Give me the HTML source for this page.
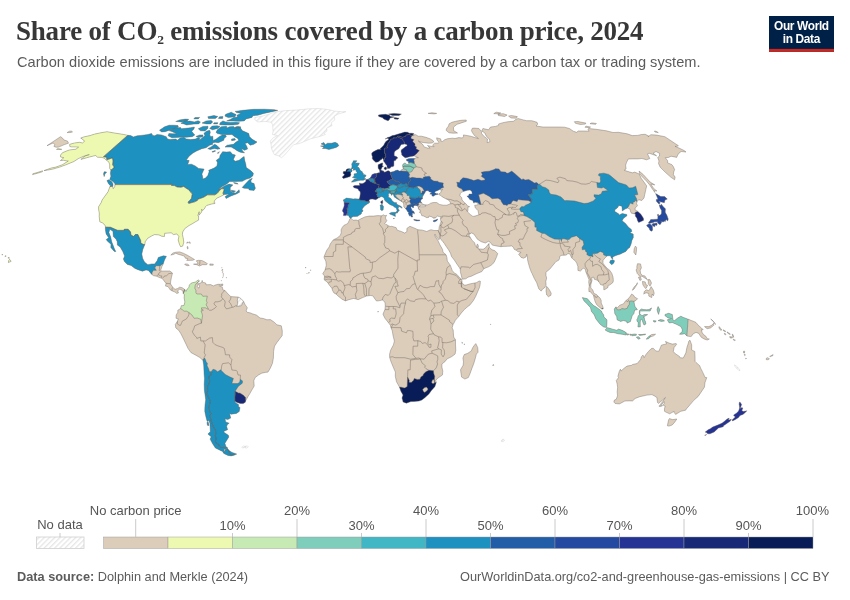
<!DOCTYPE html>
<html><head><meta charset="utf-8"><title>Share of CO2 emissions covered by a carbon price</title>
<style>
html,body{margin:0;padding:0;background:#fff;}
body{width:850px;height:600px;overflow:hidden;position:relative;font-family:"Liberation Sans",sans-serif;}
svg{position:absolute;left:0;top:0;}
.title{font-family:"Liberation Serif",serif;font-weight:bold;font-size:27px;fill:#373737;letter-spacing:-0.21px}
.sub{font-size:14.6px;fill:#5b5b5b;letter-spacing:0.02px}
.leg text{font-size:13px;fill:#555;}
.foot{font-size:12.75px;fill:#5b5b5b;}
</style></head><body>
<svg width="850" height="600" viewBox="0 0 850 600">
<defs>
<pattern id="hatch" width="3.7" height="4" patternUnits="userSpaceOnUse" patternTransform="rotate(45)"><rect width="3.7" height="4" fill="#fff"/><rect width="1.3" height="4" fill="#e6e6e6"/></pattern>
<clipPath id="landclip"><path fill-rule="evenodd" clip-rule="evenodd" d="M438.2 230.5L438.8 229.7L439.3 226.5L439.7 225.8L440.3 223.7L441.0 221.8L440.5 219.5L440.5 218.2L441.0 216.6L439.4 216.6L437.4 216.1L435.7 217.7L433.8 218.2L431.9 216.9L429.0 216.0L428.7 217.4L426.8 217.7L423.8 216.1L421.8 215.6L421.2 213.5L419.3 212.2L420.4 211.7L419.9 209.6L418.4 209.1L418.4 207.8L419.4 206.7L421.1 206.7L424.3 206.7L426.1 205.8L424.2 205.2L422.0 205.2L420.9 205.3L419.5 206.2L418.4 207.6L417.8 206.2L417.9 205.8L415.6 205.4L414.4 205.4L413.4 206.7L413.7 207.2L413.1 207.9L412.4 207.2L411.3 206.5L410.8 207.8L411.8 209.6L411.7 210.6L413.4 211.1L414.3 212.4L414.3 213.9L413.4 213.1L412.1 213.2L412.7 214.5L411.8 214.3L412.7 216.9L411.4 217.1L410.4 215.6L409.6 216.1L408.5 213.7L408.1 213.4L409.3 212.4L408.0 212.2L407.0 210.6L405.8 208.8L403.9 207.0L403.7 204.4L403.6 203.0L401.6 201.5L399.6 200.3L396.9 198.7L394.3 196.9L393.5 194.8L392.2 194.1L391.5 195.4L390.8 193.6L389.5 193.2L388.1 194.1L388.6 195.1L388.3 196.9L390.9 198.5L392.1 200.8L394.3 202.6L396.8 202.8L396.3 203.9L398.7 205.2L400.9 206.2L402.0 207.5L401.8 208.3L400.7 207.2L398.8 206.5L398.1 208.5L399.3 210.4L398.1 211.7L397.1 213.2L396.3 213.0L396.5 211.4L397.1 210.4L396.1 207.8L394.6 207.2L393.5 206.2L392.8 205.7L390.2 204.7L388.4 203.4L386.0 201.5L384.7 200.3L384.0 197.9L383.1 197.2L381.2 196.4L379.4 197.7L378.3 197.9L377.1 199.0L375.5 199.7L373.8 199.2L372.1 199.0L370.0 199.2L369.0 200.5L369.4 201.5L369.4 202.8L367.3 204.1L364.4 206.0L362.7 208.3L362.1 209.3L363.1 211.0L361.6 212.2L361.2 214.0L358.6 215.6L357.9 216.2L355.1 216.4L353.2 216.4L351.1 217.8L350.6 218.2L349.1 216.9L348.9 215.8L346.7 215.1L345.7 215.6L343.4 215.6L343.8 213.0L343.0 211.8L342.4 211.0L342.9 209.3L343.8 207.2L344.3 205.2L344.1 202.8L343.8 201.3L343.2 200.0L345.4 198.7L346.4 198.1L350.2 198.5L353.3 199.0L354.8 198.8L358.5 199.1L359.6 198.5L360.0 196.1L360.4 193.6L360.2 191.8L358.6 190.2L358.2 189.2L357.0 188.4L354.0 187.7L353.1 186.2L354.8 185.4L357.2 185.6L358.7 185.5L359.7 185.5L359.5 183.1L360.1 182.9L360.5 183.7L362.9 183.4L364.9 182.2L365.9 181.3L365.9 179.8L367.7 179.3L369.4 178.6L370.6 177.3L371.6 175.8L371.9 174.7L373.3 174.1L374.8 173.4L376.4 173.6L378.3 172.8L379.5 173.1L379.6 172.1L379.9 171.1L379.3 169.8L378.2 168.2L378.1 165.9L378.2 164.7L381.4 163.2L382.7 162.9L382.6 164.2L382.3 165.7L383.5 166.2L382.2 166.9L381.5 168.4L381.2 169.1L381.0 170.0L382.1 170.8L383.8 171.1L383.9 172.2L386.2 171.7L386.9 171.0L389.0 170.8L390.3 172.3L393.7 171.5L395.6 170.6L398.0 170.1L398.9 171.1L400.7 171.0L401.3 169.8L402.2 169.6L403.3 168.9L403.0 167.9L402.9 166.9L402.6 165.2L403.1 164.0L405.2 162.9L406.6 164.4L408.2 164.7L408.8 163.7L408.5 162.5L408.5 161.3L406.8 161.0L406.4 159.4L408.5 158.8L410.8 158.4L414.6 158.6L416.2 157.7L418.4 157.7L416.0 156.7L414.9 156.0L413.7 156.1L410.5 156.5L408.7 157.0L405.2 157.8L403.5 156.5L401.8 155.1L401.7 153.6L401.1 151.7L401.2 150.1L403.2 148.5L405.8 146.4L407.2 145.7L406.8 144.6L404.8 143.9L401.4 144.4L400.4 145.7L399.8 147.1L398.8 148.7L396.6 149.9L394.9 151.3L394.2 152.7L394.2 155.8L396.7 156.7L397.8 157.9L396.3 159.1L395.4 160.6L393.9 160.8L393.9 162.7L393.9 165.4L393.2 166.6L391.0 166.8L390.1 168.2L387.7 168.6L387.0 167.1L387.0 165.7L385.4 163.7L385.1 163.0L383.7 161.3L383.5 159.6L382.4 157.7L382.2 159.1L380.6 159.8L379.2 161.3L377.7 162.0L375.8 162.3L373.3 160.1L372.3 158.6L372.4 156.5L371.8 155.1L371.8 152.9L373.7 151.5L375.6 150.6L377.9 149.4L381.2 149.3L380.1 148.7L382.1 146.9L383.7 145.2L384.6 143.4L385.9 141.4L387.3 140.5L389.0 138.9L387.2 138.3L385.1 139.0L387.5 137.6L389.6 136.9L392.4 135.6L394.3 135.3L396.7 134.5L399.1 133.8L401.7 133.0L404.8 132.1L407.8 132.3L409.1 133.2L412.1 133.2L414.1 133.8L412.6 135.1L413.9 134.9L415.8 134.7L418.1 136.2L421.3 136.2L425.9 137.3L430.3 138.9L433.1 140.7L433.7 142.0L432.0 143.0L428.6 143.2L423.2 142.5L419.5 141.8L418.3 140.9L422.9 144.6L424.1 146.9L427.4 148.0L430.1 148.2L427.5 145.5L430.4 146.2L434.1 146.7L432.6 145.0L434.6 143.2L438.1 143.2L439.0 142.3L437.0 140.0L436.6 137.8L440.8 138.9L440.8 141.1L442.6 141.4L444.6 139.8L447.5 138.7L452.4 138.2L455.0 138.5L458.8 137.6L462.4 138.0L463.4 136.7L463.5 134.9L469.7 136.0L471.7 136.5L475.8 137.8L478.4 138.5L474.5 135.6L472.5 132.8L471.4 130.6L472.3 128.3L474.2 128.1L478.9 128.5L481.3 131.2L481.7 133.8L484.4 136.7L487.5 138.9L487.2 142.7L490.0 141.6L489.2 138.9L486.3 136.2L484.9 133.0L481.8 131.0L482.9 128.5L488.6 129.8L490.5 127.0L495.5 126.4L498.5 125.4L498.7 123.9L502.9 122.7L507.9 121.7L513.6 121.3L514.9 119.9L518.1 118.5L523.2 119.9L526.5 120.7L531.8 120.7L537.0 122.3L537.8 124.1L536.1 126.0L542.9 127.0L550.0 127.0L558.7 127.0L564.6 127.2L569.4 128.5L573.3 131.2L576.6 132.3L578.3 131.0L583.2 131.0L589.1 131.2L587.9 129.1L588.6 128.5L596.2 129.3L606.4 130.8L613.0 132.5L618.4 132.3L627.2 133.8L632.2 135.6L637.7 135.4L641.4 134.5L645.2 134.3L648.7 136.0L648.0 136.7L650.9 134.7L656.5 135.1L664.9 136.7L678.4 145.7L677.3 146.2L675.0 146.4L679.0 148.0L684.2 150.6L686.0 152.0L681.2 151.5L678.9 153.2L677.7 155.1L676.7 157.4L671.0 156.2L668.7 157.4L665.3 157.7L667.7 160.8L667.5 162.7L671.9 164.7L673.3 166.6L674.6 169.6L673.7 172.1L673.4 174.6L675.1 177.1L674.6 179.8L670.7 177.1L665.1 172.1L660.1 167.1L658.5 163.5L659.0 161.0L657.7 157.4L659.5 156.0L659.6 153.4L656.0 151.5L653.1 153.2L656.6 155.8L649.0 153.2L647.5 153.9L649.8 158.6L646.5 159.8L641.9 158.5L638.0 158.9L632.5 158.9L628.3 159.0L626.6 162.3L625.6 165.2L626.1 168.9L624.2 170.3L629.9 172.1L632.5 172.8L634.8 172.1L639.3 174.1L641.2 178.3L644.0 182.1L646.7 185.9L645.8 189.7L644.8 194.3L644.0 197.9L641.8 200.5L638.9 199.7L637.2 201.2L636.5 203.6L637.5 205.7L635.2 208.0L635.0 209.8L637.8 211.4L640.9 214.3L643.4 218.2L643.6 220.3L641.5 221.3L638.7 222.4L637.6 220.8L636.9 218.2L635.3 216.1L635.5 214.3L634.0 213.7L631.4 213.2L630.5 211.4L630.0 209.1L627.5 208.0L625.0 209.1L622.3 210.9L622.1 208.3L621.9 206.2L618.9 205.4L617.3 208.0L614.8 209.8L614.8 211.4L618.5 213.7L619.3 215.1L622.2 213.5L626.8 214.5L626.9 215.8L623.6 218.2L622.1 220.8L625.5 223.4L628.3 227.1L631.3 229.4L631.8 231.5L629.9 232.8L633.2 234.1L633.3 237.5L631.9 240.4L631.0 244.3L629.5 247.7L628.1 248.5L625.8 251.4L622.0 253.2L620.6 254.0L619.1 254.5L615.9 255.5L612.7 256.9L612.7 259.2L611.3 257.9L610.5 255.8L607.8 255.8L607.0 256.1L605.0 257.9L603.1 260.3L602.9 263.1L605.1 266.0L607.3 268.4L609.9 270.4L611.9 273.6L613.0 277.0L613.4 280.9L612.7 282.7L609.6 285.1L608.1 285.3L608.0 287.4L604.9 289.5L603.8 289.8L603.8 286.6L602.8 285.1L600.7 284.8L599.3 282.5L598.8 281.9L597.0 280.1L594.2 279.2L593.8 277.2L591.7 277.5L592.0 280.4L590.8 284.8L590.8 288.0L592.8 290.0L593.9 293.4L596.5 294.5L597.9 296.1L600.1 298.1L601.2 300.5L601.2 303.1L602.5 305.7L603.4 308.6L601.6 308.9L599.3 307.0L596.7 304.7L595.2 301.8L594.1 298.1L593.5 295.5L592.0 293.4L589.8 291.4L589.0 291.9L588.8 288.7L589.3 286.1L588.7 282.2L589.0 279.6L587.4 275.7L585.8 271.8L585.3 269.1L583.3 268.1L582.1 269.4L580.3 271.1L577.9 270.4L577.9 266.5L576.7 263.1L575.0 260.5L573.3 259.5L571.7 257.9L570.4 255.3L570.0 254.0L567.7 253.5L566.6 255.0L564.1 255.3L561.8 255.3L559.5 256.6L559.6 258.7L558.6 260.3L555.9 261.6L553.7 264.4L552.3 266.0L550.3 268.6L548.2 270.4L545.9 272.3L546.0 275.7L546.7 278.0L545.8 281.4L546.1 285.3L544.3 288.0L542.6 289.0L541.2 291.1L538.9 289.0L537.8 286.1L536.7 282.7L534.3 278.5L532.1 273.6L531.2 271.8L529.7 267.8L528.2 262.6L527.5 259.5L527.4 256.9L526.7 254.2L526.1 256.9L523.5 258.2L521.1 257.4L518.6 254.2L521.1 252.4L517.8 251.6L516.3 250.3L514.4 249.5L513.3 247.4L511.9 245.9L507.5 246.3L503.0 246.4L501.0 246.7L496.2 245.9L492.3 245.1L490.2 242.2L488.5 241.3L485.4 243.0L481.2 241.7L477.5 239.3L475.7 236.7L473.7 233.9L471.2 232.8L470.2 234.0L469.1 234.0L469.1 235.4L470.5 237.8L472.1 240.4L474.6 242.7L475.3 245.4L476.9 247.6L476.7 245.6L477.4 243.9L478.5 246.1L478.0 248.0L478.8 249.0L480.8 249.0L483.1 249.3L485.0 248.2L486.8 246.1L488.4 244.2L489.0 243.4L489.1 245.4L489.4 247.2L490.0 248.2L492.2 249.8L494.7 250.6L497.7 253.5L496.8 256.3L495.7 258.9L494.0 262.6L491.2 265.2L488.6 266.8L486.0 267.8L483.8 268.7L481.9 271.5L477.0 273.5L475.0 274.4L471.4 276.2L468.0 277.2L465.8 278.8L462.4 279.2L461.8 277.5L461.0 274.4L460.4 271.8L460.3 269.4L459.5 267.8L456.8 263.9L454.6 260.5L451.4 256.3L450.5 253.2L448.2 249.3L446.2 246.4L444.5 243.8L442.0 240.4L440.3 238.8L440.3 235.6L440.2 235.2ZM461.4 192.3L463.3 191.5L467.5 190.2L470.1 190.0L471.9 191.5L472.2 194.1L469.1 194.1L468.5 195.9L466.9 196.1L469.0 198.2L469.8 199.5L472.7 200.5L473.8 203.1L475.5 202.3L477.8 203.1L478.1 204.7L475.9 205.2L474.7 205.2L475.2 207.8L476.9 209.3L478.0 210.6L478.9 214.8L475.0 216.1L472.9 216.4L470.2 214.4L467.6 211.9L468.0 209.6L467.9 207.2L469.6 206.7L467.6 206.0L466.1 203.9L464.3 202.5L462.1 200.0L461.6 197.4L459.8 195.9L460.3 193.6ZM424.2 204.7L427.2 204.9L429.1 204.4L430.2 203.4L432.8 202.6L436.7 202.5L439.4 204.4L443.1 205.2L446.7 205.2L450.3 203.9L450.3 202.2L448.5 200.0L445.6 198.7L441.6 196.4L441.0 195.6L438.8 194.6L438.9 193.8L440.2 193.1L440.8 192.3L441.2 191.0L440.9 190.2L442.8 189.6L442.1 189.1L439.5 189.6L437.8 190.4L435.2 191.5L434.5 192.5L436.6 193.8L438.0 193.7L438.0 194.3L435.9 194.8L434.2 195.5L433.7 196.3L432.0 196.0L431.9 194.3L429.8 193.9L431.8 192.3L429.5 192.0L428.0 190.5L427.2 190.7L425.7 191.0L424.9 192.8L424.0 194.1L422.4 196.9L422.4 199.0L421.0 199.5L420.6 201.3L421.6 202.6L422.2 203.9Z" /><path d="M107.1 131.7L113.0 132.8L118.3 133.6L123.8 134.5L127.8 135.3L130.7 135.6L133.3 136.9L137.2 135.8L141.0 135.4L147.9 134.5L151.6 133.4L152.7 135.4L154.7 135.8L157.0 134.5L161.5 134.9L166.3 136.7L167.5 138.9L170.2 139.6L175.8 139.1L177.3 140.2L180.2 138.0L184.0 137.6L186.1 138.9L190.7 139.6L195.3 139.1L198.1 137.8L200.1 138.5L198.5 140.5L200.9 138.9L205.0 135.6L203.9 133.4L206.3 131.2L209.7 130.2L210.3 132.3L209.7 134.9L210.8 136.7L212.8 136.2L213.0 138.9L213.0 140.5L215.9 139.3L219.2 136.7L222.2 134.9L225.4 135.1L226.4 136.5L224.1 138.5L223.8 140.2L218.3 142.7L215.1 142.3L212.4 143.0L212.8 144.3L209.6 145.2L206.0 147.8L201.8 148.7L196.6 151.0L192.7 153.2L189.1 156.2L186.3 160.1L189.2 160.6L187.6 164.4L191.5 164.2L195.2 165.9L198.6 168.4L204.1 169.1L201.9 174.1L202.6 176.6L202.8 179.1L205.5 178.1L207.8 175.6L209.1 171.8L208.7 170.3L214.1 168.1L216.9 165.9L217.5 162.7L216.3 160.3L219.6 157.9L220.0 155.5L222.6 151.7L226.6 152.0L230.3 151.7L232.5 154.3L235.4 155.1L233.4 159.4L235.1 161.3L239.1 160.3L242.2 157.7L244.1 156.5L244.7 160.3L245.8 164.2L246.3 167.6L249.1 169.4L251.3 171.1L253.4 173.3L252.9 175.8L250.2 178.1L246.0 179.3L242.3 181.3L235.7 181.5L229.6 181.6L226.8 183.9L222.2 186.4L218.0 189.7L220.5 188.4L224.5 185.9L229.1 184.1L232.9 184.9L230.2 187.4L230.3 189.7L230.7 191.5L232.4 192.5L235.6 193.1L239.1 189.7L239.5 192.3L236.3 194.1L231.0 195.9L226.1 198.5L225.2 196.6L229.1 194.1L224.2 194.6L220.4 196.6L216.8 198.2L214.5 200.8L214.0 202.8L215.2 203.1L214.4 203.6L212.0 203.9L206.8 205.4L205.7 206.5L204.2 209.1L202.5 210.5L201.7 209.1L201.7 211.9L199.0 215.3L199.2 211.7L197.8 215.6L198.6 216.1L198.6 220.1L195.8 221.6L192.4 223.7L189.1 225.5L184.8 228.6L182.7 232.0L182.4 234.4L183.2 238.0L183.8 242.2L182.7 246.1L180.6 246.7L179.4 244.3L178.2 239.9L178.9 236.5L176.8 233.9L173.5 234.6L171.2 232.8L167.9 233.1L164.7 233.3L164.4 236.5L161.6 236.2L159.0 234.9L154.6 234.6L152.1 235.7L147.7 238.3L145.2 241.7L144.8 244.6L142.8 249.5L141.8 254.0L142.6 258.2L144.5 262.1L147.8 264.7L151.7 263.9L154.7 263.9L157.2 260.5L158.3 257.4L163.3 255.8L166.4 256.3L164.5 260.0L163.0 264.4L161.9 266.5L160.8 269.9L161.3 271.2L162.9 271.0L166.4 271.0L169.8 271.0L172.5 273.1L171.5 277.0L170.7 281.2L170.5 283.8L172.0 286.1L173.5 288.2L175.2 289.3L177.6 288.5L179.7 287.2L182.2 287.7L184.7 289.5L183.3 293.4L182.8 290.8L179.9 289.0L177.7 290.8L178.5 292.9L176.7 293.4L175.1 292.1L171.9 290.8L170.4 290.0L168.0 286.6L165.5 286.1L166.0 283.3L163.7 280.4L162.0 278.3L160.0 277.8L156.5 276.2L153.5 275.7L151.8 274.4L148.4 270.4L146.0 269.9L142.4 271.2L138.0 269.7L135.0 268.4L131.1 265.5L127.3 264.4L124.4 261.6L123.4 258.9L124.6 256.1L122.8 251.6L120.1 246.9L117.4 245.1L117.2 241.7L116.1 239.3L113.3 236.5L112.9 231.2L109.8 229.2L108.9 232.6L110.7 237.0L111.7 241.7L113.2 245.6L114.5 249.0L115.8 251.6L114.3 251.4L110.8 247.4L111.0 244.3L107.5 241.2L106.2 239.6L108.7 237.8L106.1 233.9L105.4 229.7L105.4 227.3L105.4 226.0L103.8 223.9L102.5 222.9L99.8 221.8L99.2 216.6L99.3 213.5L98.6 209.1L98.6 206.7L101.2 202.6L102.1 200.0L108.0 191.8L110.1 186.2L112.8 186.7L113.2 188.7L114.7 186.7L115.0 184.6L114.8 183.6L113.0 181.6L109.7 179.6L110.9 176.3L110.4 173.3L110.9 170.3L109.7 168.4L109.7 164.7L108.7 161.8L106.4 160.3L104.2 158.2L101.8 157.4L97.5 157.2L95.6 155.5L89.4 157.0L86.2 157.9L80.9 159.4L85.3 155.8L89.3 154.6L83.8 156.2L78.4 158.6L73.9 161.5L66.2 164.7L59.7 167.1L52.9 169.1L47.6 170.1L44.0 170.6L51.0 168.1L55.9 167.1L62.4 164.7L68.3 161.0L66.1 160.8L63.5 160.3L60.4 160.6L63.8 157.7L60.6 157.0L60.5 155.1L62.5 152.7L67.1 150.8L69.7 149.9L75.9 149.2L78.6 147.1L75.3 146.9L71.1 146.9L69.8 146.4L69.7 144.3L74.4 143.0L79.6 142.3L82.5 143.0L84.6 141.1L83.1 140.0L82.1 138.7L80.7 138.1L83.8 136.9L89.9 135.6L94.6 134.1L100.6 132.8ZM112.8 186.2L110.0 185.4L108.4 183.4L106.9 180.6L108.9 179.8L111.8 181.8L113.0 183.9ZM104.2 176.6L103.5 174.1L104.2 171.8L106.7 172.1L104.9 174.1ZM42.3 171.8L38.0 173.1L32.6 174.6L32.8 173.8L37.9 172.3L42.7 170.8ZM61.4 149.6L58.7 149.4L56.5 149.4L57.8 148.7L60.2 148.9L61.8 149.2ZM252.3 178.3L249.4 179.8L246.7 182.6L242.2 187.4L244.0 188.2L248.6 188.4L249.2 190.0L252.2 190.2L254.0 190.5L255.4 188.2L254.5 185.6L254.1 183.6L251.1 182.6L251.0 180.6ZM231.3 190.2L235.6 191.1L233.6 192.3L231.4 191.4ZM233.5 182.6L236.9 183.1L238.2 184.1L234.9 183.6ZM244.5 152.9L240.3 152.2L237.1 150.8L234.6 148.9L231.2 147.1L225.0 147.1L227.1 145.2L233.4 144.3L235.7 142.3L238.8 140.2L237.5 138.2L234.6 136.7L232.0 134.5L227.3 134.7L221.7 134.5L217.4 133.6L216.0 132.3L217.4 129.8L221.1 126.8L226.5 126.2L226.9 128.1L229.5 126.8L233.7 126.6L234.9 128.1L238.3 126.8L240.8 128.3L242.1 130.6L245.5 132.1L248.8 133.6L249.4 136.5L251.9 139.1L255.2 141.1L257.0 142.0L253.8 144.3L250.2 145.2L247.7 142.7L245.0 143.4L246.7 146.2L247.6 148.9L244.5 150.3L241.4 148.5L242.5 150.8ZM220.1 148.7L217.5 149.2L214.4 148.5L210.2 149.4L207.7 148.7L211.1 146.9L214.6 144.3L216.6 145.2L218.7 147.3ZM215.6 151.0L212.9 152.2L211.9 151.7L214.9 150.6ZM219.5 151.7L217.4 152.9L218.0 153.6ZM235.5 140.0L231.7 140.7L231.5 139.1L234.8 138.5ZM192.3 136.7L185.9 137.3L180.0 137.3L171.9 137.8L168.1 135.8L168.9 133.4L172.6 133.8L176.7 133.8L171.9 131.5L169.3 130.8L174.7 128.3L180.5 127.4L181.4 128.7L185.9 128.3L190.6 127.7L194.4 127.0L194.0 128.9L191.7 131.2L193.5 133.6L194.8 134.9ZM161.6 131.9L159.5 130.2L164.6 126.8L169.1 125.2L173.8 125.2L178.0 125.6L178.3 127.2L169.3 130.2L165.1 131.7ZM204.9 131.0L200.5 130.8L198.3 128.7L203.0 126.4L208.0 126.2L207.8 128.5ZM217.7 128.5L212.5 129.8L209.7 128.5L212.2 126.0L217.1 125.8L220.0 126.4ZM202.6 136.9L198.3 137.6L195.9 136.5L199.7 134.9L203.1 134.9ZM198.7 123.9L193.8 124.1L186.6 125.0L184.0 123.9L180.9 123.3L184.4 121.3L190.0 121.1L194.3 121.9L198.1 120.7L200.4 121.9ZM187.2 120.9L181.3 121.9L175.7 121.5L179.6 119.9L185.3 119.1L188.7 119.3ZM210.7 123.9L206.5 123.9L202.0 123.1L206.2 120.9L211.3 120.5L212.7 121.9ZM217.4 123.9L213.5 123.9L214.1 122.7L217.9 122.7ZM238.3 124.3L232.8 125.0L224.9 125.0L219.7 124.7L220.0 122.9L222.9 120.9L225.7 121.9L230.4 122.5L236.0 122.3L239.5 122.7ZM244.2 120.9L238.5 121.3L233.4 121.1L226.7 120.9L230.7 119.3L233.4 117.6L237.7 117.0L236.9 115.2L241.1 113.4L236.5 112.5L235.1 111.4L242.8 110.3L253.6 109.3L264.6 109.2L274.4 109.7L277.8 110.4L271.8 111.7L263.8 113.4L257.8 115.2L252.9 115.7L252.0 117.4L246.1 118.9ZM235.0 116.8L228.2 117.6L224.9 116.1L225.7 114.3L231.3 112.2L233.8 113.6L236.1 114.6ZM215.4 118.4L208.5 118.5L207.8 116.8L214.0 115.5L217.8 116.5ZM222.6 118.5L218.4 118.4L219.5 116.8L222.9 116.5ZM198.2 118.9L193.8 118.9L194.9 117.6L199.7 117.4ZM240.6 127.9L237.1 128.3L234.6 127.4L236.9 126.6L240.6 126.8ZM170.8 255.0L173.1 252.9L176.0 252.2L179.6 251.9L183.3 253.2L187.5 255.3L191.1 257.4L194.5 259.5L192.6 260.3L186.7 260.4L188.0 258.7L185.4 258.2L184.3 256.1L180.8 255.0L177.9 254.2L175.8 253.2L173.4 254.5ZM193.5 264.2L196.7 264.7L199.5 266.0L202.4 264.7L206.5 264.7L207.5 263.7L204.5 261.8L201.9 260.5L198.3 260.3L196.2 260.8L197.6 262.6L197.9 263.9L195.6 263.9ZM184.6 264.4L187.0 265.7L189.3 265.5L187.9 264.2L185.8 263.9ZM209.8 265.2L213.2 265.2L213.3 264.2L209.9 263.9ZM187.0 246.9L187.6 249.0L188.2 248.5L187.6 246.4ZM188.7 242.0L190.0 243.5L190.4 242.7L189.2 241.8ZM186.5 243.0L188.4 242.7L187.6 242.2ZM220.5 285.9L222.5 285.9L222.9 284.0L221.0 284.3ZM8.4 262.6L11.2 261.3L9.6 259.3L8.6 260.8ZM7.9 257.9L9.4 258.3L9.1 257.4ZM4.9 256.3L5.9 256.6L5.7 255.5ZM1.8 254.8L2.7 254.9L2.4 254.2ZM221.7 270.4L222.4 269.3L223.1 269.8L222.2 270.6ZM222.8 274.1L223.3 273.5L223.5 274.4ZM222.3 272.3L222.7 271.5L222.8 272.4ZM223.0 276.2L223.3 275.5L223.3 276.3ZM222.4 277.8L222.7 277.4L222.7 277.9ZM221.1 280.8L221.4 280.4L221.4 280.9ZM226.1 278.0L226.4 277.5L226.5 278.0ZM221.7 267.7L222.0 267.4L222.1 267.8ZM184.7 289.5L186.0 291.4L187.2 289.0L188.9 287.4L189.3 285.1L191.0 283.3L192.4 282.7L195.2 282.2L198.3 279.9L199.6 280.9L199.1 281.4L197.7 282.5L198.3 284.0L197.2 286.6L199.0 288.2L199.5 286.1L198.5 283.8L201.6 282.5L202.2 280.4L202.5 282.2L205.7 283.0L206.0 284.8L210.7 284.6L213.3 285.9L215.0 285.1L218.0 284.3L220.5 284.3L218.9 285.6L222.5 287.4L222.8 289.8L225.1 290.6L228.0 294.0L230.9 296.6L233.9 296.8L238.3 297.1L240.8 298.4L243.5 301.3L245.0 304.4L247.3 307.8L246.1 311.0L247.3 312.3L250.7 313.0L252.4 313.8L256.5 315.1L260.0 318.0L263.5 318.5L266.9 319.8L270.4 319.6L273.9 321.9L276.9 324.8L281.3 325.8L282.3 330.8L282.2 335.5L279.1 339.7L277.1 342.3L274.5 346.2L273.6 351.5L273.4 358.0L272.4 363.5L270.2 368.4L268.0 372.1L265.3 372.4L261.7 373.2L258.5 375.0L255.1 377.6L253.8 380.7L254.2 386.0L251.8 390.1L250.0 393.3L248.1 396.4L245.9 400.3L245.3 402.2L243.2 403.6L240.3 403.5L236.6 402.3L235.1 401.1L235.4 402.7L238.4 404.5L238.6 406.9L240.0 407.4L239.2 411.6L236.4 413.4L231.2 414.2L229.6 413.6L230.7 418.1L227.7 419.6L225.0 418.8L225.7 421.9L229.2 423.2L227.6 424.3L226.6 426.3L227.6 429.7L224.0 431.2L223.9 432.2L228.4 435.3L228.8 437.1L226.7 440.4L224.9 443.2L225.9 446.5L228.0 448.3L226.0 448.7L223.8 449.5L224.7 451.9L224.0 452.2L221.0 450.7L218.5 449.5L215.4 448.0L212.6 443.7L210.1 439.1L211.2 436.8L207.9 434.0L210.3 431.7L210.2 428.4L209.9 423.2L208.8 420.6L207.1 421.2L205.9 416.8L204.8 411.6L204.8 409.2L205.0 405.0L205.7 399.8L204.8 393.3L204.4 390.4L204.2 384.1L204.5 378.6L204.1 373.9L203.8 367.1L203.7 365.1L202.9 360.3L199.8 357.5L196.2 355.4L190.9 352.5L188.1 348.6L185.9 343.9L183.5 338.9L180.9 333.7L178.7 330.3L175.8 327.9L175.3 324.5L177.5 321.1L178.3 318.8L176.0 318.3L176.2 314.9L177.8 312.3L177.8 310.2L180.6 308.6L181.3 305.7L183.9 305.5L184.9 302.1L184.1 297.9L184.4 294.8L183.3 293.4ZM227.9 449.1L229.4 450.7L232.1 452.4L236.7 454.1L234.6 455.0L231.1 455.9L228.0 455.4L224.3 453.7L222.8 452.4L225.2 451.5L224.9 449.7L226.5 449.0ZM207.8 421.4L207.0 422.7L207.4 425.3L209.0 425.6L208.4 422.7ZM349.9 218.7L351.2 218.4L353.1 220.3L356.2 220.0L357.9 220.5L360.5 219.0L364.9 216.9L369.2 216.1L373.5 216.1L377.8 215.6L381.3 215.8L383.8 214.8L384.9 215.8L386.6 215.3L385.6 217.1L385.7 219.0L386.8 220.3L386.0 222.1L384.8 223.4L385.7 224.4L387.0 224.7L387.9 225.5L390.1 226.5L391.7 226.3L396.1 227.6L397.3 230.2L401.4 231.5L404.8 233.1L406.9 231.5L406.9 228.4L409.9 226.3L413.7 227.8L418.0 229.7L422.7 230.2L426.8 231.5L428.9 230.5L431.0 229.7L434.0 230.5L438.2 230.5L440.2 235.2L439.5 237.8L439.1 239.8L437.5 238.3L436.1 236.5L435.0 234.1L434.6 235.2L435.9 237.8L437.7 240.1L438.5 241.7L439.8 244.6L442.6 249.5L443.0 252.2L446.1 254.8L446.9 257.4L447.3 261.0L450.3 265.2L452.2 270.4L452.9 271.5L454.6 273.1L456.9 274.4L459.8 277.8L461.5 279.1L462.0 280.9L462.1 282.2L460.7 281.9L461.8 282.3L463.8 285.0L466.1 285.1L469.5 284.0L472.9 283.3L476.3 282.7L479.2 281.0L480.4 281.3L480.1 284.8L479.5 287.4L477.8 291.4L475.6 296.6L473.4 300.5L470.0 304.9L467.2 307.0L464.3 309.6L461.3 313.0L458.7 316.6L456.9 318.5L455.2 320.6L454.0 323.0L453.1 324.5L452.1 327.9L453.2 330.0L453.4 333.2L453.7 337.1L455.5 339.7L455.5 344.9L455.8 350.2L455.1 354.1L451.6 356.7L446.9 359.0L445.2 361.4L441.9 364.0L441.9 367.1L442.8 371.1L442.4 375.0L437.9 378.1L435.8 380.2L436.3 382.4L434.8 386.7L431.4 390.4L428.9 394.1L424.8 397.7L421.8 400.1L418.9 401.1L414.0 401.4L410.9 401.6L406.3 403.2L403.9 402.2L403.0 402.0L402.9 400.9L402.0 398.0L403.0 395.1L401.0 391.4L399.4 387.0L397.8 384.1L396.5 381.8L395.3 376.3L395.4 372.1L393.0 366.6L390.9 361.4L389.6 357.3L389.6 354.1L390.6 350.2L393.4 344.9L394.4 341.0L393.1 335.8L392.2 330.6L391.0 327.9L390.4 325.3L388.3 322.5L385.1 318.5L383.5 315.4L383.0 314.1L384.2 311.2L384.9 309.6L385.3 306.2L385.1 303.1L384.6 302.1L383.2 300.4L382.3 300.0L378.8 300.8L376.5 301.0L374.2 297.9L372.8 295.8L370.5 295.5L368.9 295.7L366.4 296.1L362.7 297.6L358.1 299.7L355.6 298.9L353.5 298.5L348.9 299.7L345.4 300.9L342.0 299.2L337.8 295.8L336.2 294.2L333.9 292.9L332.3 290.0L332.1 288.7L331.2 287.4L328.9 284.6L328.3 283.5L326.5 281.4L324.4 280.1L324.2 278.0L324.5 277.0L324.3 275.7L322.7 273.8L324.3 271.2L325.0 270.2L326.3 265.2L325.9 261.6L325.3 260.0L324.1 257.9L324.2 256.3L326.7 250.3L329.2 246.9L330.2 244.1L333.2 239.9L337.1 238.0L340.3 235.4L341.2 232.8L341.1 229.9L342.3 227.3L344.1 225.2L346.1 224.4L347.8 223.4L349.2 220.5ZM475.8 343.6L477.7 347.5L478.1 352.2L476.4 354.1L475.4 358.0L473.9 363.2L471.9 368.4L470.0 373.7L468.3 377.6L464.8 379.0L461.6 377.1L461.0 373.4L460.5 369.8L463.1 365.3L463.5 361.9L462.9 358.0L464.2 354.6L467.7 353.3L471.3 350.9L472.6 347.8L474.6 344.9ZM377.7 312.0L378.2 311.2L378.3 312.0ZM461.8 342.3L462.5 342.6L462.3 343.4ZM464.1 343.9L464.7 344.1L464.3 344.7ZM492.6 365.1L493.5 364.5L493.7 365.3L493.0 365.8ZM490.3 324.3L490.8 324.3L490.7 324.8ZM308.4 273.1L309.1 272.3L309.1 273.2ZM305.1 267.7L305.9 267.3L305.6 268.0ZM310.3 270.2L310.9 269.9L310.8 270.4ZM306.8 273.5L307.2 273.1L307.1 273.6ZM60.5 136.7L62.2 137.8L64.0 140.0L67.5 141.1L68.5 143.2L64.4 144.6L58.6 147.1L56.2 147.3L53.9 146.4L54.8 144.6L53.1 143.0L47.0 145.7ZM655.1 132.1L658.3 132.6L655.9 131.2L654.3 131.2ZM67.1 132.6L70.6 132.5L72.5 131.9L71.3 131.1L69.5 131.2ZM351.3 182.0L352.7 182.1L355.7 181.3L358.7 180.6L360.7 180.2L363.3 180.2L365.5 179.2L365.5 178.6L363.7 178.3L364.7 177.6L366.1 175.8L365.2 174.7L363.3 174.8L363.3 173.3L362.5 173.1L362.3 171.7L360.4 170.6L359.8 169.6L358.9 167.6L357.0 167.1L357.7 166.2L358.9 164.4L359.3 163.2L356.1 163.0L354.8 163.5L356.9 160.8L353.4 160.8L352.7 162.5L351.7 164.0L352.0 165.9L351.7 168.9L353.3 167.9L353.4 169.6L352.8 170.3L355.8 169.8L356.1 171.3L357.1 172.6L356.6 173.6L354.3 173.8L353.9 175.1L354.6 176.1L352.4 177.3L354.2 178.1L356.6 178.6L357.4 178.1L356.5 179.1L354.4 179.1L353.5 180.1ZM350.6 173.8L350.9 174.8L350.1 176.6L346.9 177.6L343.3 178.4L342.2 177.1L344.0 175.6L344.5 174.3L343.0 173.3L343.5 171.6L346.2 171.3L345.9 170.3L346.9 169.1L348.7 168.7L351.0 169.1L351.9 170.3L352.0 171.3L350.8 172.0ZM322.4 148.5L325.4 148.5L328.8 149.4L332.5 148.6L336.2 147.4L338.8 145.7L337.5 143.4L335.1 142.3L331.5 143.2L327.5 143.2L325.3 144.8L323.8 142.4L321.0 143.9L323.4 144.8L324.1 145.7L320.5 146.0L323.9 146.9ZM388.0 120.8L383.7 119.1L382.7 117.8L378.8 116.5L378.3 115.0L382.1 114.5L385.6 114.3L389.5 115.2L390.5 116.5L394.3 117.0L390.1 118.0L389.1 119.9ZM388.5 114.1L394.0 113.4L401.4 114.1L399.0 115.5L392.4 115.5ZM394.1 118.9L397.9 119.3L399.1 118.2L394.5 117.6ZM446.3 130.6L446.3 129.1L447.2 127.7L448.6 126.0L449.0 123.9L451.8 122.3L455.7 121.3L461.0 120.3L466.2 120.0L466.3 121.3L461.4 122.9L457.0 124.3L454.9 126.0L453.4 127.4L453.6 129.1L453.6 130.6L457.5 133.0L453.3 133.2L449.0 132.8ZM428.1 113.4L434.2 113.9L436.7 113.4L431.9 112.7ZM511.0 118.0L516.4 118.2L517.3 116.6L511.4 115.5L508.6 116.1ZM498.4 115.5L504.6 116.5L507.1 115.0L503.3 113.7L498.0 114.1ZM493.8 113.6L499.2 113.9L500.7 112.9L496.2 112.2ZM575.4 123.3L580.4 124.5L585.3 124.1L585.9 123.1L577.9 121.5L574.4 121.7ZM590.0 123.7L595.7 124.3L596.4 123.5L591.8 122.9ZM584.9 127.2L589.8 127.7L590.5 127.0L586.1 126.2ZM639.1 171.1L643.3 174.6L646.7 178.3L650.2 182.1L654.8 184.9L650.8 184.1L653.6 188.4L656.9 191.0L654.5 190.5L654.8 192.4L652.0 188.4L649.4 184.6L646.2 180.8L642.5 177.1L639.6 173.6ZM389.4 213.5L391.2 212.4L396.3 212.3L395.2 214.3L395.4 216.5L392.9 215.3L389.8 214.1ZM382.1 204.5L383.5 206.5L383.1 210.1L381.7 210.6L380.6 209.8L380.5 206.7L380.1 205.2ZM382.4 200.0L382.8 202.3L382.1 204.1L380.8 202.8L380.8 201.5L382.2 200.8ZM413.9 219.4L415.9 219.7L417.2 219.9L419.9 220.0L419.5 220.8L416.5 220.9L413.8 220.1ZM433.0 220.9L434.2 220.3L435.5 219.9L437.8 219.0L436.8 220.8L434.6 221.8L433.3 221.4ZM384.0 167.9L385.6 166.9L386.8 167.9L386.2 169.6L385.3 169.8L384.3 169.1ZM393.5 218.3L394.0 218.1L394.3 218.6L393.8 218.7ZM658.9 203.9L660.3 203.1L658.7 201.3L664.3 202.7L665.0 200.0L667.3 199.1L664.6 196.6L660.8 196.6L655.6 193.6L656.7 196.1L658.0 199.2L656.3 199.5L656.4 201.3ZM661.3 204.1L663.0 206.5L665.4 208.8L665.2 212.2L667.0 215.6L667.9 218.2L668.3 219.0L667.5 221.1L666.3 219.5L665.5 220.5L665.2 221.7L664.1 220.8L663.9 221.8L661.3 221.8L660.6 220.8L661.5 222.6L660.0 224.8L657.7 222.9L657.6 221.7L654.8 221.8L653.0 222.6L649.0 223.5L648.5 222.4L650.0 220.8L650.7 219.6L653.7 219.4L656.9 219.2L657.8 219.0L657.9 216.1L657.3 214.8L658.4 214.3L658.6 216.1L661.0 214.5L661.5 213.2L661.6 210.4L660.1 208.0L659.6 206.2L659.3 204.7L661.1 205.4ZM651.8 225.1L654.0 226.5L654.7 226.8L655.1 225.0L656.8 225.4L657.2 223.9L656.6 222.9L654.4 223.4L652.9 223.4ZM648.8 223.7L650.9 224.4L652.4 226.5L652.6 230.2L651.4 231.2L649.9 230.2L649.1 228.1L647.5 226.8L646.6 225.2L648.1 224.4ZM635.8 255.0L633.8 252.2L634.2 248.8L635.4 246.1L636.6 247.4L636.4 251.6ZM609.6 262.6L611.7 264.7L613.8 263.1L614.5 260.8L612.8 259.7L610.4 260.5ZM546.3 286.6L547.0 286.6L549.5 290.0L551.2 293.2L550.9 295.3L548.4 296.7L546.7 295.0L546.1 291.4ZM637.5 263.7L640.5 263.9L641.4 267.8L640.2 270.4L640.6 273.3L642.3 275.4L644.9 275.9L647.2 279.5L645.2 278.3L642.0 276.2L639.7 276.5L638.6 274.9L637.3 273.6L636.0 269.7L637.0 268.9L636.8 266.5ZM638.4 277.2L640.8 277.5L641.3 279.9L639.9 280.4ZM632.3 290.3L634.1 289.0L637.1 284.3L637.4 282.7L636.5 284.6L633.9 287.2ZM647.7 279.6L649.9 279.6L651.5 283.0L650.4 285.6L649.9 286.1L648.3 283.8L648.3 281.4ZM642.4 281.4L645.2 281.9L646.1 284.8L647.6 285.3L646.2 288.2L645.6 288.6L644.0 286.6L642.9 284.8ZM643.8 294.2L644.2 291.6L646.3 289.8L648.7 290.6L649.6 289.8L651.1 286.6L653.3 290.0L654.2 293.2L653.4 295.8L652.2 294.0L651.7 297.6L648.8 296.1L648.7 293.4L646.6 292.9L644.7 293.2ZM615.8 306.9L617.3 307.8L619.8 305.2L623.4 303.9L625.6 300.8L627.8 299.2L630.0 296.6L631.7 294.0L633.8 295.5L634.6 297.1L637.6 298.7L635.5 300.8L633.9 301.4L634.5 304.4L635.0 306.5L637.4 309.6L634.6 310.2L633.9 313.6L632.3 315.5L631.1 319.3L630.3 321.7L627.0 323.1L626.8 321.4L623.4 320.6L620.6 321.4L617.0 319.8L616.8 316.7L614.8 313.6L614.6 311.5L614.3 309.1ZM582.3 297.6L587.4 298.7L590.4 302.3L593.5 305.5L595.8 306.8L598.8 308.9L601.4 311.0L602.3 313.0L603.7 314.9L603.9 317.0L607.0 319.8L606.9 324.0L606.6 327.5L603.6 326.9L600.2 324.3L598.7 322.5L595.8 318.8L594.3 314.9L591.5 311.5L590.5 307.8L587.2 303.9L584.1 301.0ZM605.2 329.9L607.2 327.7L609.0 328.1L612.7 329.2L616.9 330.3L618.4 329.1L622.2 330.3L626.2 332.6L626.2 335.1L622.0 334.2L618.1 333.8L613.6 332.5L610.1 332.4L607.7 331.5L605.4 330.2ZM626.2 333.7L628.9 334.0L627.7 335.3ZM629.6 334.2L631.2 334.2L630.4 335.5ZM631.4 334.5L634.2 334.0L636.5 334.2L636.2 335.3L631.8 335.8ZM638.5 334.5L642.2 334.5L645.7 334.0L645.2 334.7L639.8 335.4ZM636.3 337.1L638.6 336.8L640.3 338.4L638.4 339.2ZM646.4 339.2L646.7 338.4L648.7 336.6L650.1 335.6L651.7 334.5L655.6 334.2L653.6 335.8L650.3 337.0L648.5 338.7ZM637.9 326.9L640.3 326.9L640.2 322.7L640.5 319.8L641.9 319.3L643.1 323.0L644.0 325.1L645.9 324.0L645.3 321.1L644.6 320.1L644.3 317.5L643.1 317.2L647.7 314.6L644.3 314.6L642.0 315.7L641.1 314.9L639.7 313.8L640.0 312.3L639.8 311.0L642.0 311.1L645.5 311.0L646.9 311.0L650.1 311.1L651.6 307.9L648.9 309.6L646.6 309.8L643.2 309.5L641.5 308.9L639.7 310.2L639.3 312.0L639.4 314.6L638.1 316.2L637.5 318.8L636.8 319.6L637.1 321.5L638.3 322.2L638.2 324.0ZM657.0 309.6L658.1 306.5L659.8 309.6L658.6 314.4L657.5 311.7ZM658.0 320.6L660.4 319.6L663.3 320.1L664.5 320.9L661.4 321.4ZM653.4 320.6L656.2 320.9L655.2 322.2L653.6 321.7ZM665.1 314.4L668.6 313.3L672.3 314.5L672.7 317.5L673.0 319.6L674.1 320.9L677.7 318.0L680.8 316.2L683.5 317.5L687.4 318.9L688.1 319.1L691.5 320.6L694.0 321.5L696.0 322.5L698.8 325.8L701.4 327.9L703.2 329.8L701.3 329.9L702.2 332.6L703.6 334.7L705.4 335.8L707.4 338.7L709.3 339.0L707.2 340.0L703.9 338.9L701.1 337.1L698.7 333.4L696.0 332.4L692.9 334.0L691.5 336.3L690.8 336.6L686.9 336.0L684.8 333.7L681.8 334.2L679.5 334.2L682.3 331.3L682.2 329.2L680.8 326.6L676.3 324.3L672.2 322.5L669.2 323.0L667.3 319.8L670.8 318.8L671.5 318.5L668.0 318.0L665.8 316.2L664.9 315.7ZM704.5 326.6L708.9 326.6L712.0 325.1L713.7 323.2L713.8 325.3L710.6 327.9L707.1 328.7ZM710.7 319.1L713.3 321.4L715.5 324.5L714.9 323.2L712.2 320.1ZM719.2 326.6L721.8 330.0L720.6 330.3L718.9 327.9ZM602.0 308.9L602.4 308.5L602.8 308.7L602.4 309.0ZM690.0 340.2L691.7 344.9L691.6 349.9L694.8 351.5L695.0 356.4L695.1 361.4L696.0 362.4L699.8 365.8L700.5 367.9L702.8 372.4L705.2 377.6L706.8 377.6L704.9 382.8L704.5 387.1L701.2 392.0L698.2 396.4L693.5 400.6L690.4 404.3L686.4 408.9L685.6 410.2L680.8 411.3L675.6 414.4L673.9 412.1L674.1 411.3L669.7 413.8L666.3 412.3L664.5 411.3L664.4 408.9L665.2 406.1L663.4 405.3L662.4 405.4L664.4 403.2L664.0 401.6L661.9 404.3L660.3 404.5L663.1 401.1L665.4 397.5L662.4 400.3L659.1 402.7L658.6 403.5L657.5 402.4L657.0 398.5L657.1 397.7L654.4 395.9L652.0 394.6L647.0 395.1L639.8 396.7L635.1 398.5L632.6 400.9L629.1 400.9L624.9 401.0L619.4 403.9L615.2 403.5L613.8 402.0L614.4 400.1L616.2 399.3L617.5 395.9L617.2 392.0L617.6 387.5L617.2 384.1L616.3 380.5L618.5 377.6L617.9 376.3L619.3 371.3L620.4 369.2L621.0 371.1L623.9 368.4L627.0 366.1L631.5 365.3L632.5 364.5L637.2 363.5L640.7 359.3L641.4 356.7L643.0 355.1L644.2 357.7L645.6 354.9L648.4 351.5L651.0 348.8L653.2 348.2L655.8 350.9L657.6 351.2L658.9 351.2L660.4 347.5L661.4 345.2L662.7 344.8L666.6 343.9L665.5 341.5L667.0 342.1L669.0 343.1L672.3 344.1L676.2 343.6L676.6 344.4L674.1 347.5L673.3 351.5L675.4 353.8L679.5 356.4L679.9 357.7L683.3 358.0L685.9 352.8L686.9 347.5L688.2 343.6L688.9 341.0ZM669.4 418.6L672.6 419.6L676.8 419.0L674.9 421.9L672.2 425.0L668.9 426.1L667.4 425.8L668.0 422.5L668.6 419.9ZM659.1 405.7L661.4 405.3L662.2 405.9L660.4 406.5L659.0 406.3ZM739.4 402.2L740.1 402.2L741.6 404.5L740.2 408.4L742.0 407.6L742.8 408.2L741.8 410.6L743.4 411.6L746.8 410.8L744.7 413.1L742.9 414.4L740.0 415.5L738.5 417.5L735.8 419.3L732.5 420.9L732.1 420.1L733.7 418.6L735.3 417.0L733.8 415.5L733.7 414.9L736.7 413.1L738.6 411.0L739.4 408.7L739.6 407.4L739.3 405.0L739.1 404.3ZM729.2 418.1L728.5 419.9L729.1 419.9L731.4 419.3L730.1 421.3L727.5 423.0L723.2 425.9L723.3 426.7L718.4 428.1L714.2 431.9L710.0 433.8L707.7 433.8L706.9 432.8L705.2 432.1L708.2 429.7L710.7 428.6L712.6 427.1L715.2 426.1L719.0 424.5L722.2 423.1L724.5 421.2L727.1 419.1ZM704.6 435.3L706.7 434.5L705.6 435.3ZM766.3 358.3L767.6 357.7L769.4 358.8L768.2 359.8L766.2 359.6ZM769.7 356.4L773.1 354.6L772.9 355.6L770.6 356.6ZM743.5 351.2L744.7 351.2L744.5 353.0L743.6 353.0ZM744.3 354.1L745.5 354.9L744.6 355.6ZM745.6 358.3L746.5 358.5L745.7 358.9ZM729.7 336.6L732.4 337.1L732.2 338.1L730.0 337.9ZM732.2 334.2L733.1 334.7L733.7 337.3L732.8 336.8ZM727.1 331.9L730.4 334.0L729.9 334.5L727.5 333.0ZM723.2 329.8L725.8 331.3L725.1 331.7L723.3 330.6ZM724.5 333.2L726.0 334.2L725.4 335.0L724.2 334.0ZM733.3 339.2L735.4 340.2L734.2 340.5L733.2 339.7ZM-33.0 347.5L-31.6 347.5L-29.8 348.6L-30.9 348.8L-32.6 348.3Z" /></clipPath>
</defs>
<text class="title" x="16" y="40">Share of CO<tspan font-size="22.5" dy="-0.2">₂</tspan><tspan dy="0.2"> emissions covered by a carbon price, 2024</tspan></text>
<text class="sub" x="17" y="66.6">Carbon dioxide emissions are included in this figure if they are covered by a carbon tax or trading system.</text>
<g id="logo"><rect x="769" y="16" width="65" height="35.8" fill="#002147"/><rect x="769" y="48.9" width="65" height="2.9" fill="#ce261e"/>
<text x="801.4" y="30.3" text-anchor="middle" font-size="11.9" font-weight="bold" fill="#fff" letter-spacing="-0.35">Our World</text>
<text x="801.4" y="42.7" text-anchor="middle" font-size="11.9" font-weight="bold" fill="#fff" letter-spacing="-0.35">in Data</text></g>
<g id="map" stroke-linejoin="round">
<path d="M281.5 157.7L278.5 155.8L274.3 154.6L272.7 151.5L271.4 148.0L271.1 144.6L270.3 141.1L273.2 137.8L277.6 135.6L272.3 134.5L273.1 131.9L272.9 129.1L272.7 125.0L271.3 122.3L265.8 121.5L257.8 121.9L254.9 119.9L254.8 117.6L263.9 115.7L269.8 113.9L274.1 112.2L285.3 110.6L296.7 110.1L308.5 108.8L319.5 108.5L329.2 109.7L334.9 111.2L341.7 111.7L345.9 111.7L337.6 114.3L334.2 116.5L334.8 119.9L331.1 122.9L332.0 125.6L326.7 128.1L326.9 131.2L323.9 133.4L325.4 134.5L319.1 136.7L311.0 138.7L305.2 141.1L299.3 143.6L293.8 144.6L291.2 147.3L288.3 150.8L284.5 155.1ZM241.7 447.0L243.7 446.0L245.1 446.5L244.3 447.7L242.6 448.0ZM245.3 446.0L247.7 446.0L248.3 446.7L247.2 448.0L245.4 448.0ZM734.5 364.8L737.4 366.9L739.8 369.8L739.8 370.8L737.9 369.5L735.1 366.9ZM501.3 440.4L503.2 439.1L504.7 440.4L503.2 441.7L501.3 441.4Z" fill="url(#hatch)" stroke="#c9c9c9" stroke-width="0.4"/>
<path fill-rule="evenodd" clip-rule="evenodd" d="M438.2 230.5L438.8 229.7L439.3 226.5L439.7 225.8L440.3 223.7L441.0 221.8L440.5 219.5L440.5 218.2L441.0 216.6L439.4 216.6L437.4 216.1L435.7 217.7L433.8 218.2L431.9 216.9L429.0 216.0L428.7 217.4L426.8 217.7L423.8 216.1L421.8 215.6L421.2 213.5L419.3 212.2L420.4 211.7L419.9 209.6L418.4 209.1L418.4 207.8L419.4 206.7L421.1 206.7L424.3 206.7L426.1 205.8L424.2 205.2L422.0 205.2L420.9 205.3L419.5 206.2L418.4 207.6L417.8 206.2L417.9 205.8L415.6 205.4L414.4 205.4L413.4 206.7L413.7 207.2L413.1 207.9L412.4 207.2L411.3 206.5L410.8 207.8L411.8 209.6L411.7 210.6L413.4 211.1L414.3 212.4L414.3 213.9L413.4 213.1L412.1 213.2L412.7 214.5L411.8 214.3L412.7 216.9L411.4 217.1L410.4 215.6L409.6 216.1L408.5 213.7L408.1 213.4L409.3 212.4L408.0 212.2L407.0 210.6L405.8 208.8L403.9 207.0L403.7 204.4L403.6 203.0L401.6 201.5L399.6 200.3L396.9 198.7L394.3 196.9L393.5 194.8L392.2 194.1L391.5 195.4L390.8 193.6L389.5 193.2L388.1 194.1L388.6 195.1L388.3 196.9L390.9 198.5L392.1 200.8L394.3 202.6L396.8 202.8L396.3 203.9L398.7 205.2L400.9 206.2L402.0 207.5L401.8 208.3L400.7 207.2L398.8 206.5L398.1 208.5L399.3 210.4L398.1 211.7L397.1 213.2L396.3 213.0L396.5 211.4L397.1 210.4L396.1 207.8L394.6 207.2L393.5 206.2L392.8 205.7L390.2 204.7L388.4 203.4L386.0 201.5L384.7 200.3L384.0 197.9L383.1 197.2L381.2 196.4L379.4 197.7L378.3 197.9L377.1 199.0L375.5 199.7L373.8 199.2L372.1 199.0L370.0 199.2L369.0 200.5L369.4 201.5L369.4 202.8L367.3 204.1L364.4 206.0L362.7 208.3L362.1 209.3L363.1 211.0L361.6 212.2L361.2 214.0L358.6 215.6L357.9 216.2L355.1 216.4L353.2 216.4L351.1 217.8L350.6 218.2L349.1 216.9L348.9 215.8L346.7 215.1L345.7 215.6L343.4 215.6L343.8 213.0L343.0 211.8L342.4 211.0L342.9 209.3L343.8 207.2L344.3 205.2L344.1 202.8L343.8 201.3L343.2 200.0L345.4 198.7L346.4 198.1L350.2 198.5L353.3 199.0L354.8 198.8L358.5 199.1L359.6 198.5L360.0 196.1L360.4 193.6L360.2 191.8L358.6 190.2L358.2 189.2L357.0 188.4L354.0 187.7L353.1 186.2L354.8 185.4L357.2 185.6L358.7 185.5L359.7 185.5L359.5 183.1L360.1 182.9L360.5 183.7L362.9 183.4L364.9 182.2L365.9 181.3L365.9 179.8L367.7 179.3L369.4 178.6L370.6 177.3L371.6 175.8L371.9 174.7L373.3 174.1L374.8 173.4L376.4 173.6L378.3 172.8L379.5 173.1L379.6 172.1L379.9 171.1L379.3 169.8L378.2 168.2L378.1 165.9L378.2 164.7L381.4 163.2L382.7 162.9L382.6 164.2L382.3 165.7L383.5 166.2L382.2 166.9L381.5 168.4L381.2 169.1L381.0 170.0L382.1 170.8L383.8 171.1L383.9 172.2L386.2 171.7L386.9 171.0L389.0 170.8L390.3 172.3L393.7 171.5L395.6 170.6L398.0 170.1L398.9 171.1L400.7 171.0L401.3 169.8L402.2 169.6L403.3 168.9L403.0 167.9L402.9 166.9L402.6 165.2L403.1 164.0L405.2 162.9L406.6 164.4L408.2 164.7L408.8 163.7L408.5 162.5L408.5 161.3L406.8 161.0L406.4 159.4L408.5 158.8L410.8 158.4L414.6 158.6L416.2 157.7L418.4 157.7L416.0 156.7L414.9 156.0L413.7 156.1L410.5 156.5L408.7 157.0L405.2 157.8L403.5 156.5L401.8 155.1L401.7 153.6L401.1 151.7L401.2 150.1L403.2 148.5L405.8 146.4L407.2 145.7L406.8 144.6L404.8 143.9L401.4 144.4L400.4 145.7L399.8 147.1L398.8 148.7L396.6 149.9L394.9 151.3L394.2 152.7L394.2 155.8L396.7 156.7L397.8 157.9L396.3 159.1L395.4 160.6L393.9 160.8L393.9 162.7L393.9 165.4L393.2 166.6L391.0 166.8L390.1 168.2L387.7 168.6L387.0 167.1L387.0 165.7L385.4 163.7L385.1 163.0L383.7 161.3L383.5 159.6L382.4 157.7L382.2 159.1L380.6 159.8L379.2 161.3L377.7 162.0L375.8 162.3L373.3 160.1L372.3 158.6L372.4 156.5L371.8 155.1L371.8 152.9L373.7 151.5L375.6 150.6L377.9 149.4L381.2 149.3L380.1 148.7L382.1 146.9L383.7 145.2L384.6 143.4L385.9 141.4L387.3 140.5L389.0 138.9L387.2 138.3L385.1 139.0L387.5 137.6L389.6 136.9L392.4 135.6L394.3 135.3L396.7 134.5L399.1 133.8L401.7 133.0L404.8 132.1L407.8 132.3L409.1 133.2L412.1 133.2L414.1 133.8L412.6 135.1L413.9 134.9L415.8 134.7L418.1 136.2L421.3 136.2L425.9 137.3L430.3 138.9L433.1 140.7L433.7 142.0L432.0 143.0L428.6 143.2L423.2 142.5L419.5 141.8L418.3 140.9L422.9 144.6L424.1 146.9L427.4 148.0L430.1 148.2L427.5 145.5L430.4 146.2L434.1 146.7L432.6 145.0L434.6 143.2L438.1 143.2L439.0 142.3L437.0 140.0L436.6 137.8L440.8 138.9L440.8 141.1L442.6 141.4L444.6 139.8L447.5 138.7L452.4 138.2L455.0 138.5L458.8 137.6L462.4 138.0L463.4 136.7L463.5 134.9L469.7 136.0L471.7 136.5L475.8 137.8L478.4 138.5L474.5 135.6L472.5 132.8L471.4 130.6L472.3 128.3L474.2 128.1L478.9 128.5L481.3 131.2L481.7 133.8L484.4 136.7L487.5 138.9L487.2 142.7L490.0 141.6L489.2 138.9L486.3 136.2L484.9 133.0L481.8 131.0L482.9 128.5L488.6 129.8L490.5 127.0L495.5 126.4L498.5 125.4L498.7 123.9L502.9 122.7L507.9 121.7L513.6 121.3L514.9 119.9L518.1 118.5L523.2 119.9L526.5 120.7L531.8 120.7L537.0 122.3L537.8 124.1L536.1 126.0L542.9 127.0L550.0 127.0L558.7 127.0L564.6 127.2L569.4 128.5L573.3 131.2L576.6 132.3L578.3 131.0L583.2 131.0L589.1 131.2L587.9 129.1L588.6 128.5L596.2 129.3L606.4 130.8L613.0 132.5L618.4 132.3L627.2 133.8L632.2 135.6L637.7 135.4L641.4 134.5L645.2 134.3L648.7 136.0L648.0 136.7L650.9 134.7L656.5 135.1L664.9 136.7L678.4 145.7L677.3 146.2L675.0 146.4L679.0 148.0L684.2 150.6L686.0 152.0L681.2 151.5L678.9 153.2L677.7 155.1L676.7 157.4L671.0 156.2L668.7 157.4L665.3 157.7L667.7 160.8L667.5 162.7L671.9 164.7L673.3 166.6L674.6 169.6L673.7 172.1L673.4 174.6L675.1 177.1L674.6 179.8L670.7 177.1L665.1 172.1L660.1 167.1L658.5 163.5L659.0 161.0L657.7 157.4L659.5 156.0L659.6 153.4L656.0 151.5L653.1 153.2L656.6 155.8L649.0 153.2L647.5 153.9L649.8 158.6L646.5 159.8L641.9 158.5L638.0 158.9L632.5 158.9L628.3 159.0L626.6 162.3L625.6 165.2L626.1 168.9L624.2 170.3L629.9 172.1L632.5 172.8L634.8 172.1L639.3 174.1L641.2 178.3L644.0 182.1L646.7 185.9L645.8 189.7L644.8 194.3L644.0 197.9L641.8 200.5L638.9 199.7L637.2 201.2L636.5 203.6L637.5 205.7L635.2 208.0L635.0 209.8L637.8 211.4L640.9 214.3L643.4 218.2L643.6 220.3L641.5 221.3L638.7 222.4L637.6 220.8L636.9 218.2L635.3 216.1L635.5 214.3L634.0 213.7L631.4 213.2L630.5 211.4L630.0 209.1L627.5 208.0L625.0 209.1L622.3 210.9L622.1 208.3L621.9 206.2L618.9 205.4L617.3 208.0L614.8 209.8L614.8 211.4L618.5 213.7L619.3 215.1L622.2 213.5L626.8 214.5L626.9 215.8L623.6 218.2L622.1 220.8L625.5 223.4L628.3 227.1L631.3 229.4L631.8 231.5L629.9 232.8L633.2 234.1L633.3 237.5L631.9 240.4L631.0 244.3L629.5 247.7L628.1 248.5L625.8 251.4L622.0 253.2L620.6 254.0L619.1 254.5L615.9 255.5L612.7 256.9L612.7 259.2L611.3 257.9L610.5 255.8L607.8 255.8L607.0 256.1L605.0 257.9L603.1 260.3L602.9 263.1L605.1 266.0L607.3 268.4L609.9 270.4L611.9 273.6L613.0 277.0L613.4 280.9L612.7 282.7L609.6 285.1L608.1 285.3L608.0 287.4L604.9 289.5L603.8 289.8L603.8 286.6L602.8 285.1L600.7 284.8L599.3 282.5L598.8 281.9L597.0 280.1L594.2 279.2L593.8 277.2L591.7 277.5L592.0 280.4L590.8 284.8L590.8 288.0L592.8 290.0L593.9 293.4L596.5 294.5L597.9 296.1L600.1 298.1L601.2 300.5L601.2 303.1L602.5 305.7L603.4 308.6L601.6 308.9L599.3 307.0L596.7 304.7L595.2 301.8L594.1 298.1L593.5 295.5L592.0 293.4L589.8 291.4L589.0 291.9L588.8 288.7L589.3 286.1L588.7 282.2L589.0 279.6L587.4 275.7L585.8 271.8L585.3 269.1L583.3 268.1L582.1 269.4L580.3 271.1L577.9 270.4L577.9 266.5L576.7 263.1L575.0 260.5L573.3 259.5L571.7 257.9L570.4 255.3L570.0 254.0L567.7 253.5L566.6 255.0L564.1 255.3L561.8 255.3L559.5 256.6L559.6 258.7L558.6 260.3L555.9 261.6L553.7 264.4L552.3 266.0L550.3 268.6L548.2 270.4L545.9 272.3L546.0 275.7L546.7 278.0L545.8 281.4L546.1 285.3L544.3 288.0L542.6 289.0L541.2 291.1L538.9 289.0L537.8 286.1L536.7 282.7L534.3 278.5L532.1 273.6L531.2 271.8L529.7 267.8L528.2 262.6L527.5 259.5L527.4 256.9L526.7 254.2L526.1 256.9L523.5 258.2L521.1 257.4L518.6 254.2L521.1 252.4L517.8 251.6L516.3 250.3L514.4 249.5L513.3 247.4L511.9 245.9L507.5 246.3L503.0 246.4L501.0 246.7L496.2 245.9L492.3 245.1L490.2 242.2L488.5 241.3L485.4 243.0L481.2 241.7L477.5 239.3L475.7 236.7L473.7 233.9L471.2 232.8L470.2 234.0L469.1 234.0L469.1 235.4L470.5 237.8L472.1 240.4L474.6 242.7L475.3 245.4L476.9 247.6L476.7 245.6L477.4 243.9L478.5 246.1L478.0 248.0L478.8 249.0L480.8 249.0L483.1 249.3L485.0 248.2L486.8 246.1L488.4 244.2L489.0 243.4L489.1 245.4L489.4 247.2L490.0 248.2L492.2 249.8L494.7 250.6L497.7 253.5L496.8 256.3L495.7 258.9L494.0 262.6L491.2 265.2L488.6 266.8L486.0 267.8L483.8 268.7L481.9 271.5L477.0 273.5L475.0 274.4L471.4 276.2L468.0 277.2L465.8 278.8L462.4 279.2L461.8 277.5L461.0 274.4L460.4 271.8L460.3 269.4L459.5 267.8L456.8 263.9L454.6 260.5L451.4 256.3L450.5 253.2L448.2 249.3L446.2 246.4L444.5 243.8L442.0 240.4L440.3 238.8L440.3 235.6L440.2 235.2ZM461.4 192.3L463.3 191.5L467.5 190.2L470.1 190.0L471.9 191.5L472.2 194.1L469.1 194.1L468.5 195.9L466.9 196.1L469.0 198.2L469.8 199.5L472.7 200.5L473.8 203.1L475.5 202.3L477.8 203.1L478.1 204.7L475.9 205.2L474.7 205.2L475.2 207.8L476.9 209.3L478.0 210.6L478.9 214.8L475.0 216.1L472.9 216.4L470.2 214.4L467.6 211.9L468.0 209.6L467.9 207.2L469.6 206.7L467.6 206.0L466.1 203.9L464.3 202.5L462.1 200.0L461.6 197.4L459.8 195.9L460.3 193.6ZM424.2 204.7L427.2 204.9L429.1 204.4L430.2 203.4L432.8 202.6L436.7 202.5L439.4 204.4L443.1 205.2L446.7 205.2L450.3 203.9L450.3 202.2L448.5 200.0L445.6 198.7L441.6 196.4L441.0 195.6L438.8 194.6L438.9 193.8L440.2 193.1L440.8 192.3L441.2 191.0L440.9 190.2L442.8 189.6L442.1 189.1L439.5 189.6L437.8 190.4L435.2 191.5L434.5 192.5L436.6 193.8L438.0 193.7L438.0 194.3L435.9 194.8L434.2 195.5L433.7 196.3L432.0 196.0L431.9 194.3L429.8 193.9L431.8 192.3L429.5 192.0L428.0 190.5L427.2 190.7L425.7 191.0L424.9 192.8L424.0 194.1L422.4 196.9L422.4 199.0L421.0 199.5L420.6 201.3L421.6 202.6L422.2 203.9Z" fill="#dcccba"/><path d="M107.1 131.7L113.0 132.8L118.3 133.6L123.8 134.5L127.8 135.3L130.7 135.6L133.3 136.9L137.2 135.8L141.0 135.4L147.9 134.5L151.6 133.4L152.7 135.4L154.7 135.8L157.0 134.5L161.5 134.9L166.3 136.7L167.5 138.9L170.2 139.6L175.8 139.1L177.3 140.2L180.2 138.0L184.0 137.6L186.1 138.9L190.7 139.6L195.3 139.1L198.1 137.8L200.1 138.5L198.5 140.5L200.9 138.9L205.0 135.6L203.9 133.4L206.3 131.2L209.7 130.2L210.3 132.3L209.7 134.9L210.8 136.7L212.8 136.2L213.0 138.9L213.0 140.5L215.9 139.3L219.2 136.7L222.2 134.9L225.4 135.1L226.4 136.5L224.1 138.5L223.8 140.2L218.3 142.7L215.1 142.3L212.4 143.0L212.8 144.3L209.6 145.2L206.0 147.8L201.8 148.7L196.6 151.0L192.7 153.2L189.1 156.2L186.3 160.1L189.2 160.6L187.6 164.4L191.5 164.2L195.2 165.9L198.6 168.4L204.1 169.1L201.9 174.1L202.6 176.6L202.8 179.1L205.5 178.1L207.8 175.6L209.1 171.8L208.7 170.3L214.1 168.1L216.9 165.9L217.5 162.7L216.3 160.3L219.6 157.9L220.0 155.5L222.6 151.7L226.6 152.0L230.3 151.7L232.5 154.3L235.4 155.1L233.4 159.4L235.1 161.3L239.1 160.3L242.2 157.7L244.1 156.5L244.7 160.3L245.8 164.2L246.3 167.6L249.1 169.4L251.3 171.1L253.4 173.3L252.9 175.8L250.2 178.1L246.0 179.3L242.3 181.3L235.7 181.5L229.6 181.6L226.8 183.9L222.2 186.4L218.0 189.7L220.5 188.4L224.5 185.9L229.1 184.1L232.9 184.9L230.2 187.4L230.3 189.7L230.7 191.5L232.4 192.5L235.6 193.1L239.1 189.7L239.5 192.3L236.3 194.1L231.0 195.9L226.1 198.5L225.2 196.6L229.1 194.1L224.2 194.6L220.4 196.6L216.8 198.2L214.5 200.8L214.0 202.8L215.2 203.1L214.4 203.6L212.0 203.9L206.8 205.4L205.7 206.5L204.2 209.1L202.5 210.5L201.7 209.1L201.7 211.9L199.0 215.3L199.2 211.7L197.8 215.6L198.6 216.1L198.6 220.1L195.8 221.6L192.4 223.7L189.1 225.5L184.8 228.6L182.7 232.0L182.4 234.4L183.2 238.0L183.8 242.2L182.7 246.1L180.6 246.7L179.4 244.3L178.2 239.9L178.9 236.5L176.8 233.9L173.5 234.6L171.2 232.8L167.9 233.1L164.7 233.3L164.4 236.5L161.6 236.2L159.0 234.9L154.6 234.6L152.1 235.7L147.7 238.3L145.2 241.7L144.8 244.6L142.8 249.5L141.8 254.0L142.6 258.2L144.5 262.1L147.8 264.7L151.7 263.9L154.7 263.9L157.2 260.5L158.3 257.4L163.3 255.8L166.4 256.3L164.5 260.0L163.0 264.4L161.9 266.5L160.8 269.9L161.3 271.2L162.9 271.0L166.4 271.0L169.8 271.0L172.5 273.1L171.5 277.0L170.7 281.2L170.5 283.8L172.0 286.1L173.5 288.2L175.2 289.3L177.6 288.5L179.7 287.2L182.2 287.7L184.7 289.5L183.3 293.4L182.8 290.8L179.9 289.0L177.7 290.8L178.5 292.9L176.7 293.4L175.1 292.1L171.9 290.8L170.4 290.0L168.0 286.6L165.5 286.1L166.0 283.3L163.7 280.4L162.0 278.3L160.0 277.8L156.5 276.2L153.5 275.7L151.8 274.4L148.4 270.4L146.0 269.9L142.4 271.2L138.0 269.7L135.0 268.4L131.1 265.5L127.3 264.4L124.4 261.6L123.4 258.9L124.6 256.1L122.8 251.6L120.1 246.9L117.4 245.1L117.2 241.7L116.1 239.3L113.3 236.5L112.9 231.2L109.8 229.2L108.9 232.6L110.7 237.0L111.7 241.7L113.2 245.6L114.5 249.0L115.8 251.6L114.3 251.4L110.8 247.4L111.0 244.3L107.5 241.2L106.2 239.6L108.7 237.8L106.1 233.9L105.4 229.7L105.4 227.3L105.4 226.0L103.8 223.9L102.5 222.9L99.8 221.8L99.2 216.6L99.3 213.5L98.6 209.1L98.6 206.7L101.2 202.6L102.1 200.0L108.0 191.8L110.1 186.2L112.8 186.7L113.2 188.7L114.7 186.7L115.0 184.6L114.8 183.6L113.0 181.6L109.7 179.6L110.9 176.3L110.4 173.3L110.9 170.3L109.7 168.4L109.7 164.7L108.7 161.8L106.4 160.3L104.2 158.2L101.8 157.4L97.5 157.2L95.6 155.5L89.4 157.0L86.2 157.9L80.9 159.4L85.3 155.8L89.3 154.6L83.8 156.2L78.4 158.6L73.9 161.5L66.2 164.7L59.7 167.1L52.9 169.1L47.6 170.1L44.0 170.6L51.0 168.1L55.9 167.1L62.4 164.7L68.3 161.0L66.1 160.8L63.5 160.3L60.4 160.6L63.8 157.7L60.6 157.0L60.5 155.1L62.5 152.7L67.1 150.8L69.7 149.9L75.9 149.2L78.6 147.1L75.3 146.9L71.1 146.9L69.8 146.4L69.7 144.3L74.4 143.0L79.6 142.3L82.5 143.0L84.6 141.1L83.1 140.0L82.1 138.7L80.7 138.1L83.8 136.9L89.9 135.6L94.6 134.1L100.6 132.8ZM112.8 186.2L110.0 185.4L108.4 183.4L106.9 180.6L108.9 179.8L111.8 181.8L113.0 183.9ZM104.2 176.6L103.5 174.1L104.2 171.8L106.7 172.1L104.9 174.1ZM42.3 171.8L38.0 173.1L32.6 174.6L32.8 173.8L37.9 172.3L42.7 170.8ZM61.4 149.6L58.7 149.4L56.5 149.4L57.8 148.7L60.2 148.9L61.8 149.2ZM252.3 178.3L249.4 179.8L246.7 182.6L242.2 187.4L244.0 188.2L248.6 188.4L249.2 190.0L252.2 190.2L254.0 190.5L255.4 188.2L254.5 185.6L254.1 183.6L251.1 182.6L251.0 180.6ZM231.3 190.2L235.6 191.1L233.6 192.3L231.4 191.4ZM233.5 182.6L236.9 183.1L238.2 184.1L234.9 183.6ZM244.5 152.9L240.3 152.2L237.1 150.8L234.6 148.9L231.2 147.1L225.0 147.1L227.1 145.2L233.4 144.3L235.7 142.3L238.8 140.2L237.5 138.2L234.6 136.7L232.0 134.5L227.3 134.7L221.7 134.5L217.4 133.6L216.0 132.3L217.4 129.8L221.1 126.8L226.5 126.2L226.9 128.1L229.5 126.8L233.7 126.6L234.9 128.1L238.3 126.8L240.8 128.3L242.1 130.6L245.5 132.1L248.8 133.6L249.4 136.5L251.9 139.1L255.2 141.1L257.0 142.0L253.8 144.3L250.2 145.2L247.7 142.7L245.0 143.4L246.7 146.2L247.6 148.9L244.5 150.3L241.4 148.5L242.5 150.8ZM220.1 148.7L217.5 149.2L214.4 148.5L210.2 149.4L207.7 148.7L211.1 146.9L214.6 144.3L216.6 145.2L218.7 147.3ZM215.6 151.0L212.9 152.2L211.9 151.7L214.9 150.6ZM219.5 151.7L217.4 152.9L218.0 153.6ZM235.5 140.0L231.7 140.7L231.5 139.1L234.8 138.5ZM192.3 136.7L185.9 137.3L180.0 137.3L171.9 137.8L168.1 135.8L168.9 133.4L172.6 133.8L176.7 133.8L171.9 131.5L169.3 130.8L174.7 128.3L180.5 127.4L181.4 128.7L185.9 128.3L190.6 127.7L194.4 127.0L194.0 128.9L191.7 131.2L193.5 133.6L194.8 134.9ZM161.6 131.9L159.5 130.2L164.6 126.8L169.1 125.2L173.8 125.2L178.0 125.6L178.3 127.2L169.3 130.2L165.1 131.7ZM204.9 131.0L200.5 130.8L198.3 128.7L203.0 126.4L208.0 126.2L207.8 128.5ZM217.7 128.5L212.5 129.8L209.7 128.5L212.2 126.0L217.1 125.8L220.0 126.4ZM202.6 136.9L198.3 137.6L195.9 136.5L199.7 134.9L203.1 134.9ZM198.7 123.9L193.8 124.1L186.6 125.0L184.0 123.9L180.9 123.3L184.4 121.3L190.0 121.1L194.3 121.9L198.1 120.7L200.4 121.9ZM187.2 120.9L181.3 121.9L175.7 121.5L179.6 119.9L185.3 119.1L188.7 119.3ZM210.7 123.9L206.5 123.9L202.0 123.1L206.2 120.9L211.3 120.5L212.7 121.9ZM217.4 123.9L213.5 123.9L214.1 122.7L217.9 122.7ZM238.3 124.3L232.8 125.0L224.9 125.0L219.7 124.7L220.0 122.9L222.9 120.9L225.7 121.9L230.4 122.5L236.0 122.3L239.5 122.7ZM244.2 120.9L238.5 121.3L233.4 121.1L226.7 120.9L230.7 119.3L233.4 117.6L237.7 117.0L236.9 115.2L241.1 113.4L236.5 112.5L235.1 111.4L242.8 110.3L253.6 109.3L264.6 109.2L274.4 109.7L277.8 110.4L271.8 111.7L263.8 113.4L257.8 115.2L252.9 115.7L252.0 117.4L246.1 118.9ZM235.0 116.8L228.2 117.6L224.9 116.1L225.7 114.3L231.3 112.2L233.8 113.6L236.1 114.6ZM215.4 118.4L208.5 118.5L207.8 116.8L214.0 115.5L217.8 116.5ZM222.6 118.5L218.4 118.4L219.5 116.8L222.9 116.5ZM198.2 118.9L193.8 118.9L194.9 117.6L199.7 117.4ZM240.6 127.9L237.1 128.3L234.6 127.4L236.9 126.6L240.6 126.8ZM170.8 255.0L173.1 252.9L176.0 252.2L179.6 251.9L183.3 253.2L187.5 255.3L191.1 257.4L194.5 259.5L192.6 260.3L186.7 260.4L188.0 258.7L185.4 258.2L184.3 256.1L180.8 255.0L177.9 254.2L175.8 253.2L173.4 254.5ZM193.5 264.2L196.7 264.7L199.5 266.0L202.4 264.7L206.5 264.7L207.5 263.7L204.5 261.8L201.9 260.5L198.3 260.3L196.2 260.8L197.6 262.6L197.9 263.9L195.6 263.9ZM184.6 264.4L187.0 265.7L189.3 265.5L187.9 264.2L185.8 263.9ZM209.8 265.2L213.2 265.2L213.3 264.2L209.9 263.9ZM187.0 246.9L187.6 249.0L188.2 248.5L187.6 246.4ZM188.7 242.0L190.0 243.5L190.4 242.7L189.2 241.8ZM186.5 243.0L188.4 242.7L187.6 242.2ZM220.5 285.9L222.5 285.9L222.9 284.0L221.0 284.3ZM8.4 262.6L11.2 261.3L9.6 259.3L8.6 260.8ZM7.9 257.9L9.4 258.3L9.1 257.4ZM4.9 256.3L5.9 256.6L5.7 255.5ZM1.8 254.8L2.7 254.9L2.4 254.2ZM221.7 270.4L222.4 269.3L223.1 269.8L222.2 270.6ZM222.8 274.1L223.3 273.5L223.5 274.4ZM222.3 272.3L222.7 271.5L222.8 272.4ZM223.0 276.2L223.3 275.5L223.3 276.3ZM222.4 277.8L222.7 277.4L222.7 277.9ZM221.1 280.8L221.4 280.4L221.4 280.9ZM226.1 278.0L226.4 277.5L226.5 278.0ZM221.7 267.7L222.0 267.4L222.1 267.8ZM184.7 289.5L186.0 291.4L187.2 289.0L188.9 287.4L189.3 285.1L191.0 283.3L192.4 282.7L195.2 282.2L198.3 279.9L199.6 280.9L199.1 281.4L197.7 282.5L198.3 284.0L197.2 286.6L199.0 288.2L199.5 286.1L198.5 283.8L201.6 282.5L202.2 280.4L202.5 282.2L205.7 283.0L206.0 284.8L210.7 284.6L213.3 285.9L215.0 285.1L218.0 284.3L220.5 284.3L218.9 285.6L222.5 287.4L222.8 289.8L225.1 290.6L228.0 294.0L230.9 296.6L233.9 296.8L238.3 297.1L240.8 298.4L243.5 301.3L245.0 304.4L247.3 307.8L246.1 311.0L247.3 312.3L250.7 313.0L252.4 313.8L256.5 315.1L260.0 318.0L263.5 318.5L266.9 319.8L270.4 319.6L273.9 321.9L276.9 324.8L281.3 325.8L282.3 330.8L282.2 335.5L279.1 339.7L277.1 342.3L274.5 346.2L273.6 351.5L273.4 358.0L272.4 363.5L270.2 368.4L268.0 372.1L265.3 372.4L261.7 373.2L258.5 375.0L255.1 377.6L253.8 380.7L254.2 386.0L251.8 390.1L250.0 393.3L248.1 396.4L245.9 400.3L245.3 402.2L243.2 403.6L240.3 403.5L236.6 402.3L235.1 401.1L235.4 402.7L238.4 404.5L238.6 406.9L240.0 407.4L239.2 411.6L236.4 413.4L231.2 414.2L229.6 413.6L230.7 418.1L227.7 419.6L225.0 418.8L225.7 421.9L229.2 423.2L227.6 424.3L226.6 426.3L227.6 429.7L224.0 431.2L223.9 432.2L228.4 435.3L228.8 437.1L226.7 440.4L224.9 443.2L225.9 446.5L228.0 448.3L226.0 448.7L223.8 449.5L224.7 451.9L224.0 452.2L221.0 450.7L218.5 449.5L215.4 448.0L212.6 443.7L210.1 439.1L211.2 436.8L207.9 434.0L210.3 431.7L210.2 428.4L209.9 423.2L208.8 420.6L207.1 421.2L205.9 416.8L204.8 411.6L204.8 409.2L205.0 405.0L205.7 399.8L204.8 393.3L204.4 390.4L204.2 384.1L204.5 378.6L204.1 373.9L203.8 367.1L203.7 365.1L202.9 360.3L199.8 357.5L196.2 355.4L190.9 352.5L188.1 348.6L185.9 343.9L183.5 338.9L180.9 333.7L178.7 330.3L175.8 327.9L175.3 324.5L177.5 321.1L178.3 318.8L176.0 318.3L176.2 314.9L177.8 312.3L177.8 310.2L180.6 308.6L181.3 305.7L183.9 305.5L184.9 302.1L184.1 297.9L184.4 294.8L183.3 293.4ZM227.9 449.1L229.4 450.7L232.1 452.4L236.7 454.1L234.6 455.0L231.1 455.9L228.0 455.4L224.3 453.7L222.8 452.4L225.2 451.5L224.9 449.7L226.5 449.0ZM207.8 421.4L207.0 422.7L207.4 425.3L209.0 425.6L208.4 422.7ZM349.9 218.7L351.2 218.4L353.1 220.3L356.2 220.0L357.9 220.5L360.5 219.0L364.9 216.9L369.2 216.1L373.5 216.1L377.8 215.6L381.3 215.8L383.8 214.8L384.9 215.8L386.6 215.3L385.6 217.1L385.7 219.0L386.8 220.3L386.0 222.1L384.8 223.4L385.7 224.4L387.0 224.7L387.9 225.5L390.1 226.5L391.7 226.3L396.1 227.6L397.3 230.2L401.4 231.5L404.8 233.1L406.9 231.5L406.9 228.4L409.9 226.3L413.7 227.8L418.0 229.7L422.7 230.2L426.8 231.5L428.9 230.5L431.0 229.7L434.0 230.5L438.2 230.5L440.2 235.2L439.5 237.8L439.1 239.8L437.5 238.3L436.1 236.5L435.0 234.1L434.6 235.2L435.9 237.8L437.7 240.1L438.5 241.7L439.8 244.6L442.6 249.5L443.0 252.2L446.1 254.8L446.9 257.4L447.3 261.0L450.3 265.2L452.2 270.4L452.9 271.5L454.6 273.1L456.9 274.4L459.8 277.8L461.5 279.1L462.0 280.9L462.1 282.2L460.7 281.9L461.8 282.3L463.8 285.0L466.1 285.1L469.5 284.0L472.9 283.3L476.3 282.7L479.2 281.0L480.4 281.3L480.1 284.8L479.5 287.4L477.8 291.4L475.6 296.6L473.4 300.5L470.0 304.9L467.2 307.0L464.3 309.6L461.3 313.0L458.7 316.6L456.9 318.5L455.2 320.6L454.0 323.0L453.1 324.5L452.1 327.9L453.2 330.0L453.4 333.2L453.7 337.1L455.5 339.7L455.5 344.9L455.8 350.2L455.1 354.1L451.6 356.7L446.9 359.0L445.2 361.4L441.9 364.0L441.9 367.1L442.8 371.1L442.4 375.0L437.9 378.1L435.8 380.2L436.3 382.4L434.8 386.7L431.4 390.4L428.9 394.1L424.8 397.7L421.8 400.1L418.9 401.1L414.0 401.4L410.9 401.6L406.3 403.2L403.9 402.2L403.0 402.0L402.9 400.9L402.0 398.0L403.0 395.1L401.0 391.4L399.4 387.0L397.8 384.1L396.5 381.8L395.3 376.3L395.4 372.1L393.0 366.6L390.9 361.4L389.6 357.3L389.6 354.1L390.6 350.2L393.4 344.9L394.4 341.0L393.1 335.8L392.2 330.6L391.0 327.9L390.4 325.3L388.3 322.5L385.1 318.5L383.5 315.4L383.0 314.1L384.2 311.2L384.9 309.6L385.3 306.2L385.1 303.1L384.6 302.1L383.2 300.4L382.3 300.0L378.8 300.8L376.5 301.0L374.2 297.9L372.8 295.8L370.5 295.5L368.9 295.7L366.4 296.1L362.7 297.6L358.1 299.7L355.6 298.9L353.5 298.5L348.9 299.7L345.4 300.9L342.0 299.2L337.8 295.8L336.2 294.2L333.9 292.9L332.3 290.0L332.1 288.7L331.2 287.4L328.9 284.6L328.3 283.5L326.5 281.4L324.4 280.1L324.2 278.0L324.5 277.0L324.3 275.7L322.7 273.8L324.3 271.2L325.0 270.2L326.3 265.2L325.9 261.6L325.3 260.0L324.1 257.9L324.2 256.3L326.7 250.3L329.2 246.9L330.2 244.1L333.2 239.9L337.1 238.0L340.3 235.4L341.2 232.8L341.1 229.9L342.3 227.3L344.1 225.2L346.1 224.4L347.8 223.4L349.2 220.5ZM475.8 343.6L477.7 347.5L478.1 352.2L476.4 354.1L475.4 358.0L473.9 363.2L471.9 368.4L470.0 373.7L468.3 377.6L464.8 379.0L461.6 377.1L461.0 373.4L460.5 369.8L463.1 365.3L463.5 361.9L462.9 358.0L464.2 354.6L467.7 353.3L471.3 350.9L472.6 347.8L474.6 344.9ZM377.7 312.0L378.2 311.2L378.3 312.0ZM461.8 342.3L462.5 342.6L462.3 343.4ZM464.1 343.9L464.7 344.1L464.3 344.7ZM492.6 365.1L493.5 364.5L493.7 365.3L493.0 365.8ZM490.3 324.3L490.8 324.3L490.7 324.8ZM308.4 273.1L309.1 272.3L309.1 273.2ZM305.1 267.7L305.9 267.3L305.6 268.0ZM310.3 270.2L310.9 269.9L310.8 270.4ZM306.8 273.5L307.2 273.1L307.1 273.6ZM60.5 136.7L62.2 137.8L64.0 140.0L67.5 141.1L68.5 143.2L64.4 144.6L58.6 147.1L56.2 147.3L53.9 146.4L54.8 144.6L53.1 143.0L47.0 145.7ZM655.1 132.1L658.3 132.6L655.9 131.2L654.3 131.2ZM67.1 132.6L70.6 132.5L72.5 131.9L71.3 131.1L69.5 131.2ZM351.3 182.0L352.7 182.1L355.7 181.3L358.7 180.6L360.7 180.2L363.3 180.2L365.5 179.2L365.5 178.6L363.7 178.3L364.7 177.6L366.1 175.8L365.2 174.7L363.3 174.8L363.3 173.3L362.5 173.1L362.3 171.7L360.4 170.6L359.8 169.6L358.9 167.6L357.0 167.1L357.7 166.2L358.9 164.4L359.3 163.2L356.1 163.0L354.8 163.5L356.9 160.8L353.4 160.8L352.7 162.5L351.7 164.0L352.0 165.9L351.7 168.9L353.3 167.9L353.4 169.6L352.8 170.3L355.8 169.8L356.1 171.3L357.1 172.6L356.6 173.6L354.3 173.8L353.9 175.1L354.6 176.1L352.4 177.3L354.2 178.1L356.6 178.6L357.4 178.1L356.5 179.1L354.4 179.1L353.5 180.1ZM350.6 173.8L350.9 174.8L350.1 176.6L346.9 177.6L343.3 178.4L342.2 177.1L344.0 175.6L344.5 174.3L343.0 173.3L343.5 171.6L346.2 171.3L345.9 170.3L346.9 169.1L348.7 168.7L351.0 169.1L351.9 170.3L352.0 171.3L350.8 172.0ZM322.4 148.5L325.4 148.5L328.8 149.4L332.5 148.6L336.2 147.4L338.8 145.7L337.5 143.4L335.1 142.3L331.5 143.2L327.5 143.2L325.3 144.8L323.8 142.4L321.0 143.9L323.4 144.8L324.1 145.7L320.5 146.0L323.9 146.9ZM388.0 120.8L383.7 119.1L382.7 117.8L378.8 116.5L378.3 115.0L382.1 114.5L385.6 114.3L389.5 115.2L390.5 116.5L394.3 117.0L390.1 118.0L389.1 119.9ZM388.5 114.1L394.0 113.4L401.4 114.1L399.0 115.5L392.4 115.5ZM394.1 118.9L397.9 119.3L399.1 118.2L394.5 117.6ZM446.3 130.6L446.3 129.1L447.2 127.7L448.6 126.0L449.0 123.9L451.8 122.3L455.7 121.3L461.0 120.3L466.2 120.0L466.3 121.3L461.4 122.9L457.0 124.3L454.9 126.0L453.4 127.4L453.6 129.1L453.6 130.6L457.5 133.0L453.3 133.2L449.0 132.8ZM428.1 113.4L434.2 113.9L436.7 113.4L431.9 112.7ZM511.0 118.0L516.4 118.2L517.3 116.6L511.4 115.5L508.6 116.1ZM498.4 115.5L504.6 116.5L507.1 115.0L503.3 113.7L498.0 114.1ZM493.8 113.6L499.2 113.9L500.7 112.9L496.2 112.2ZM575.4 123.3L580.4 124.5L585.3 124.1L585.9 123.1L577.9 121.5L574.4 121.7ZM590.0 123.7L595.7 124.3L596.4 123.5L591.8 122.9ZM584.9 127.2L589.8 127.7L590.5 127.0L586.1 126.2ZM639.1 171.1L643.3 174.6L646.7 178.3L650.2 182.1L654.8 184.9L650.8 184.1L653.6 188.4L656.9 191.0L654.5 190.5L654.8 192.4L652.0 188.4L649.4 184.6L646.2 180.8L642.5 177.1L639.6 173.6ZM389.4 213.5L391.2 212.4L396.3 212.3L395.2 214.3L395.4 216.5L392.9 215.3L389.8 214.1ZM382.1 204.5L383.5 206.5L383.1 210.1L381.7 210.6L380.6 209.8L380.5 206.7L380.1 205.2ZM382.4 200.0L382.8 202.3L382.1 204.1L380.8 202.8L380.8 201.5L382.2 200.8ZM413.9 219.4L415.9 219.7L417.2 219.9L419.9 220.0L419.5 220.8L416.5 220.9L413.8 220.1ZM433.0 220.9L434.2 220.3L435.5 219.9L437.8 219.0L436.8 220.8L434.6 221.8L433.3 221.4ZM384.0 167.9L385.6 166.9L386.8 167.9L386.2 169.6L385.3 169.8L384.3 169.1ZM393.5 218.3L394.0 218.1L394.3 218.6L393.8 218.7ZM658.9 203.9L660.3 203.1L658.7 201.3L664.3 202.7L665.0 200.0L667.3 199.1L664.6 196.6L660.8 196.6L655.6 193.6L656.7 196.1L658.0 199.2L656.3 199.5L656.4 201.3ZM661.3 204.1L663.0 206.5L665.4 208.8L665.2 212.2L667.0 215.6L667.9 218.2L668.3 219.0L667.5 221.1L666.3 219.5L665.5 220.5L665.2 221.7L664.1 220.8L663.9 221.8L661.3 221.8L660.6 220.8L661.5 222.6L660.0 224.8L657.7 222.9L657.6 221.7L654.8 221.8L653.0 222.6L649.0 223.5L648.5 222.4L650.0 220.8L650.7 219.6L653.7 219.4L656.9 219.2L657.8 219.0L657.9 216.1L657.3 214.8L658.4 214.3L658.6 216.1L661.0 214.5L661.5 213.2L661.6 210.4L660.1 208.0L659.6 206.2L659.3 204.7L661.1 205.4ZM651.8 225.1L654.0 226.5L654.7 226.8L655.1 225.0L656.8 225.4L657.2 223.9L656.6 222.9L654.4 223.4L652.9 223.4ZM648.8 223.7L650.9 224.4L652.4 226.5L652.6 230.2L651.4 231.2L649.9 230.2L649.1 228.1L647.5 226.8L646.6 225.2L648.1 224.4ZM635.8 255.0L633.8 252.2L634.2 248.8L635.4 246.1L636.6 247.4L636.4 251.6ZM609.6 262.6L611.7 264.7L613.8 263.1L614.5 260.8L612.8 259.7L610.4 260.5ZM546.3 286.6L547.0 286.6L549.5 290.0L551.2 293.2L550.9 295.3L548.4 296.7L546.7 295.0L546.1 291.4ZM637.5 263.7L640.5 263.9L641.4 267.8L640.2 270.4L640.6 273.3L642.3 275.4L644.9 275.9L647.2 279.5L645.2 278.3L642.0 276.2L639.7 276.5L638.6 274.9L637.3 273.6L636.0 269.7L637.0 268.9L636.8 266.5ZM638.4 277.2L640.8 277.5L641.3 279.9L639.9 280.4ZM632.3 290.3L634.1 289.0L637.1 284.3L637.4 282.7L636.5 284.6L633.9 287.2ZM647.7 279.6L649.9 279.6L651.5 283.0L650.4 285.6L649.9 286.1L648.3 283.8L648.3 281.4ZM642.4 281.4L645.2 281.9L646.1 284.8L647.6 285.3L646.2 288.2L645.6 288.6L644.0 286.6L642.9 284.8ZM643.8 294.2L644.2 291.6L646.3 289.8L648.7 290.6L649.6 289.8L651.1 286.6L653.3 290.0L654.2 293.2L653.4 295.8L652.2 294.0L651.7 297.6L648.8 296.1L648.7 293.4L646.6 292.9L644.7 293.2ZM615.8 306.9L617.3 307.8L619.8 305.2L623.4 303.9L625.6 300.8L627.8 299.2L630.0 296.6L631.7 294.0L633.8 295.5L634.6 297.1L637.6 298.7L635.5 300.8L633.9 301.4L634.5 304.4L635.0 306.5L637.4 309.6L634.6 310.2L633.9 313.6L632.3 315.5L631.1 319.3L630.3 321.7L627.0 323.1L626.8 321.4L623.4 320.6L620.6 321.4L617.0 319.8L616.8 316.7L614.8 313.6L614.6 311.5L614.3 309.1ZM582.3 297.6L587.4 298.7L590.4 302.3L593.5 305.5L595.8 306.8L598.8 308.9L601.4 311.0L602.3 313.0L603.7 314.9L603.9 317.0L607.0 319.8L606.9 324.0L606.6 327.5L603.6 326.9L600.2 324.3L598.7 322.5L595.8 318.8L594.3 314.9L591.5 311.5L590.5 307.8L587.2 303.9L584.1 301.0ZM605.2 329.9L607.2 327.7L609.0 328.1L612.7 329.2L616.9 330.3L618.4 329.1L622.2 330.3L626.2 332.6L626.2 335.1L622.0 334.2L618.1 333.8L613.6 332.5L610.1 332.4L607.7 331.5L605.4 330.2ZM626.2 333.7L628.9 334.0L627.7 335.3ZM629.6 334.2L631.2 334.2L630.4 335.5ZM631.4 334.5L634.2 334.0L636.5 334.2L636.2 335.3L631.8 335.8ZM638.5 334.5L642.2 334.5L645.7 334.0L645.2 334.7L639.8 335.4ZM636.3 337.1L638.6 336.8L640.3 338.4L638.4 339.2ZM646.4 339.2L646.7 338.4L648.7 336.6L650.1 335.6L651.7 334.5L655.6 334.2L653.6 335.8L650.3 337.0L648.5 338.7ZM637.9 326.9L640.3 326.9L640.2 322.7L640.5 319.8L641.9 319.3L643.1 323.0L644.0 325.1L645.9 324.0L645.3 321.1L644.6 320.1L644.3 317.5L643.1 317.2L647.7 314.6L644.3 314.6L642.0 315.7L641.1 314.9L639.7 313.8L640.0 312.3L639.8 311.0L642.0 311.1L645.5 311.0L646.9 311.0L650.1 311.1L651.6 307.9L648.9 309.6L646.6 309.8L643.2 309.5L641.5 308.9L639.7 310.2L639.3 312.0L639.4 314.6L638.1 316.2L637.5 318.8L636.8 319.6L637.1 321.5L638.3 322.2L638.2 324.0ZM657.0 309.6L658.1 306.5L659.8 309.6L658.6 314.4L657.5 311.7ZM658.0 320.6L660.4 319.6L663.3 320.1L664.5 320.9L661.4 321.4ZM653.4 320.6L656.2 320.9L655.2 322.2L653.6 321.7ZM665.1 314.4L668.6 313.3L672.3 314.5L672.7 317.5L673.0 319.6L674.1 320.9L677.7 318.0L680.8 316.2L683.5 317.5L687.4 318.9L688.1 319.1L691.5 320.6L694.0 321.5L696.0 322.5L698.8 325.8L701.4 327.9L703.2 329.8L701.3 329.9L702.2 332.6L703.6 334.7L705.4 335.8L707.4 338.7L709.3 339.0L707.2 340.0L703.9 338.9L701.1 337.1L698.7 333.4L696.0 332.4L692.9 334.0L691.5 336.3L690.8 336.6L686.9 336.0L684.8 333.7L681.8 334.2L679.5 334.2L682.3 331.3L682.2 329.2L680.8 326.6L676.3 324.3L672.2 322.5L669.2 323.0L667.3 319.8L670.8 318.8L671.5 318.5L668.0 318.0L665.8 316.2L664.9 315.7ZM704.5 326.6L708.9 326.6L712.0 325.1L713.7 323.2L713.8 325.3L710.6 327.9L707.1 328.7ZM710.7 319.1L713.3 321.4L715.5 324.5L714.9 323.2L712.2 320.1ZM719.2 326.6L721.8 330.0L720.6 330.3L718.9 327.9ZM602.0 308.9L602.4 308.5L602.8 308.7L602.4 309.0ZM690.0 340.2L691.7 344.9L691.6 349.9L694.8 351.5L695.0 356.4L695.1 361.4L696.0 362.4L699.8 365.8L700.5 367.9L702.8 372.4L705.2 377.6L706.8 377.6L704.9 382.8L704.5 387.1L701.2 392.0L698.2 396.4L693.5 400.6L690.4 404.3L686.4 408.9L685.6 410.2L680.8 411.3L675.6 414.4L673.9 412.1L674.1 411.3L669.7 413.8L666.3 412.3L664.5 411.3L664.4 408.9L665.2 406.1L663.4 405.3L662.4 405.4L664.4 403.2L664.0 401.6L661.9 404.3L660.3 404.5L663.1 401.1L665.4 397.5L662.4 400.3L659.1 402.7L658.6 403.5L657.5 402.4L657.0 398.5L657.1 397.7L654.4 395.9L652.0 394.6L647.0 395.1L639.8 396.7L635.1 398.5L632.6 400.9L629.1 400.9L624.9 401.0L619.4 403.9L615.2 403.5L613.8 402.0L614.4 400.1L616.2 399.3L617.5 395.9L617.2 392.0L617.6 387.5L617.2 384.1L616.3 380.5L618.5 377.6L617.9 376.3L619.3 371.3L620.4 369.2L621.0 371.1L623.9 368.4L627.0 366.1L631.5 365.3L632.5 364.5L637.2 363.5L640.7 359.3L641.4 356.7L643.0 355.1L644.2 357.7L645.6 354.9L648.4 351.5L651.0 348.8L653.2 348.2L655.8 350.9L657.6 351.2L658.9 351.2L660.4 347.5L661.4 345.2L662.7 344.8L666.6 343.9L665.5 341.5L667.0 342.1L669.0 343.1L672.3 344.1L676.2 343.6L676.6 344.4L674.1 347.5L673.3 351.5L675.4 353.8L679.5 356.4L679.9 357.7L683.3 358.0L685.9 352.8L686.9 347.5L688.2 343.6L688.9 341.0ZM669.4 418.6L672.6 419.6L676.8 419.0L674.9 421.9L672.2 425.0L668.9 426.1L667.4 425.8L668.0 422.5L668.6 419.9ZM659.1 405.7L661.4 405.3L662.2 405.9L660.4 406.5L659.0 406.3ZM739.4 402.2L740.1 402.2L741.6 404.5L740.2 408.4L742.0 407.6L742.8 408.2L741.8 410.6L743.4 411.6L746.8 410.8L744.7 413.1L742.9 414.4L740.0 415.5L738.5 417.5L735.8 419.3L732.5 420.9L732.1 420.1L733.7 418.6L735.3 417.0L733.8 415.5L733.7 414.9L736.7 413.1L738.6 411.0L739.4 408.7L739.6 407.4L739.3 405.0L739.1 404.3ZM729.2 418.1L728.5 419.9L729.1 419.9L731.4 419.3L730.1 421.3L727.5 423.0L723.2 425.9L723.3 426.7L718.4 428.1L714.2 431.9L710.0 433.8L707.7 433.8L706.9 432.8L705.2 432.1L708.2 429.7L710.7 428.6L712.6 427.1L715.2 426.1L719.0 424.5L722.2 423.1L724.5 421.2L727.1 419.1ZM704.6 435.3L706.7 434.5L705.6 435.3ZM766.3 358.3L767.6 357.7L769.4 358.8L768.2 359.8L766.2 359.6ZM769.7 356.4L773.1 354.6L772.9 355.6L770.6 356.6ZM743.5 351.2L744.7 351.2L744.5 353.0L743.6 353.0ZM744.3 354.1L745.5 354.9L744.6 355.6ZM745.6 358.3L746.5 358.5L745.7 358.9ZM729.7 336.6L732.4 337.1L732.2 338.1L730.0 337.9ZM732.2 334.2L733.1 334.7L733.7 337.3L732.8 336.8ZM727.1 331.9L730.4 334.0L729.9 334.5L727.5 333.0ZM723.2 329.8L725.8 331.3L725.1 331.7L723.3 330.6ZM724.5 333.2L726.0 334.2L725.4 335.0L724.2 334.0ZM733.3 339.2L735.4 340.2L734.2 340.5L733.2 339.7ZM-33.0 347.5L-31.6 347.5L-29.8 348.6L-30.9 348.8L-32.6 348.3Z" fill="#dcccba"/>
<g clip-path="url(#landclip)"><path d="M238.3 297.1L240.8 298.4L243.5 301.3L241.3 305.7L238.5 306.2L236.9 306.2L237.7 303.4L237.3 300.0Z" fill="url(#hatch)"/><path fill="#1d91c0" d="M127.8 135.3L103.5 156.7L106.5 157.2L106.8 159.8L112.4 157.9L113.1 161.0L112.6 164.7L114.2 167.1L111.9 169.6L109.1 170.8L102.3 172.1L94.2 182.1L108.2 186.7L112.8 186.4L114.2 185.1L114.0 184.6L170.7 184.6L171.3 183.6L171.5 185.4L174.6 185.6L177.0 186.9L180.9 187.2L183.7 186.4L186.5 188.4L189.3 190.0L189.5 191.0L191.0 192.3L192.3 194.1L191.4 198.5L190.2 200.0L188.0 202.1L188.7 203.4L194.6 201.8L197.4 200.4L197.5 199.4L200.0 198.5L203.6 197.2L207.5 194.8L214.8 194.8L216.6 193.8L218.1 192.3L219.4 190.5L221.7 188.6L223.4 188.8L224.2 189.5L223.0 193.1L223.4 194.3L223.9 195.4L224.3 197.4L226.3 201.3L242.0 197.4L257.8 192.3L262.0 177.1L253.8 162.3L250.6 152.7L258.6 143.4L254.9 134.5L254.0 128.1L247.9 121.9L255.3 117.0L267.4 113.4L278.8 110.1L282.2 107.9L173.4 107.9Z"/><path fill="#edf8b1" d="M114.0 184.6L170.7 184.6L171.3 183.6L171.5 185.4L174.6 185.6L177.0 186.9L180.9 187.2L183.7 186.4L186.5 188.4L189.3 190.0L189.5 191.0L191.0 192.3L192.3 194.1L191.4 198.5L190.2 200.0L188.0 202.1L188.7 203.4L194.6 201.8L197.4 200.4L197.5 199.4L200.0 198.5L203.6 197.2L207.5 194.8L214.8 194.8L216.6 193.8L218.1 192.3L219.4 190.5L221.7 188.6L223.4 188.8L224.2 189.5L223.0 193.1L223.4 194.3L223.9 195.4L224.5 200.0L218.0 207.8L203.8 220.8L188.8 239.1L183.9 248.8L176.0 248.8L175.4 239.1L171.8 235.2L164.6 237.8L156.0 236.5L147.0 241.7L145.1 244.4L144.1 244.7L140.8 243.3L140.6 240.4L139.1 237.3L137.8 234.5L135.4 234.5L133.5 236.5L130.8 234.9L130.5 232.0L128.1 229.3L124.3 229.3L124.0 230.4L117.7 230.4L110.4 227.3L105.4 227.2L101.8 228.6L97.2 223.4L95.1 215.6L95.7 207.8L108.2 186.7L112.8 186.4L114.2 185.1Z"/><path fill="#edf8b1" d="M127.8 135.3L103.5 156.7L106.5 157.2L106.8 159.8L112.4 157.9L113.1 161.0L112.6 164.7L114.2 167.1L111.9 169.6L109.1 170.8L102.3 172.1L90.6 172.1L22.1 182.1L4.1 182.1L26.5 162.3L51.4 151.5L57.9 148.0L66.3 145.7L68.9 143.9L89.2 130.2L134.4 130.2Z"/><path fill="#edf8b1" d="M-3.3 263.9L12.6 263.9L15.4 252.2L-0.4 252.2Z"/><path fill="#1d91c0" d="M105.4 227.2L110.4 227.3L117.7 230.4L124.0 230.4L124.3 229.3L128.1 229.3L130.5 232.0L130.8 234.9L133.5 236.5L135.4 234.5L137.8 234.5L139.1 237.3L140.6 240.4L140.8 243.3L144.1 244.7L145.1 244.4L147.1 246.9L145.0 260.0L151.6 261.3L157.3 253.5L168.6 253.5L167.1 264.4L163.0 264.4L162.4 263.9L160.6 265.5L159.8 265.7L155.6 265.7L155.4 267.2L154.4 267.2L156.3 270.3L153.4 270.3L152.1 272.4L152.0 274.2L149.7 277.0L121.2 267.8L107.4 254.8L99.3 236.5L101.8 228.6Z"/><path fill="#c7e9b4" d="M184.7 289.5L183.3 293.4L179.6 294.0L179.2 308.3L180.6 308.6L182.6 309.9L184.0 311.2L186.6 311.2L188.9 312.5L191.9 314.9L194.2 318.3L197.2 318.0L200.9 319.3L201.3 323.2L201.4 323.2L202.5 315.7L202.0 313.6L201.0 310.8L203.2 310.6L203.0 309.6L201.5 309.5L201.5 307.8L205.4 307.8L207.8 309.1L208.3 309.1L207.2 306.5L206.1 304.9L207.1 302.6L206.4 300.5L207.3 296.1L202.8 296.3L201.3 294.0L196.9 294.0L195.9 292.9L195.9 290.3L194.8 288.2L195.2 285.0L196.7 283.1L199.1 281.4L200.0 278.3L187.4 278.3L185.7 288.0Z"/><path fill="#1d91c0" d="M202.6 360.2L196.7 360.3L192.5 416.8L214.9 459.8L236.7 459.8L234.6 455.2L230.4 454.7L227.9 449.1L228.0 448.3L224.5 447.5L220.7 447.5L219.2 446.2L218.6 444.2L216.8 444.2L215.3 441.2L216.2 438.6L215.4 436.1L215.7 433.5L215.5 430.4L213.5 427.1L212.0 423.2L210.7 419.3L210.1 415.7L210.9 413.4L209.7 411.6L209.2 407.6L209.5 404.5L210.3 401.6L209.2 398.5L207.2 394.6L207.6 390.7L207.5 386.7L209.4 383.1L209.7 381.0L208.7 376.5L211.2 375.0L211.6 372.4L211.1 371.8L211.1 371.8L209.5 371.8L208.5 368.4L207.1 365.8L207.4 363.2L206.2 361.9L205.5 359.8L204.5 358.0Z"/><path fill="#1d91c0" d="M211.1 371.8L213.1 369.2L215.4 370.0L217.6 371.8L220.8 369.8L221.2 370.4L225.3 374.5L230.1 377.1L233.4 378.4L231.8 383.5L237.6 383.6L239.7 382.3L240.2 379.2L242.5 380.9L242.3 383.2L238.4 386.2L235.1 391.2L235.2 394.6L234.8 397.2L235.0 400.9L235.7 401.9L241.1 405.3L246.2 408.9L245.7 416.8L237.6 439.9L237.8 451.2L240.4 457.4L234.6 455.2L230.4 454.7L227.9 449.1L228.0 448.3L224.5 447.5L220.7 447.5L219.2 446.2L218.6 444.2L216.8 444.2L215.3 441.2L216.2 438.6L215.4 436.1L215.7 433.5L215.5 430.4L213.5 427.1L212.0 423.2L210.7 419.3L210.1 415.7L210.9 413.4L209.7 411.6L209.2 407.6L209.5 404.5L210.3 401.6L209.2 398.5L207.2 394.6L207.6 390.7L207.5 386.7L209.4 383.1L209.7 381.0L208.7 376.5L211.2 375.0L211.6 372.4L211.1 371.8Z"/><path fill="#172976" d="M235.1 391.2L239.0 393.3L239.8 392.9L243.8 395.6L245.4 397.5L245.9 397.7L245.4 398.8L245.9 400.5L248.4 403.7L241.2 405.8L235.7 401.9L235.0 400.9L234.8 397.2L235.2 394.6L235.1 391.2Z"/><path fill="#081d58" d="M399.4 387.0L401.4 387.3L403.2 387.8L404.9 387.9L407.2 386.5L407.6 377.0L409.3 380.5L409.0 382.3L411.2 382.4L413.6 380.2L414.3 378.4L417.2 379.4L419.9 379.2L420.9 376.9L423.1 375.6L423.5 374.1L425.9 371.8L429.0 370.3L433.4 370.8L433.8 373.7L434.7 376.3L434.3 380.1L434.5 381.5L434.5 382.4L436.3 382.4L438.1 390.7L423.4 406.3L401.7 406.3L397.1 390.7Z"/><path fill="#dcccba" d="M431.6 382.2L432.4 380.1L433.1 379.5L434.3 380.1L434.5 381.5L434.5 382.4L434.0 383.6L432.4 383.6L431.8 382.8Z"/><path fill="#dcccba" d="M422.6 389.6L424.3 387.8L426.4 387.0L428.1 389.1L427.2 390.5L425.3 392.0L424.8 392.4L423.4 391.4Z"/><path fill="#225ea8" d="M463.4 191.3L461.6 188.7L459.1 187.7L457.3 186.2L457.4 184.1L456.7 182.3L459.8 182.6L460.1 180.6L463.0 177.8L466.8 178.3L471.1 179.6L473.8 180.6L478.0 179.3L481.4 180.6L485.0 180.1L484.8 178.8L481.3 176.3L482.4 174.6L481.3 172.2L484.9 171.6L489.1 171.2L494.2 169.6L495.3 168.7L498.8 168.9L501.0 171.8L505.6 172.1L506.4 173.1L507.9 173.3L511.1 171.6L511.6 171.0L515.0 173.8L522.0 180.0L522.9 178.8L525.1 180.1L528.8 179.6L533.0 182.1L534.1 183.1L536.9 182.6L538.7 184.4L536.9 186.2L537.5 189.0L532.1 189.2L532.5 193.6L528.2 194.8L531.7 199.7L531.3 202.1L528.3 200.5L521.8 200.0L518.1 199.5L517.1 201.5L513.2 200.5L511.7 201.9L510.5 204.1L508.4 204.1L506.8 205.7L506.5 204.9L503.5 204.7L501.3 201.5L500.9 200.0L498.0 198.2L492.1 198.7L489.4 196.4L483.5 193.3L478.6 194.8L481.0 204.4L479.8 204.5L477.8 202.6L474.2 202.3L473.3 203.2L471.9 201.3L468.1 198.7L466.1 194.8L463.7 192.3Z"/><path fill="#253494" d="M344.1 202.8L345.4 202.3L348.8 202.7L349.6 203.6L348.1 205.2L347.8 208.5L346.7 208.7L347.7 210.4L347.0 211.9L347.7 212.4L346.6 214.3L346.7 215.1L346.7 216.9L340.0 216.9L340.6 202.6Z"/><path fill="#1d91c0" d="M346.7 215.1L346.6 214.3L347.7 212.4L347.0 211.9L347.7 210.4L346.7 208.7L347.8 208.5L348.1 205.2L349.6 203.6L348.8 202.7L345.4 202.3L344.1 202.8L341.6 202.6L341.9 196.1L359.0 197.4L358.9 199.1L359.8 199.9L361.2 200.3L364.2 200.5L365.7 201.0L366.4 201.4L369.4 201.5L370.1 201.8L372.3 210.4L362.7 215.6L358.4 218.2L350.9 218.3L348.6 217.7L346.7 216.1Z"/><path fill="#172976" d="M369.4 201.5L366.4 201.4L365.7 201.0L364.2 200.5L361.2 200.3L359.8 199.9L358.9 199.1L359.0 197.4L350.4 192.3L350.6 184.1L358.7 182.3L365.1 180.6L365.9 179.1L367.3 178.6L367.7 179.3L368.9 180.1L371.0 182.1L372.4 181.7L372.4 182.6L374.4 183.2L375.5 183.4L376.8 184.1L379.2 184.7L378.2 188.2L377.0 188.6L375.2 191.6L375.0 191.9L376.6 191.3L377.2 192.5L376.7 192.8L377.4 193.8L376.5 194.6L377.2 195.6L377.0 196.4L378.7 197.0L378.3 197.9L378.6 198.7L383.4 199.2L383.6 204.3L379.6 204.3L373.2 201.8Z"/><path fill="#1d91c0" d="M374.4 183.2L372.4 182.6L372.4 181.7L371.0 182.1L368.9 180.1L367.7 179.3L367.3 178.6L369.0 178.1L369.4 178.6L371.1 178.6L372.6 178.4L374.2 179.2L374.0 180.1L374.7 180.2L374.7 180.2L375.4 181.1L374.9 181.7L374.9 181.7L374.2 182.1L374.4 183.2Z"/><path fill="#1d91c0" d="M374.4 183.2L374.2 182.1L374.9 181.7L375.7 182.6L375.5 183.4Z"/><path fill="#253494" d="M374.7 180.2L374.0 180.1L374.2 179.2L372.6 178.4L371.1 178.6L369.4 178.6L369.0 178.1L369.6 174.6L372.4 172.1L376.3 172.6L376.8 173.9L376.6 175.4L375.9 175.6L376.6 176.4L376.1 177.2L375.0 177.6L374.8 179.1L374.7 180.2Z"/><path fill="#172976" d="M374.7 180.2L374.8 179.1L375.0 177.6L376.1 177.2L376.6 176.4L375.9 175.6L376.6 175.4L376.8 173.9L376.3 172.6L377.2 169.6L379.3 169.8L379.3 169.8L381.0 170.0L382.6 170.5L385.0 171.1L386.9 170.3L390.2 170.6L390.3 172.3L390.8 173.8L390.5 174.9L391.4 175.6L391.5 176.8L392.5 178.8L392.2 179.9L392.2 179.9L391.1 179.6L388.5 181.0L386.9 181.3L387.8 183.0L390.7 185.2L390.7 185.2L389.8 186.2L388.7 186.8L389.2 188.4L387.5 188.1L385.1 188.7L383.5 189.0L384.0 188.3L382.2 188.3L382.2 188.3L380.2 187.8L378.2 188.2L378.2 188.2L379.2 184.7L376.8 184.1L375.5 183.4L375.5 183.4L375.7 182.6L374.9 181.7L374.7 180.2L375.4 181.1L374.9 181.7Z"/><path fill="#081d58" d="M379.3 169.8L377.2 169.6L376.8 163.5L382.6 161.8L385.1 165.2L386.9 167.0L387.3 168.1L387.3 169.1L386.9 171.1L385.0 171.1L382.6 170.5L381.0 170.0Z"/><path fill="#1d91c0" d="M378.2 188.2L380.2 187.8L382.2 188.3L382.3 189.6L384.1 190.0L383.4 190.7L383.3 191.8L381.8 191.1L381.2 192.7L380.0 191.3L378.8 192.4L377.2 192.5L377.2 192.5L376.6 191.3L375.0 191.9L375.2 191.6L377.0 188.6L378.2 188.2Z"/><path fill="#41b6c4" d="M382.2 188.3L384.0 188.3L383.5 189.0L385.1 188.7L387.5 188.1L389.2 188.4L388.7 186.8L389.8 186.2L390.7 185.2L393.0 184.6L397.0 185.6L397.5 187.2L396.3 188.7L395.6 190.1L393.4 190.7L390.8 191.0L388.1 190.5L387.4 189.7L385.2 190.2L384.1 190.0L384.1 190.0L382.3 189.6L382.2 188.3Z"/><path fill="#1d91c0" d="M378.3 197.9L378.7 197.0L377.0 196.4L377.2 195.6L376.5 194.6L377.4 193.8L376.7 192.8L377.2 192.5L377.2 192.5L378.8 192.4L380.0 191.3L381.2 192.7L381.8 191.1L383.3 191.8L383.4 190.7L384.1 190.0L384.1 190.0L385.2 190.2L387.4 189.7L388.1 190.5L390.8 191.0L390.2 191.8L390.7 192.5L391.1 193.3L390.0 194.1L390.3 195.6L395.2 200.5L400.7 203.9L403.1 207.8L403.3 210.4L400.7 218.7L388.7 217.4L387.8 213.0L379.2 211.7L379.0 204.3L383.6 204.3L383.4 199.2L378.6 198.7Z"/><path fill="#41b6c4" d="M391.1 193.3L390.7 192.5L390.2 191.8L390.8 191.0L390.8 191.0L393.4 190.7L395.6 190.1L396.7 191.1L394.8 191.8L395.0 192.7L394.3 193.6L392.8 193.2L391.4 193.7L390.8 193.6L390.5 193.4Z"/><path fill="#1d91c0" d="M390.8 193.6L391.4 193.7L392.8 193.2L394.3 193.6L395.0 192.7L394.8 191.8L396.7 191.1L398.3 192.4L401.6 192.5L402.0 194.3L402.8 194.3L402.0 195.2L399.9 194.6L397.6 194.2L396.4 194.8L395.2 194.3L395.3 195.4L396.4 196.9L398.2 198.7L399.6 199.9L399.6 200.3L401.4 201.2L401.6 201.5L401.0 202.6L395.2 200.5L390.3 195.6L390.0 194.1Z"/><path fill="#1d91c0" d="M397.5 187.2L396.3 188.7L395.6 190.1L396.7 191.1L398.3 192.4L401.6 192.5L404.3 191.9L406.2 191.3L407.5 188.4L409.2 187.2L407.6 186.2L406.2 185.8L404.0 186.4L402.5 186.7L400.9 187.6L398.9 187.8L397.5 187.2Z"/><path fill="#1d91c0" d="M397.0 185.6L398.8 184.6L400.6 183.4L402.6 184.1L403.2 184.1L404.8 183.9L406.1 183.5L408.2 184.4L407.6 186.2L406.2 185.8L404.0 186.4L402.5 186.7L400.9 187.6L398.9 187.8L397.5 187.2L397.5 187.2L397.0 185.6Z"/><path fill="#225ea8" d="M390.7 185.2L387.8 183.0L386.9 181.3L388.5 181.0L391.1 179.6L392.2 179.9L393.1 179.7L395.0 180.5L395.4 181.1L396.1 181.8L396.5 181.0L398.1 181.3L398.8 182.1L400.6 183.4L400.6 183.4L398.8 184.6L397.0 185.6L397.0 185.6L393.0 184.6L390.7 185.2Z"/><path fill="#225ea8" d="M392.2 179.9L392.5 178.8L391.5 176.8L391.4 175.6L390.5 174.9L390.8 173.8L390.3 172.3L390.2 170.6L394.5 169.1L399.3 169.6L400.7 171.0L400.7 171.0L406.9 171.2L406.9 171.2L408.4 172.2L408.4 172.2L409.6 174.6L409.6 175.3L408.4 176.3L409.4 176.8L409.5 178.3L409.5 178.3L410.3 179.8L410.8 180.6L409.9 181.1L408.3 183.1L408.2 184.4L408.2 184.4L406.1 183.5L404.8 183.9L403.2 184.1L402.6 184.1L400.6 183.4L400.6 183.4L398.8 182.1L398.1 181.3L396.5 181.0L396.1 181.8L395.4 181.1L395.0 180.5L393.1 179.7L392.2 179.9Z"/><path fill="#7fcdbb" d="M408.4 172.2L410.2 172.3L412.1 171.3L412.5 169.8L413.8 168.9L413.7 167.9L410.4 166.4L410.1 166.2L404.6 166.2L402.9 166.9L401.8 166.9L402.1 168.9L403.6 169.0L405.1 169.5L406.3 169.6L406.9 171.2L408.4 172.2Z"/><path fill="#7fcdbb" d="M402.9 166.9L404.6 166.2L410.1 166.2L410.4 166.4L413.7 167.9L416.4 166.8L415.0 164.0L414.3 163.4L411.6 162.6L410.2 162.3L408.5 162.5L407.0 163.2L405.1 162.3L401.3 163.0L401.8 166.9Z"/><path fill="#225ea8" d="M408.5 162.5L410.2 162.3L411.6 162.6L414.3 163.4L414.2 161.5L413.7 160.1L414.7 158.8L414.4 157.9L405.2 157.9L402.6 159.1L403.1 162.5L405.1 162.3L407.0 163.2Z"/><path fill="#172976" d="M413.7 156.1L416.3 153.9L418.9 151.0L419.3 150.6L416.0 148.7L416.5 146.9L414.8 145.9L415.1 144.1L412.7 141.4L413.8 139.6L411.0 138.5L411.1 136.9L411.3 136.6L411.6 135.6L409.1 134.4L406.0 135.1L405.7 136.2L402.6 137.2L398.3 136.0L397.2 136.5L399.7 137.9L402.6 139.1L403.1 140.7L404.0 141.6L404.7 143.9L404.6 144.6L402.6 148.0L399.0 149.9L397.9 155.1L398.3 157.4L401.6 158.6L408.9 157.9L413.3 157.0Z"/><path fill="#172976" d="M404.7 143.9L404.0 141.6L403.1 140.7L402.6 139.1L399.7 137.9L397.2 136.5L396.5 138.0L393.3 137.8L393.1 138.9L391.1 139.1L390.2 140.2L389.3 142.3L387.8 143.2L388.1 143.9L386.7 146.6L387.6 147.0L387.3 148.0L385.2 148.0L384.2 148.9L384.5 150.3L384.6 153.4L386.1 154.2L385.0 155.1L385.8 156.5L385.7 157.2L384.5 157.8L384.4 158.4L384.6 159.2L384.0 160.1L383.5 159.6L382.8 160.3L384.0 163.5L385.1 165.2L386.9 167.0L387.3 168.1L387.3 169.1L389.7 169.6L395.2 167.6L400.2 164.7L399.4 158.6L398.3 157.4L397.9 155.1L399.0 149.9L402.6 148.0L404.6 144.6Z"/><path fill="#081d58" d="M383.5 159.6L384.0 160.1L384.6 159.2L384.4 158.4L384.5 157.8L385.7 157.2L385.8 156.5L385.0 155.1L386.1 154.2L384.6 153.4L384.5 150.3L384.2 148.9L385.2 148.0L387.3 148.0L387.6 147.0L386.7 146.6L388.1 143.9L387.8 143.2L389.3 142.3L390.2 140.2L391.1 139.1L393.1 138.9L393.3 137.8L396.5 138.0L397.2 136.5L397.2 136.5L398.3 136.0L402.6 137.2L405.7 136.2L406.0 135.1L409.1 134.4L411.6 135.6L411.3 136.6L412.8 135.3L414.0 134.9L415.0 134.5L413.7 130.2L387.0 130.2L368.1 150.3L368.4 163.5L378.7 163.5L382.8 160.3Z"/><path fill="#081d58" d="M374.9 121.9L408.6 121.9L405.0 112.5L374.0 112.5Z"/><path fill="#081d58" d="M340.8 179.6L352.1 179.6L352.4 168.1L341.6 168.1Z"/><path fill="#1d91c0" d="M348.7 169.5L348.1 170.2L346.9 171.0L347.9 171.7L349.1 171.1L349.8 172.0L350.8 172.0L352.4 172.1L352.5 168.6L349.3 168.4Z"/><path fill="#1d91c0" d="M352.2 183.4L351.4 177.1L352.4 173.1L352.4 171.0L352.4 170.2L351.4 168.9L351.2 168.5L347.4 167.1L346.9 159.8L357.2 153.9L362.7 155.1L367.6 174.6L367.2 177.1L365.9 179.1L365.1 180.6L358.7 182.3Z"/><path fill="#1d91c0" d="M317.9 150.3L339.4 150.3L340.4 141.1L319.8 141.1Z"/><path fill="#225ea8" d="M405.3 208.5L406.7 207.5L407.2 205.6L409.2 204.8L411.2 204.3L414.4 203.7L416.2 204.5L418.3 203.4L418.9 204.3L417.9 205.8L417.5 207.2L417.9 208.8L419.5 209.7L419.6 210.6L418.8 211.4L419.0 213.2L420.6 214.5L421.7 216.4L423.0 216.6L424.1 216.9L424.5 219.0L419.4 222.1L412.9 222.1L404.3 214.3L404.2 208.3Z"/><path fill="#225ea8" d="M418.3 203.4L416.2 204.5L414.4 203.7L411.2 204.3L409.7 201.8L409.8 200.3L410.8 199.5L409.4 198.3L409.8 196.9L410.6 197.9L415.7 198.3L418.8 197.0L421.0 197.9L422.3 198.1L424.5 200.0L422.7 202.6L421.6 202.6L419.5 202.5L418.3 203.4Z"/><path fill="#1d91c0" d="M422.3 198.1L421.0 197.9L418.8 197.0L415.7 198.3L410.6 197.9L409.8 196.9L409.2 195.6L407.0 195.4L407.1 194.3L405.5 192.9L404.3 191.9L406.2 191.3L407.5 188.4L409.2 187.2L409.8 187.2L413.4 187.9L413.6 187.8L416.6 186.5L418.0 187.7L420.2 190.0L420.5 192.3L420.9 193.7L424.1 194.3L426.0 196.1L424.5 200.0Z"/><path fill="#225ea8" d="M408.2 184.4L408.3 183.1L409.9 181.1L410.8 180.6L410.3 179.8L409.5 178.3L412.1 177.3L416.6 178.1L420.1 178.1L423.2 178.8L423.2 177.3L425.4 176.8L429.3 176.2L430.7 177.6L430.6 178.9L433.8 181.1L437.7 181.3L438.9 182.3L443.3 183.1L442.9 185.1L443.6 187.4L440.7 188.2L440.7 189.5L438.8 192.3L438.4 194.1L438.4 196.1L427.0 196.1L424.1 194.3L424.1 194.3L420.9 193.7L422.2 192.2L422.2 191.0L424.4 191.3L423.0 188.7L422.0 187.4L419.0 186.0L416.6 186.5L416.6 186.5L413.6 187.8L413.4 187.9L409.8 187.2L409.2 187.2L407.6 186.2L407.6 186.2L408.2 184.4Z"/><path fill="#225ea8" d="M432.5 222.6L439.1 222.6L438.6 218.2L432.1 218.2Z"/><path fill="#1d91c0" d="M538.7 184.4L536.9 186.2L537.5 189.0L532.1 189.2L532.5 193.6L528.2 194.8L531.7 199.7L531.3 202.1L528.5 204.1L525.5 205.2L523.9 206.7L521.7 206.6L519.9 208.3L519.8 209.2L520.9 211.7L523.3 211.9L524.2 214.9L523.6 215.4L526.8 216.6L531.7 219.5L534.9 222.6L534.9 227.1L536.7 227.3L536.6 230.5L542.1 233.3L544.8 233.6L549.5 236.7L554.4 239.1L559.2 239.3L560.6 239.0L561.3 240.9L562.2 238.8L564.2 238.8L567.1 239.6L569.0 239.5L571.4 237.3L574.9 236.2L576.4 235.7L579.6 238.4L581.7 240.1L583.0 240.4L583.9 244.6L582.0 247.4L582.3 249.8L585.1 249.3L585.7 251.6L587.2 252.4L586.8 254.5L589.1 256.1L591.4 255.9L593.0 257.0L592.6 253.7L593.3 253.6L595.2 253.5L597.4 253.2L600.2 251.4L603.4 252.7L603.6 254.8L605.6 255.8L607.0 256.1L607.2 257.4L607.3 261.3L609.1 266.5L617.7 266.5L630.2 253.5L631.3 250.8L632.4 245.6L637.7 241.7L634.7 226.0L628.5 211.7L627.2 209.1L627.3 207.9L628.7 206.2L630.1 203.1L633.2 204.1L632.8 202.6L635.0 201.4L634.6 200.0L636.9 201.4L636.6 198.7L634.5 195.1L637.9 194.6L635.7 186.3L632.4 187.8L629.2 187.9L626.3 184.9L618.5 182.6L610.5 175.8L608.7 174.4L603.8 173.2L599.0 173.8L598.4 175.3L601.0 177.1L600.2 177.8L600.7 181.2L599.6 183.1L596.8 182.5L597.4 187.4L601.7 188.1L603.3 187.2L608.2 190.5L602.3 191.3L601.3 193.8L598.7 195.1L594.1 194.7L594.0 196.4L596.0 198.2L593.4 200.9L588.2 203.1L584.2 203.6L574.6 201.0L566.4 200.5L564.8 200.8L561.0 196.9L556.2 195.0L550.7 194.3L549.2 192.3L548.8 190.0L545.7 187.7L542.4 186.7L539.6 184.2Z"/><path fill="#172976" d="M634.6 213.7L635.1 213.6L635.4 212.2L637.8 211.4L638.1 211.3L642.0 213.0L646.7 223.4L637.4 224.7L632.9 214.3Z"/><path fill="#2449a0" d="M648.1 232.6L654.8 232.6L671.9 223.4L669.4 200.0L663.5 193.1L654.0 192.8L655.9 202.6L659.5 211.7L655.0 213.2L648.8 218.2L644.6 223.4Z"/><path fill="#7fcdbb" d="M581.5 295.3L589.7 297.9L592.7 302.6L595.3 304.9L599.0 307.8L601.4 309.6L603.5 309.4L605.1 308.3L607.3 304.4L614.9 306.0L615.8 306.9L616.6 309.1L618.0 309.9L620.8 309.6L621.7 308.5L624.9 309.0L627.2 308.3L628.1 306.0L629.4 304.4L629.3 301.3L631.4 300.9L633.9 301.4L636.0 301.3L639.4 300.5L655.5 299.7L665.0 307.0L688.2 312.3L688.1 319.1L686.9 336.0L686.7 338.4L673.0 337.1L657.1 335.8L656.3 333.7L650.3 333.7L650.1 335.6L650.3 337.0L650.3 339.7L645.0 341.5L627.1 337.1L604.3 333.2L593.4 321.4L580.7 304.4Z"/><path fill="#253494" d="M697.8 437.3L728.2 437.3L756.8 399.8L723.9 399.8Z"/><path fill="#253494" d="M601.8 309.0L602.9 309.0L602.9 308.4L601.8 308.4Z"/><path fill="#253494" d="M393.1 219.2L394.8 219.2L394.7 217.7L393.0 217.7Z"/>
<path d="M127.8 135.3L103.5 156.7L106.5 157.2L106.8 159.8L112.4 157.9L113.1 161.0L112.6 164.7L114.2 167.1L111.9 169.6L109.1 170.8L102.3 172.1L94.2 182.1L108.2 186.7L112.8 186.4L114.2 185.1L114.0 184.6L170.7 184.6L171.3 183.6L171.5 185.4L174.6 185.6L177.0 186.9L180.9 187.2L183.7 186.4L186.5 188.4L189.3 190.0L189.5 191.0L191.0 192.3L192.3 194.1L191.4 198.5L190.2 200.0L188.0 202.1L188.7 203.4L194.6 201.8L197.4 200.4L197.5 199.4L200.0 198.5L203.6 197.2L207.5 194.8L214.8 194.8L216.6 193.8L218.1 192.3L219.4 190.5L221.7 188.6L223.4 188.8L224.2 189.5L223.0 193.1L223.4 194.3L223.9 195.4L224.3 197.4L226.3 201.3L242.0 197.4L257.8 192.3L262.0 177.1L253.8 162.3L250.6 152.7L258.6 143.4L254.9 134.5L254.0 128.1L247.9 121.9L255.3 117.0L267.4 113.4L278.8 110.1L282.2 107.9L173.4 107.9ZM114.0 184.6L170.7 184.6L171.3 183.6L171.5 185.4L174.6 185.6L177.0 186.9L180.9 187.2L183.7 186.4L186.5 188.4L189.3 190.0L189.5 191.0L191.0 192.3L192.3 194.1L191.4 198.5L190.2 200.0L188.0 202.1L188.7 203.4L194.6 201.8L197.4 200.4L197.5 199.4L200.0 198.5L203.6 197.2L207.5 194.8L214.8 194.8L216.6 193.8L218.1 192.3L219.4 190.5L221.7 188.6L223.4 188.8L224.2 189.5L223.0 193.1L223.4 194.3L223.9 195.4L224.5 200.0L218.0 207.8L203.8 220.8L188.8 239.1L183.9 248.8L176.0 248.8L175.4 239.1L171.8 235.2L164.6 237.8L156.0 236.5L147.0 241.7L145.1 244.4L144.1 244.7L140.8 243.3L140.6 240.4L139.1 237.3L137.8 234.5L135.4 234.5L133.5 236.5L130.8 234.9L130.5 232.0L128.1 229.3L124.3 229.3L124.0 230.4L117.7 230.4L110.4 227.3L105.4 227.2L101.8 228.6L97.2 223.4L95.1 215.6L95.7 207.8L108.2 186.7L112.8 186.4L114.2 185.1ZM127.8 135.3L103.5 156.7L106.5 157.2L106.8 159.8L112.4 157.9L113.1 161.0L112.6 164.7L114.2 167.1L111.9 169.6L109.1 170.8L102.3 172.1L90.6 172.1L22.1 182.1L4.1 182.1L26.5 162.3L51.4 151.5L57.9 148.0L66.3 145.7L68.9 143.9L89.2 130.2L134.4 130.2ZM-3.3 263.9L12.6 263.9L15.4 252.2L-0.4 252.2ZM105.4 227.2L110.4 227.3L117.7 230.4L124.0 230.4L124.3 229.3L128.1 229.3L130.5 232.0L130.8 234.9L133.5 236.5L135.4 234.5L137.8 234.5L139.1 237.3L140.6 240.4L140.8 243.3L144.1 244.7L145.1 244.4L147.1 246.9L145.0 260.0L151.6 261.3L157.3 253.5L168.6 253.5L167.1 264.4L163.0 264.4L162.4 263.9L160.6 265.5L159.8 265.7L155.6 265.7L155.4 267.2L154.4 267.2L156.3 270.3L153.4 270.3L152.1 272.4L152.0 274.2L149.7 277.0L121.2 267.8L107.4 254.8L99.3 236.5L101.8 228.6ZM184.7 289.5L183.3 293.4L179.6 294.0L179.2 308.3L180.6 308.6L182.6 309.9L184.0 311.2L186.6 311.2L188.9 312.5L191.9 314.9L194.2 318.3L197.2 318.0L200.9 319.3L201.3 323.2L201.4 323.2L202.5 315.7L202.0 313.6L201.0 310.8L203.2 310.6L203.0 309.6L201.5 309.5L201.5 307.8L205.4 307.8L207.8 309.1L208.3 309.1L207.2 306.5L206.1 304.9L207.1 302.6L206.4 300.5L207.3 296.1L202.8 296.3L201.3 294.0L196.9 294.0L195.9 292.9L195.9 290.3L194.8 288.2L195.2 285.0L196.7 283.1L199.1 281.4L200.0 278.3L187.4 278.3L185.7 288.0ZM202.6 360.2L196.7 360.3L192.5 416.8L214.9 459.8L236.7 459.8L234.6 455.2L230.4 454.7L227.9 449.1L228.0 448.3L224.5 447.5L220.7 447.5L219.2 446.2L218.6 444.2L216.8 444.2L215.3 441.2L216.2 438.6L215.4 436.1L215.7 433.5L215.5 430.4L213.5 427.1L212.0 423.2L210.7 419.3L210.1 415.7L210.9 413.4L209.7 411.6L209.2 407.6L209.5 404.5L210.3 401.6L209.2 398.5L207.2 394.6L207.6 390.7L207.5 386.7L209.4 383.1L209.7 381.0L208.7 376.5L211.2 375.0L211.6 372.4L211.1 371.8L211.1 371.8L209.5 371.8L208.5 368.4L207.1 365.8L207.4 363.2L206.2 361.9L205.5 359.8L204.5 358.0ZM211.1 371.8L213.1 369.2L215.4 370.0L217.6 371.8L220.8 369.8L221.2 370.4L225.3 374.5L230.1 377.1L233.4 378.4L231.8 383.5L237.6 383.6L239.7 382.3L240.2 379.2L242.5 380.9L242.3 383.2L238.4 386.2L235.1 391.2L235.2 394.6L234.8 397.2L235.0 400.9L235.7 401.9L241.1 405.3L246.2 408.9L245.7 416.8L237.6 439.9L237.8 451.2L240.4 457.4L234.6 455.2L230.4 454.7L227.9 449.1L228.0 448.3L224.5 447.5L220.7 447.5L219.2 446.2L218.6 444.2L216.8 444.2L215.3 441.2L216.2 438.6L215.4 436.1L215.7 433.5L215.5 430.4L213.5 427.1L212.0 423.2L210.7 419.3L210.1 415.7L210.9 413.4L209.7 411.6L209.2 407.6L209.5 404.5L210.3 401.6L209.2 398.5L207.2 394.6L207.6 390.7L207.5 386.7L209.4 383.1L209.7 381.0L208.7 376.5L211.2 375.0L211.6 372.4L211.1 371.8ZM235.1 391.2L239.0 393.3L239.8 392.9L243.8 395.6L245.4 397.5L245.9 397.7L245.4 398.8L245.9 400.5L248.4 403.7L241.2 405.8L235.7 401.9L235.0 400.9L234.8 397.2L235.2 394.6L235.1 391.2ZM399.4 387.0L401.4 387.3L403.2 387.8L404.9 387.9L407.2 386.5L407.6 377.0L409.3 380.5L409.0 382.3L411.2 382.4L413.6 380.2L414.3 378.4L417.2 379.4L419.9 379.2L420.9 376.9L423.1 375.6L423.5 374.1L425.9 371.8L429.0 370.3L433.4 370.8L433.8 373.7L434.7 376.3L434.3 380.1L434.5 381.5L434.5 382.4L436.3 382.4L438.1 390.7L423.4 406.3L401.7 406.3L397.1 390.7ZM431.6 382.2L432.4 380.1L433.1 379.5L434.3 380.1L434.5 381.5L434.5 382.4L434.0 383.6L432.4 383.6L431.8 382.8ZM422.6 389.6L424.3 387.8L426.4 387.0L428.1 389.1L427.2 390.5L425.3 392.0L424.8 392.4L423.4 391.4ZM463.4 191.3L461.6 188.7L459.1 187.7L457.3 186.2L457.4 184.1L456.7 182.3L459.8 182.6L460.1 180.6L463.0 177.8L466.8 178.3L471.1 179.6L473.8 180.6L478.0 179.3L481.4 180.6L485.0 180.1L484.8 178.8L481.3 176.3L482.4 174.6L481.3 172.2L484.9 171.6L489.1 171.2L494.2 169.6L495.3 168.7L498.8 168.9L501.0 171.8L505.6 172.1L506.4 173.1L507.9 173.3L511.1 171.6L511.6 171.0L515.0 173.8L522.0 180.0L522.9 178.8L525.1 180.1L528.8 179.6L533.0 182.1L534.1 183.1L536.9 182.6L538.7 184.4L536.9 186.2L537.5 189.0L532.1 189.2L532.5 193.6L528.2 194.8L531.7 199.7L531.3 202.1L528.3 200.5L521.8 200.0L518.1 199.5L517.1 201.5L513.2 200.5L511.7 201.9L510.5 204.1L508.4 204.1L506.8 205.7L506.5 204.9L503.5 204.7L501.3 201.5L500.9 200.0L498.0 198.2L492.1 198.7L489.4 196.4L483.5 193.3L478.6 194.8L481.0 204.4L479.8 204.5L477.8 202.6L474.2 202.3L473.3 203.2L471.9 201.3L468.1 198.7L466.1 194.8L463.7 192.3ZM344.1 202.8L345.4 202.3L348.8 202.7L349.6 203.6L348.1 205.2L347.8 208.5L346.7 208.7L347.7 210.4L347.0 211.9L347.7 212.4L346.6 214.3L346.7 215.1L346.7 216.9L340.0 216.9L340.6 202.6ZM346.7 215.1L346.6 214.3L347.7 212.4L347.0 211.9L347.7 210.4L346.7 208.7L347.8 208.5L348.1 205.2L349.6 203.6L348.8 202.7L345.4 202.3L344.1 202.8L341.6 202.6L341.9 196.1L359.0 197.4L358.9 199.1L359.8 199.9L361.2 200.3L364.2 200.5L365.7 201.0L366.4 201.4L369.4 201.5L370.1 201.8L372.3 210.4L362.7 215.6L358.4 218.2L350.9 218.3L348.6 217.7L346.7 216.1ZM369.4 201.5L366.4 201.4L365.7 201.0L364.2 200.5L361.2 200.3L359.8 199.9L358.9 199.1L359.0 197.4L350.4 192.3L350.6 184.1L358.7 182.3L365.1 180.6L365.9 179.1L367.3 178.6L367.7 179.3L368.9 180.1L371.0 182.1L372.4 181.7L372.4 182.6L374.4 183.2L375.5 183.4L376.8 184.1L379.2 184.7L378.2 188.2L377.0 188.6L375.2 191.6L375.0 191.9L376.6 191.3L377.2 192.5L376.7 192.8L377.4 193.8L376.5 194.6L377.2 195.6L377.0 196.4L378.7 197.0L378.3 197.9L378.6 198.7L383.4 199.2L383.6 204.3L379.6 204.3L373.2 201.8ZM374.4 183.2L372.4 182.6L372.4 181.7L371.0 182.1L368.9 180.1L367.7 179.3L367.3 178.6L369.0 178.1L369.4 178.6L371.1 178.6L372.6 178.4L374.2 179.2L374.0 180.1L374.7 180.2L374.7 180.2L375.4 181.1L374.9 181.7L374.9 181.7L374.2 182.1L374.4 183.2ZM374.4 183.2L374.2 182.1L374.9 181.7L375.7 182.6L375.5 183.4ZM374.7 180.2L374.0 180.1L374.2 179.2L372.6 178.4L371.1 178.6L369.4 178.6L369.0 178.1L369.6 174.6L372.4 172.1L376.3 172.6L376.8 173.9L376.6 175.4L375.9 175.6L376.6 176.4L376.1 177.2L375.0 177.6L374.8 179.1L374.7 180.2ZM374.7 180.2L374.8 179.1L375.0 177.6L376.1 177.2L376.6 176.4L375.9 175.6L376.6 175.4L376.8 173.9L376.3 172.6L377.2 169.6L379.3 169.8L379.3 169.8L381.0 170.0L382.6 170.5L385.0 171.1L386.9 170.3L390.2 170.6L390.3 172.3L390.8 173.8L390.5 174.9L391.4 175.6L391.5 176.8L392.5 178.8L392.2 179.9L392.2 179.9L391.1 179.6L388.5 181.0L386.9 181.3L387.8 183.0L390.7 185.2L390.7 185.2L389.8 186.2L388.7 186.8L389.2 188.4L387.5 188.1L385.1 188.7L383.5 189.0L384.0 188.3L382.2 188.3L382.2 188.3L380.2 187.8L378.2 188.2L378.2 188.2L379.2 184.7L376.8 184.1L375.5 183.4L375.5 183.4L375.7 182.6L374.9 181.7L374.7 180.2L375.4 181.1L374.9 181.7ZM379.3 169.8L377.2 169.6L376.8 163.5L382.6 161.8L385.1 165.2L386.9 167.0L387.3 168.1L387.3 169.1L386.9 171.1L385.0 171.1L382.6 170.5L381.0 170.0ZM378.2 188.2L380.2 187.8L382.2 188.3L382.3 189.6L384.1 190.0L383.4 190.7L383.3 191.8L381.8 191.1L381.2 192.7L380.0 191.3L378.8 192.4L377.2 192.5L377.2 192.5L376.6 191.3L375.0 191.9L375.2 191.6L377.0 188.6L378.2 188.2ZM382.2 188.3L384.0 188.3L383.5 189.0L385.1 188.7L387.5 188.1L389.2 188.4L388.7 186.8L389.8 186.2L390.7 185.2L393.0 184.6L397.0 185.6L397.5 187.2L396.3 188.7L395.6 190.1L393.4 190.7L390.8 191.0L388.1 190.5L387.4 189.7L385.2 190.2L384.1 190.0L384.1 190.0L382.3 189.6L382.2 188.3ZM378.3 197.9L378.7 197.0L377.0 196.4L377.2 195.6L376.5 194.6L377.4 193.8L376.7 192.8L377.2 192.5L377.2 192.5L378.8 192.4L380.0 191.3L381.2 192.7L381.8 191.1L383.3 191.8L383.4 190.7L384.1 190.0L384.1 190.0L385.2 190.2L387.4 189.7L388.1 190.5L390.8 191.0L390.2 191.8L390.7 192.5L391.1 193.3L390.0 194.1L390.3 195.6L395.2 200.5L400.7 203.9L403.1 207.8L403.3 210.4L400.7 218.7L388.7 217.4L387.8 213.0L379.2 211.7L379.0 204.3L383.6 204.3L383.4 199.2L378.6 198.7ZM391.1 193.3L390.7 192.5L390.2 191.8L390.8 191.0L390.8 191.0L393.4 190.7L395.6 190.1L396.7 191.1L394.8 191.8L395.0 192.7L394.3 193.6L392.8 193.2L391.4 193.7L390.8 193.6L390.5 193.4ZM390.8 193.6L391.4 193.7L392.8 193.2L394.3 193.6L395.0 192.7L394.8 191.8L396.7 191.1L398.3 192.4L401.6 192.5L402.0 194.3L402.8 194.3L402.0 195.2L399.9 194.6L397.6 194.2L396.4 194.8L395.2 194.3L395.3 195.4L396.4 196.9L398.2 198.7L399.6 199.9L399.6 200.3L401.4 201.2L401.6 201.5L401.0 202.6L395.2 200.5L390.3 195.6L390.0 194.1ZM397.5 187.2L396.3 188.7L395.6 190.1L396.7 191.1L398.3 192.4L401.6 192.5L404.3 191.9L406.2 191.3L407.5 188.4L409.2 187.2L407.6 186.2L406.2 185.8L404.0 186.4L402.5 186.7L400.9 187.6L398.9 187.8L397.5 187.2ZM397.0 185.6L398.8 184.6L400.6 183.4L402.6 184.1L403.2 184.1L404.8 183.9L406.1 183.5L408.2 184.4L407.6 186.2L406.2 185.8L404.0 186.4L402.5 186.7L400.9 187.6L398.9 187.8L397.5 187.2L397.5 187.2L397.0 185.6ZM390.7 185.2L387.8 183.0L386.9 181.3L388.5 181.0L391.1 179.6L392.2 179.9L393.1 179.7L395.0 180.5L395.4 181.1L396.1 181.8L396.5 181.0L398.1 181.3L398.8 182.1L400.6 183.4L400.6 183.4L398.8 184.6L397.0 185.6L397.0 185.6L393.0 184.6L390.7 185.2ZM392.2 179.9L392.5 178.8L391.5 176.8L391.4 175.6L390.5 174.9L390.8 173.8L390.3 172.3L390.2 170.6L394.5 169.1L399.3 169.6L400.7 171.0L400.7 171.0L406.9 171.2L406.9 171.2L408.4 172.2L408.4 172.2L409.6 174.6L409.6 175.3L408.4 176.3L409.4 176.8L409.5 178.3L409.5 178.3L410.3 179.8L410.8 180.6L409.9 181.1L408.3 183.1L408.2 184.4L408.2 184.4L406.1 183.5L404.8 183.9L403.2 184.1L402.6 184.1L400.6 183.4L400.6 183.4L398.8 182.1L398.1 181.3L396.5 181.0L396.1 181.8L395.4 181.1L395.0 180.5L393.1 179.7L392.2 179.9ZM408.4 172.2L410.2 172.3L412.1 171.3L412.5 169.8L413.8 168.9L413.7 167.9L410.4 166.4L410.1 166.2L404.6 166.2L402.9 166.9L401.8 166.9L402.1 168.9L403.6 169.0L405.1 169.5L406.3 169.6L406.9 171.2L408.4 172.2ZM402.9 166.9L404.6 166.2L410.1 166.2L410.4 166.4L413.7 167.9L416.4 166.8L415.0 164.0L414.3 163.4L411.6 162.6L410.2 162.3L408.5 162.5L407.0 163.2L405.1 162.3L401.3 163.0L401.8 166.9ZM408.5 162.5L410.2 162.3L411.6 162.6L414.3 163.4L414.2 161.5L413.7 160.1L414.7 158.8L414.4 157.9L405.2 157.9L402.6 159.1L403.1 162.5L405.1 162.3L407.0 163.2ZM413.7 156.1L416.3 153.9L418.9 151.0L419.3 150.6L416.0 148.7L416.5 146.9L414.8 145.9L415.1 144.1L412.7 141.4L413.8 139.6L411.0 138.5L411.1 136.9L411.3 136.6L411.6 135.6L409.1 134.4L406.0 135.1L405.7 136.2L402.6 137.2L398.3 136.0L397.2 136.5L399.7 137.9L402.6 139.1L403.1 140.7L404.0 141.6L404.7 143.9L404.6 144.6L402.6 148.0L399.0 149.9L397.9 155.1L398.3 157.4L401.6 158.6L408.9 157.9L413.3 157.0ZM404.7 143.9L404.0 141.6L403.1 140.7L402.6 139.1L399.7 137.9L397.2 136.5L396.5 138.0L393.3 137.8L393.1 138.9L391.1 139.1L390.2 140.2L389.3 142.3L387.8 143.2L388.1 143.9L386.7 146.6L387.6 147.0L387.3 148.0L385.2 148.0L384.2 148.9L384.5 150.3L384.6 153.4L386.1 154.2L385.0 155.1L385.8 156.5L385.7 157.2L384.5 157.8L384.4 158.4L384.6 159.2L384.0 160.1L383.5 159.6L382.8 160.3L384.0 163.5L385.1 165.2L386.9 167.0L387.3 168.1L387.3 169.1L389.7 169.6L395.2 167.6L400.2 164.7L399.4 158.6L398.3 157.4L397.9 155.1L399.0 149.9L402.6 148.0L404.6 144.6ZM383.5 159.6L384.0 160.1L384.6 159.2L384.4 158.4L384.5 157.8L385.7 157.2L385.8 156.5L385.0 155.1L386.1 154.2L384.6 153.4L384.5 150.3L384.2 148.9L385.2 148.0L387.3 148.0L387.6 147.0L386.7 146.6L388.1 143.9L387.8 143.2L389.3 142.3L390.2 140.2L391.1 139.1L393.1 138.9L393.3 137.8L396.5 138.0L397.2 136.5L397.2 136.5L398.3 136.0L402.6 137.2L405.7 136.2L406.0 135.1L409.1 134.4L411.6 135.6L411.3 136.6L412.8 135.3L414.0 134.9L415.0 134.5L413.7 130.2L387.0 130.2L368.1 150.3L368.4 163.5L378.7 163.5L382.8 160.3ZM374.9 121.9L408.6 121.9L405.0 112.5L374.0 112.5ZM340.8 179.6L352.1 179.6L352.4 168.1L341.6 168.1ZM348.7 169.5L348.1 170.2L346.9 171.0L347.9 171.7L349.1 171.1L349.8 172.0L350.8 172.0L352.4 172.1L352.5 168.6L349.3 168.4ZM352.2 183.4L351.4 177.1L352.4 173.1L352.4 171.0L352.4 170.2L351.4 168.9L351.2 168.5L347.4 167.1L346.9 159.8L357.2 153.9L362.7 155.1L367.6 174.6L367.2 177.1L365.9 179.1L365.1 180.6L358.7 182.3ZM317.9 150.3L339.4 150.3L340.4 141.1L319.8 141.1ZM405.3 208.5L406.7 207.5L407.2 205.6L409.2 204.8L411.2 204.3L414.4 203.7L416.2 204.5L418.3 203.4L418.9 204.3L417.9 205.8L417.5 207.2L417.9 208.8L419.5 209.7L419.6 210.6L418.8 211.4L419.0 213.2L420.6 214.5L421.7 216.4L423.0 216.6L424.1 216.9L424.5 219.0L419.4 222.1L412.9 222.1L404.3 214.3L404.2 208.3ZM418.3 203.4L416.2 204.5L414.4 203.7L411.2 204.3L409.7 201.8L409.8 200.3L410.8 199.5L409.4 198.3L409.8 196.9L410.6 197.9L415.7 198.3L418.8 197.0L421.0 197.9L422.3 198.1L424.5 200.0L422.7 202.6L421.6 202.6L419.5 202.5L418.3 203.4ZM422.3 198.1L421.0 197.9L418.8 197.0L415.7 198.3L410.6 197.9L409.8 196.9L409.2 195.6L407.0 195.4L407.1 194.3L405.5 192.9L404.3 191.9L406.2 191.3L407.5 188.4L409.2 187.2L409.8 187.2L413.4 187.9L413.6 187.8L416.6 186.5L418.0 187.7L420.2 190.0L420.5 192.3L420.9 193.7L424.1 194.3L426.0 196.1L424.5 200.0ZM408.2 184.4L408.3 183.1L409.9 181.1L410.8 180.6L410.3 179.8L409.5 178.3L412.1 177.3L416.6 178.1L420.1 178.1L423.2 178.8L423.2 177.3L425.4 176.8L429.3 176.2L430.7 177.6L430.6 178.9L433.8 181.1L437.7 181.3L438.9 182.3L443.3 183.1L442.9 185.1L443.6 187.4L440.7 188.2L440.7 189.5L438.8 192.3L438.4 194.1L438.4 196.1L427.0 196.1L424.1 194.3L424.1 194.3L420.9 193.7L422.2 192.2L422.2 191.0L424.4 191.3L423.0 188.7L422.0 187.4L419.0 186.0L416.6 186.5L416.6 186.5L413.6 187.8L413.4 187.9L409.8 187.2L409.2 187.2L407.6 186.2L407.6 186.2L408.2 184.4ZM432.5 222.6L439.1 222.6L438.6 218.2L432.1 218.2ZM538.7 184.4L536.9 186.2L537.5 189.0L532.1 189.2L532.5 193.6L528.2 194.8L531.7 199.7L531.3 202.1L528.5 204.1L525.5 205.2L523.9 206.7L521.7 206.6L519.9 208.3L519.8 209.2L520.9 211.7L523.3 211.9L524.2 214.9L523.6 215.4L526.8 216.6L531.7 219.5L534.9 222.6L534.9 227.1L536.7 227.3L536.6 230.5L542.1 233.3L544.8 233.6L549.5 236.7L554.4 239.1L559.2 239.3L560.6 239.0L561.3 240.9L562.2 238.8L564.2 238.8L567.1 239.6L569.0 239.5L571.4 237.3L574.9 236.2L576.4 235.7L579.6 238.4L581.7 240.1L583.0 240.4L583.9 244.6L582.0 247.4L582.3 249.8L585.1 249.3L585.7 251.6L587.2 252.4L586.8 254.5L589.1 256.1L591.4 255.9L593.0 257.0L592.6 253.7L593.3 253.6L595.2 253.5L597.4 253.2L600.2 251.4L603.4 252.7L603.6 254.8L605.6 255.8L607.0 256.1L607.2 257.4L607.3 261.3L609.1 266.5L617.7 266.5L630.2 253.5L631.3 250.8L632.4 245.6L637.7 241.7L634.7 226.0L628.5 211.7L627.2 209.1L627.3 207.9L628.7 206.2L630.1 203.1L633.2 204.1L632.8 202.6L635.0 201.4L634.6 200.0L636.9 201.4L636.6 198.7L634.5 195.1L637.9 194.6L635.7 186.3L632.4 187.8L629.2 187.9L626.3 184.9L618.5 182.6L610.5 175.8L608.7 174.4L603.8 173.2L599.0 173.8L598.4 175.3L601.0 177.1L600.2 177.8L600.7 181.2L599.6 183.1L596.8 182.5L597.4 187.4L601.7 188.1L603.3 187.2L608.2 190.5L602.3 191.3L601.3 193.8L598.7 195.1L594.1 194.7L594.0 196.4L596.0 198.2L593.4 200.9L588.2 203.1L584.2 203.6L574.6 201.0L566.4 200.5L564.8 200.8L561.0 196.9L556.2 195.0L550.7 194.3L549.2 192.3L548.8 190.0L545.7 187.7L542.4 186.7L539.6 184.2ZM634.6 213.7L635.1 213.6L635.4 212.2L637.8 211.4L638.1 211.3L642.0 213.0L646.7 223.4L637.4 224.7L632.9 214.3ZM648.1 232.6L654.8 232.6L671.9 223.4L669.4 200.0L663.5 193.1L654.0 192.8L655.9 202.6L659.5 211.7L655.0 213.2L648.8 218.2L644.6 223.4ZM581.5 295.3L589.7 297.9L592.7 302.6L595.3 304.9L599.0 307.8L601.4 309.6L603.5 309.4L605.1 308.3L607.3 304.4L614.9 306.0L615.8 306.9L616.6 309.1L618.0 309.9L620.8 309.6L621.7 308.5L624.9 309.0L627.2 308.3L628.1 306.0L629.4 304.4L629.3 301.3L631.4 300.9L633.9 301.4L636.0 301.3L639.4 300.5L655.5 299.7L665.0 307.0L688.2 312.3L688.1 319.1L686.9 336.0L686.7 338.4L673.0 337.1L657.1 335.8L656.3 333.7L650.3 333.7L650.1 335.6L650.3 337.0L650.3 339.7L645.0 341.5L627.1 337.1L604.3 333.2L593.4 321.4L580.7 304.4ZM697.8 437.3L728.2 437.3L756.8 399.8L723.9 399.8ZM601.8 309.0L602.9 309.0L602.9 308.4L601.8 308.4ZM393.1 219.2L394.8 219.2L394.7 217.7L393.0 217.7ZM159.8 265.7L159.2 270.7L159.8 270.7M161.3 271.2L158.8 273.3L158.3 274.6M158.3 274.6L156.4 276.3M158.3 274.6L160.2 275.8L161.7 275.9L161.7 277.2L161.6 277.8M162.7 278.3L164.2 276.2L166.6 275.7L168.8 273.6L172.5 273.1M166.0 283.3L168.2 283.5L170.5 283.8M172.9 287.3L172.1 288.5L171.9 291.1M199.9 260.8L199.8 263.4L199.5 265.1M224.9 290.3L221.5 294.0L221.9 296.1L221.2 296.8L222.7 298.7M222.7 298.7L221.1 300.8L217.9 301.8L215.1 301.8L213.9 303.9L216.4 306.5L215.0 308.1L211.5 310.2L209.6 310.3L208.3 309.1M222.7 298.7L224.6 300.5L225.2 302.1L224.5 306.2L226.5 308.9L228.8 308.3L232.3 307.3M231.0 296.6L230.6 299.2L228.9 301.8L230.5 303.4L232.3 307.3M232.3 307.3L233.7 307.0L235.8 305.7L236.9 306.2M238.3 297.1L237.3 300.0L237.7 303.4L236.9 306.2M236.9 306.2L238.5 306.2L241.3 305.7L243.5 301.3M177.5 321.1L177.3 323.8L179.4 325.3L180.6 325.3L181.9 322.2L182.3 321.1L186.2 319.1L188.2 316.3L188.9 314.7L188.9 312.5M201.4 323.2L199.2 323.8L194.7 325.8L194.0 328.2L193.0 330.3L192.3 331.9L194.8 335.8L196.5 337.3L196.8 338.4L200.4 337.1L200.8 341.0L203.0 340.9M203.0 340.9L205.2 344.9L204.7 348.1L204.5 350.4L204.2 353.0L205.5 354.9L204.2 357.5L204.5 358.0M204.5 358.0L202.6 360.2M203.0 340.9L205.4 341.0L209.6 338.1L212.4 337.6L212.8 342.3L215.1 344.7L218.8 346.2L223.0 347.5L224.2 348.3L225.0 351.7L225.4 354.7L229.6 354.9L229.7 357.2L231.9 359.6L231.4 361.9L230.9 364.9M230.9 364.9L228.5 362.8L222.6 363.6L221.7 365.8L221.2 370.4M230.9 364.9L231.9 370.0L236.2 370.5L237.2 371.3L238.0 375.0L240.5 375.1L240.2 379.2M357.9 220.5L358.9 221.4L359.0 224.2L360.1 227.6L359.8 228.4L356.3 228.5L354.8 229.5L354.6 231.4L352.1 232.3L351.2 234.0L347.8 235.0L343.4 237.3L343.4 239.9M343.4 239.9L333.3 239.9M343.4 239.9L343.3 244.3L335.8 244.3L335.7 251.0L333.4 252.2L333.1 256.5L324.4 256.5M343.3 240.9L351.9 246.9M351.9 246.9L365.3 257.1L365.3 258.2L366.8 259.2L370.0 260.5L370.2 262.6L372.4 262.2M372.4 262.2L375.8 261.4L379.6 257.8L389.7 250.8M389.7 250.8L388.6 248.8L385.7 248.0L383.8 243.9L384.7 243.0L384.8 239.6L384.8 236.5L383.3 233.6L383.8 233.3M383.8 233.3L382.6 228.4L379.1 223.9L380.7 221.7L380.7 218.7L381.3 215.8M383.8 233.3L385.5 231.5L385.4 229.4L388.0 227.1L387.9 225.5M418.0 229.7L417.6 231.5L418.2 235.8L419.2 254.8M419.2 254.8L419.4 260.0L417.1 260.0L417.2 261.3M417.2 261.3L398.7 251.0M398.7 251.0L394.8 253.2L389.7 250.8M419.2 254.8L446.1 254.8M351.9 246.9L347.9 246.9L349.9 269.1L350.5 269.7L350.1 271.8L341.3 271.8L340.5 272.0L338.3 272.0L336.4 271.5L334.8 273.7M334.8 273.7L332.1 270.2L329.6 268.7L325.5 269.1L325.0 270.2M334.8 273.7L335.2 275.9L336.6 278.4L336.4 279.9M336.4 279.9L331.3 279.2M331.3 279.2L327.9 279.1L324.4 280.0M324.2 276.7L327.4 276.2L329.5 276.6L331.1 277.0L331.0 277.5L328.4 277.0L327.2 277.5L324.2 278.0M331.3 279.2L331.3 281.7L329.0 282.2L328.3 283.6M336.4 279.9L338.2 281.2L340.5 280.6L342.5 281.9L343.6 283.5L344.3 285.6M332.1 288.6L334.0 286.4L337.0 286.1L338.3 288.5L339.0 290.0M339.0 290.0L340.8 290.4L342.0 293.2L343.2 292.4M339.0 290.0L336.2 294.1M343.2 292.4L344.3 290.0L345.0 287.7L344.3 285.6M343.2 292.4L343.6 295.3L345.6 297.1L345.4 300.9M344.3 285.6L348.5 284.6L350.1 285.1M350.1 285.1L350.5 281.4L352.6 279.6L352.9 277.8L355.4 276.5L357.0 275.2L360.4 273.6L363.2 273.2M363.2 273.2L365.0 273.1L370.7 272.0L372.3 268.1L372.4 262.2M350.1 285.1L352.1 286.9L355.3 286.4L356.4 287.0M356.4 287.0L356.9 290.8L355.3 294.5L356.2 298.4L355.6 298.9M356.4 287.0L356.3 283.5L362.7 283.3M362.7 283.3L363.6 286.1L363.9 290.0L364.1 294.0L365.5 296.3M362.7 283.3L364.8 283.5M364.8 283.5L366.4 288.7L366.5 296.1M364.8 283.5L367.3 281.9L368.2 280.9M368.2 280.9L367.5 279.1L365.0 278.3L363.6 275.7L363.2 273.2M368.2 280.9L371.0 281.7M371.0 281.7L371.4 284.8L369.1 288.7L368.9 291.9L368.9 295.7M371.0 281.7L372.1 277.0L375.3 275.9L378.7 278.3L383.3 278.7L387.2 277.4L391.3 278.0L393.8 276.5M393.8 276.5L393.6 274.6L398.0 268.1L397.8 258.7L398.7 251.0M382.3 300.0L383.1 297.1L385.3 294.5L388.3 295.3L389.9 293.7L392.4 287.7L394.4 283.3L396.2 282.2L395.3 279.9L395.0 278.0M393.8 276.5L395.0 278.0M395.0 278.0L396.9 280.4L397.4 283.8L398.3 286.1L394.9 286.4L397.9 292.7M397.9 292.7L396.1 296.6L396.4 299.5L397.5 301.8L399.9 306.5M399.9 306.5L399.9 307.8L396.2 306.6L393.4 306.5M393.4 306.5L388.9 306.5L385.3 306.2M388.9 306.5L388.9 309.6L384.9 309.6M393.4 306.5L393.2 308.9L395.7 308.9L396.2 313.8L394.8 318.5L391.5 318.0L389.7 319.1L390.2 321.4L388.3 322.5M399.9 306.5L401.0 303.1L405.6 303.1M405.6 303.1L404.5 306.5L403.8 311.5L403.6 313.8L400.1 317.5L399.4 322.5L397.8 323.8L395.9 325.1L392.9 324.4M390.4 325.3L392.2 323.8L392.9 324.4L391.5 327.2L390.8 327.4M391.0 327.9L393.1 327.5L401.0 327.7L401.6 331.1L406.4 332.9L407.4 330.6L409.9 330.6L412.9 331.3L413.1 335.5L412.9 337.3L413.9 341.0L417.8 340.7M417.8 340.7L417.7 346.2L413.1 346.2L412.9 354.6L416.0 358.3M417.8 340.7L420.8 341.5L422.3 343.4L425.1 342.6L427.8 344.9L429.1 347.3L430.9 347.3L431.0 344.0L429.2 344.7L427.7 343.4L428.4 340.2L428.6 337.3L428.0 336.3L429.2 334.5L433.5 333.7M389.6 357.3L392.3 356.7L395.0 357.7L404.6 357.7L410.5 359.2L416.0 358.3M407.6 377.0L407.9 369.8L410.2 369.8L410.5 360.1L415.7 359.3L418.2 359.3L420.2 358.8M416.0 358.3L418.9 358.0L420.2 358.8M420.2 358.8L422.2 363.2L425.5 365.8L424.5 367.1L426.0 368.7L429.0 370.3M420.2 358.8L424.1 359.2L428.4 354.1L432.1 353.2M432.1 353.2L434.1 354.1L437.7 355.9L437.8 359.3L437.0 361.9L437.6 364.0L436.2 367.9L433.4 370.8M432.1 353.2L431.7 350.9L438.7 348.8M438.7 348.8L437.6 347.8L438.4 344.9L439.2 340.5L438.6 337.3L438.5 336.8M438.5 336.8L434.0 334.7L433.5 333.7M438.5 336.8L440.9 337.1L442.0 338.4L442.1 342.6L442.9 342.5M438.7 348.8L441.4 349.9L441.2 354.1L443.1 356.9L444.6 354.1L444.3 350.2L442.6 347.8L442.9 342.5M442.9 342.5L446.4 342.8L451.1 341.8L455.5 339.7M433.5 333.7L430.7 329.2L431.0 323.9M431.0 323.9L430.3 320.9L429.6 319.3M431.0 323.9L432.8 322.2L433.8 320.9L433.1 318.5M429.6 319.3L431.9 318.5L433.1 318.5M429.6 319.3L430.1 316.6L431.0 315.9M431.0 315.9L433.1 315.0M433.1 315.0L433.9 317.5L433.1 318.5M433.1 315.0L441.0 314.9M441.0 314.9L449.7 320.4L449.4 321.4L453.1 324.5M431.0 315.9L431.0 313.6L431.8 310.2L434.9 306.6L433.9 303.1M441.0 314.9L441.2 311.7L442.3 309.4L443.5 307.3L442.0 302.6L441.1 301.3M433.9 303.1L436.5 303.0L440.0 302.5L441.1 301.3M441.1 301.3L445.6 300.2M445.6 300.2L447.8 300.6L450.6 302.9L453.8 303.4L456.8 301.2L459.3 301.9M459.3 301.9L457.3 304.9L457.3 314.5L458.7 316.6M459.3 301.9L461.9 300.5L466.4 299.3L473.2 291.4L470.9 291.4L463.9 288.7L461.5 287.2L461.0 283.6L461.3 283.6M461.3 283.6L461.8 282.3M461.3 283.6L458.7 283.5L458.6 281.7L459.9 279.7M459.9 279.7L461.5 279.1M459.9 279.7L456.1 275.4L451.9 274.1L449.3 273.5L446.3 274.9M446.3 274.9L446.0 272.8L447.0 267.8L450.3 265.2M446.3 274.9L445.4 279.1L443.2 281.4L442.8 283.8L441.5 284.8L441.1 287.6M441.1 287.6L441.1 289.8L438.7 291.6L441.0 293.2L443.3 296.6L444.1 298.1L445.6 300.2M441.1 287.6L440.6 287.4L438.9 284.3L438.6 280.4L437.7 280.9L436.1 280.9L434.4 286.6L430.5 286.6L427.1 287.8L423.6 287.3L420.1 285.3L417.7 289.5M417.7 289.5L420.7 291.9L423.5 295.0L425.9 298.9M425.9 298.9L428.2 301.0L430.7 300.2L433.9 303.1M425.9 298.9L421.5 298.7L418.9 298.9L415.5 299.7L414.4 301.5L410.2 300.8L407.4 298.9L405.6 301.0L405.6 303.1M397.9 292.7L400.7 291.9L404.1 291.4L406.4 288.7L409.6 288.5L412.5 284.6L415.2 283.6M415.2 283.6L417.0 288.7L417.7 289.5M415.2 283.6L413.8 279.1L413.1 276.5L414.2 275.2L415.2 271.2L417.5 271.2L417.2 261.3M461.8 282.3L461.5 287.2M463.9 288.7L470.9 291.4L473.2 291.4L475.1 287.4L474.9 283.0M440.3 235.2L441.0 231.2L440.8 227.6L440.9 226.8M439.7 225.8L440.7 225.4M440.9 226.8L441.1 225.2L440.7 225.4M440.7 225.4L442.6 222.9L442.0 221.8L441.0 221.7M441.1 226.8L443.6 227.8L447.7 225.1M447.7 225.1L448.9 228.2M448.9 228.2L444.3 229.9L446.8 232.6L445.8 233.9L442.9 235.9L440.3 235.6M440.5 218.3L441.2 218.2L442.2 217.5L441.9 216.1L444.8 216.0L448.9 216.4L454.0 215.3M454.0 215.3L451.8 217.1L452.6 219.2L452.1 222.4L447.7 225.1M454.0 215.3L459.3 215.2M459.3 215.2L457.5 211.9L457.4 209.3L458.2 208.5M458.2 208.5L455.5 207.5L454.9 204.9M454.9 204.9L452.6 203.6L450.4 203.8M446.2 199.0L450.5 199.5L454.6 201.0L457.1 200.8L460.5 202.8M460.5 202.8L460.4 204.7L457.8 204.4M457.8 204.4L454.9 204.9M457.8 204.4L459.3 205.7L460.5 207.2L461.9 209.1L462.2 210.6M462.2 210.6L465.0 208.5L465.8 209.3L467.5 211.8M462.2 210.6L461.4 210.8L458.7 209.3L458.2 208.5M460.5 202.8L462.7 204.4L464.0 204.7L465.1 203.0M459.3 215.2L461.1 218.2L463.2 220.3L462.1 222.1L463.5 225.2L466.9 227.6L467.9 230.2L468.9 232.6L470.3 234.0M466.2 236.2L467.7 233.6L469.1 234.0M466.2 236.2L468.3 236.5L470.4 237.6M448.9 228.2L451.6 228.8L455.7 231.0L462.0 235.9L465.8 236.2L466.2 236.2M460.3 269.4L461.1 266.8L463.4 266.8L468.4 267.2L469.8 268.0L473.7 264.4L480.8 262.6M480.8 262.6L483.8 268.7M480.8 262.6L487.4 260.0L488.4 254.8L487.3 252.9M487.3 252.9L481.3 252.3L478.8 248.9M476.9 247.6L477.8 248.0M487.3 252.9L488.3 249.0L488.8 247.7L489.4 247.2M488.4 244.2L488.8 245.2L489.1 245.4M478.8 214.7L480.7 214.4L481.9 213.0L485.7 212.7L488.6 213.9L490.6 214.4L493.2 216.5L494.9 216.6L495.6 219.2M495.6 219.2L495.0 222.6L495.6 225.8L497.0 229.9L499.0 230.2L497.6 234.3M497.6 234.3L500.2 237.4L502.6 238.6L503.0 241.0L504.1 241.3L504.1 242.7L501.4 243.8L501.0 246.7M497.6 234.3L501.5 235.4L505.0 235.4L509.7 234.1L509.4 231.5L512.3 230.2L515.3 228.9L514.6 225.8L516.7 225.2L515.4 223.4L517.9 222.6L518.4 220.3L517.2 218.2L519.3 216.0L523.6 215.4M495.6 219.2L498.1 220.0L499.8 218.6L502.3 217.4L502.5 215.3L504.1 214.1L506.0 214.7M506.0 214.7L508.9 215.1M508.9 215.1L511.2 214.8L512.3 214.0L513.8 214.1L513.9 212.7L515.7 212.2L516.4 213.2L517.4 216.4L519.6 215.6L520.6 214.4L524.2 214.9M481.0 204.4L483.1 204.4L483.0 202.8L485.5 200.5L488.9 202.1L489.6 204.1L493.6 204.9L495.5 207.8L500.0 210.5L506.0 214.7M508.9 215.1L509.2 212.2L507.0 208.8L509.4 207.5L512.8 207.2M512.8 207.2L515.4 207.5L517.5 205.6L515.4 204.9L512.8 204.7L510.8 203.6L511.7 201.9M512.8 207.2L511.1 208.8L514.2 209.3L519.8 209.2M539.6 184.2L542.5 182.3L546.0 180.1L550.6 180.6L558.0 182.7L559.0 180.8L556.9 178.3L559.9 177.1L565.6 178.8L566.8 180.6L572.5 181.1L577.1 182.1L581.1 183.9L585.8 184.2L589.6 183.2L591.3 181.5L596.8 182.5M416.4 166.8L420.1 167.5L422.0 168.1L422.2 170.1L424.5 172.1L426.5 173.4L424.1 174.1L425.4 176.8M402.0 195.2L402.8 195.1L402.4 196.6L403.5 197.4L402.8 198.7M402.8 198.7L401.8 199.5L401.4 201.2M402.8 198.7L405.3 200.4M403.6 203.0L404.0 201.0L404.8 201.2M405.3 200.4L404.8 201.2M404.8 201.2L406.1 203.0M406.1 203.0L408.0 201.9M405.3 200.4L406.2 199.4L408.4 200.8L408.0 201.9M408.0 201.9L409.7 201.8M406.1 203.0L406.0 204.4L407.2 205.6M516.3 250.3L517.5 248.8L522.4 248.5L519.9 245.1L520.0 242.7L518.1 241.7L519.7 239.1L523.0 239.2L525.4 234.0L527.2 231.0L526.9 228.6L528.5 227.8L524.9 225.5L523.9 221.6L530.3 220.8L531.7 219.5M542.1 233.3L540.9 237.0L545.3 239.3L548.7 240.8L552.9 242.5L557.5 243.3L559.9 243.3L559.2 239.3M561.3 240.9L561.8 242.4L565.1 242.2L568.4 242.1L567.1 239.6M564.1 255.3L563.1 251.6L561.0 248.2L560.2 244.8L560.6 243.0L563.9 244.3L564.4 246.1L570.3 246.9L568.0 249.5L568.8 251.9L570.6 250.3L572.0 254.9L572.2 256.6L571.7 258.0M572.0 254.9L573.2 254.2L572.9 249.5L575.3 246.4L575.7 242.7L579.7 241.4L579.6 238.4M591.4 255.9L589.5 259.1M589.5 259.1L587.1 260.8L585.0 263.7L585.2 266.3L587.7 270.2L587.1 272.5L589.9 277.8L591.2 281.4L589.6 285.2L589.3 286.1M589.5 259.1L590.9 261.3L592.5 261.2L592.6 266.3L594.9 264.7L597.4 264.3L601.1 266.7L601.6 269.4L603.9 272.3L603.4 274.9M603.4 274.9L598.3 275.0L597.4 276.7L597.2 278.3L598.8 281.8M603.4 274.9L605.2 274.8L608.6 273.8M593.3 253.6L595.3 255.5L598.0 257.9L600.5 258.9L598.8 261.6L601.8 263.5L605.6 268.0L607.8 270.4L608.6 273.8M608.6 273.8L609.3 279.9L606.8 281.7L605.8 283.5L604.0 283.8L602.6 285.1M593.3 295.4L595.0 295.9L595.7 297.4L597.3 297.1L597.9 296.1M625.8 300.2L627.2 301.8L628.6 300.9L628.2 299.5M636.9 201.4L637.4 201.8" fill="none" stroke="#5f5a55" stroke-width="0.4"/>
</g>
<path fill-rule="evenodd" clip-rule="evenodd" d="M438.2 230.5L438.8 229.7L439.3 226.5L439.7 225.8L440.3 223.7L441.0 221.8L440.5 219.5L440.5 218.2L441.0 216.6L439.4 216.6L437.4 216.1L435.7 217.7L433.8 218.2L431.9 216.9L429.0 216.0L428.7 217.4L426.8 217.7L423.8 216.1L421.8 215.6L421.2 213.5L419.3 212.2L420.4 211.7L419.9 209.6L418.4 209.1L418.4 207.8L419.4 206.7L421.1 206.7L424.3 206.7L426.1 205.8L424.2 205.2L422.0 205.2L420.9 205.3L419.5 206.2L418.4 207.6L417.8 206.2L417.9 205.8L415.6 205.4L414.4 205.4L413.4 206.7L413.7 207.2L413.1 207.9L412.4 207.2L411.3 206.5L410.8 207.8L411.8 209.6L411.7 210.6L413.4 211.1L414.3 212.4L414.3 213.9L413.4 213.1L412.1 213.2L412.7 214.5L411.8 214.3L412.7 216.9L411.4 217.1L410.4 215.6L409.6 216.1L408.5 213.7L408.1 213.4L409.3 212.4L408.0 212.2L407.0 210.6L405.8 208.8L403.9 207.0L403.7 204.4L403.6 203.0L401.6 201.5L399.6 200.3L396.9 198.7L394.3 196.9L393.5 194.8L392.2 194.1L391.5 195.4L390.8 193.6L389.5 193.2L388.1 194.1L388.6 195.1L388.3 196.9L390.9 198.5L392.1 200.8L394.3 202.6L396.8 202.8L396.3 203.9L398.7 205.2L400.9 206.2L402.0 207.5L401.8 208.3L400.7 207.2L398.8 206.5L398.1 208.5L399.3 210.4L398.1 211.7L397.1 213.2L396.3 213.0L396.5 211.4L397.1 210.4L396.1 207.8L394.6 207.2L393.5 206.2L392.8 205.7L390.2 204.7L388.4 203.4L386.0 201.5L384.7 200.3L384.0 197.9L383.1 197.2L381.2 196.4L379.4 197.7L378.3 197.9L377.1 199.0L375.5 199.7L373.8 199.2L372.1 199.0L370.0 199.2L369.0 200.5L369.4 201.5L369.4 202.8L367.3 204.1L364.4 206.0L362.7 208.3L362.1 209.3L363.1 211.0L361.6 212.2L361.2 214.0L358.6 215.6L357.9 216.2L355.1 216.4L353.2 216.4L351.1 217.8L350.6 218.2L349.1 216.9L348.9 215.8L346.7 215.1L345.7 215.6L343.4 215.6L343.8 213.0L343.0 211.8L342.4 211.0L342.9 209.3L343.8 207.2L344.3 205.2L344.1 202.8L343.8 201.3L343.2 200.0L345.4 198.7L346.4 198.1L350.2 198.5L353.3 199.0L354.8 198.8L358.5 199.1L359.6 198.5L360.0 196.1L360.4 193.6L360.2 191.8L358.6 190.2L358.2 189.2L357.0 188.4L354.0 187.7L353.1 186.2L354.8 185.4L357.2 185.6L358.7 185.5L359.7 185.5L359.5 183.1L360.1 182.9L360.5 183.7L362.9 183.4L364.9 182.2L365.9 181.3L365.9 179.8L367.7 179.3L369.4 178.6L370.6 177.3L371.6 175.8L371.9 174.7L373.3 174.1L374.8 173.4L376.4 173.6L378.3 172.8L379.5 173.1L379.6 172.1L379.9 171.1L379.3 169.8L378.2 168.2L378.1 165.9L378.2 164.7L381.4 163.2L382.7 162.9L382.6 164.2L382.3 165.7L383.5 166.2L382.2 166.9L381.5 168.4L381.2 169.1L381.0 170.0L382.1 170.8L383.8 171.1L383.9 172.2L386.2 171.7L386.9 171.0L389.0 170.8L390.3 172.3L393.7 171.5L395.6 170.6L398.0 170.1L398.9 171.1L400.7 171.0L401.3 169.8L402.2 169.6L403.3 168.9L403.0 167.9L402.9 166.9L402.6 165.2L403.1 164.0L405.2 162.9L406.6 164.4L408.2 164.7L408.8 163.7L408.5 162.5L408.5 161.3L406.8 161.0L406.4 159.4L408.5 158.8L410.8 158.4L414.6 158.6L416.2 157.7L418.4 157.7L416.0 156.7L414.9 156.0L413.7 156.1L410.5 156.5L408.7 157.0L405.2 157.8L403.5 156.5L401.8 155.1L401.7 153.6L401.1 151.7L401.2 150.1L403.2 148.5L405.8 146.4L407.2 145.7L406.8 144.6L404.8 143.9L401.4 144.4L400.4 145.7L399.8 147.1L398.8 148.7L396.6 149.9L394.9 151.3L394.2 152.7L394.2 155.8L396.7 156.7L397.8 157.9L396.3 159.1L395.4 160.6L393.9 160.8L393.9 162.7L393.9 165.4L393.2 166.6L391.0 166.8L390.1 168.2L387.7 168.6L387.0 167.1L387.0 165.7L385.4 163.7L385.1 163.0L383.7 161.3L383.5 159.6L382.4 157.7L382.2 159.1L380.6 159.8L379.2 161.3L377.7 162.0L375.8 162.3L373.3 160.1L372.3 158.6L372.4 156.5L371.8 155.1L371.8 152.9L373.7 151.5L375.6 150.6L377.9 149.4L381.2 149.3L380.1 148.7L382.1 146.9L383.7 145.2L384.6 143.4L385.9 141.4L387.3 140.5L389.0 138.9L387.2 138.3L385.1 139.0L387.5 137.6L389.6 136.9L392.4 135.6L394.3 135.3L396.7 134.5L399.1 133.8L401.7 133.0L404.8 132.1L407.8 132.3L409.1 133.2L412.1 133.2L414.1 133.8L412.6 135.1L413.9 134.9L415.8 134.7L418.1 136.2L421.3 136.2L425.9 137.3L430.3 138.9L433.1 140.7L433.7 142.0L432.0 143.0L428.6 143.2L423.2 142.5L419.5 141.8L418.3 140.9L422.9 144.6L424.1 146.9L427.4 148.0L430.1 148.2L427.5 145.5L430.4 146.2L434.1 146.7L432.6 145.0L434.6 143.2L438.1 143.2L439.0 142.3L437.0 140.0L436.6 137.8L440.8 138.9L440.8 141.1L442.6 141.4L444.6 139.8L447.5 138.7L452.4 138.2L455.0 138.5L458.8 137.6L462.4 138.0L463.4 136.7L463.5 134.9L469.7 136.0L471.7 136.5L475.8 137.8L478.4 138.5L474.5 135.6L472.5 132.8L471.4 130.6L472.3 128.3L474.2 128.1L478.9 128.5L481.3 131.2L481.7 133.8L484.4 136.7L487.5 138.9L487.2 142.7L490.0 141.6L489.2 138.9L486.3 136.2L484.9 133.0L481.8 131.0L482.9 128.5L488.6 129.8L490.5 127.0L495.5 126.4L498.5 125.4L498.7 123.9L502.9 122.7L507.9 121.7L513.6 121.3L514.9 119.9L518.1 118.5L523.2 119.9L526.5 120.7L531.8 120.7L537.0 122.3L537.8 124.1L536.1 126.0L542.9 127.0L550.0 127.0L558.7 127.0L564.6 127.2L569.4 128.5L573.3 131.2L576.6 132.3L578.3 131.0L583.2 131.0L589.1 131.2L587.9 129.1L588.6 128.5L596.2 129.3L606.4 130.8L613.0 132.5L618.4 132.3L627.2 133.8L632.2 135.6L637.7 135.4L641.4 134.5L645.2 134.3L648.7 136.0L648.0 136.7L650.9 134.7L656.5 135.1L664.9 136.7L678.4 145.7L677.3 146.2L675.0 146.4L679.0 148.0L684.2 150.6L686.0 152.0L681.2 151.5L678.9 153.2L677.7 155.1L676.7 157.4L671.0 156.2L668.7 157.4L665.3 157.7L667.7 160.8L667.5 162.7L671.9 164.7L673.3 166.6L674.6 169.6L673.7 172.1L673.4 174.6L675.1 177.1L674.6 179.8L670.7 177.1L665.1 172.1L660.1 167.1L658.5 163.5L659.0 161.0L657.7 157.4L659.5 156.0L659.6 153.4L656.0 151.5L653.1 153.2L656.6 155.8L649.0 153.2L647.5 153.9L649.8 158.6L646.5 159.8L641.9 158.5L638.0 158.9L632.5 158.9L628.3 159.0L626.6 162.3L625.6 165.2L626.1 168.9L624.2 170.3L629.9 172.1L632.5 172.8L634.8 172.1L639.3 174.1L641.2 178.3L644.0 182.1L646.7 185.9L645.8 189.7L644.8 194.3L644.0 197.9L641.8 200.5L638.9 199.7L637.2 201.2L636.5 203.6L637.5 205.7L635.2 208.0L635.0 209.8L637.8 211.4L640.9 214.3L643.4 218.2L643.6 220.3L641.5 221.3L638.7 222.4L637.6 220.8L636.9 218.2L635.3 216.1L635.5 214.3L634.0 213.7L631.4 213.2L630.5 211.4L630.0 209.1L627.5 208.0L625.0 209.1L622.3 210.9L622.1 208.3L621.9 206.2L618.9 205.4L617.3 208.0L614.8 209.8L614.8 211.4L618.5 213.7L619.3 215.1L622.2 213.5L626.8 214.5L626.9 215.8L623.6 218.2L622.1 220.8L625.5 223.4L628.3 227.1L631.3 229.4L631.8 231.5L629.9 232.8L633.2 234.1L633.3 237.5L631.9 240.4L631.0 244.3L629.5 247.7L628.1 248.5L625.8 251.4L622.0 253.2L620.6 254.0L619.1 254.5L615.9 255.5L612.7 256.9L612.7 259.2L611.3 257.9L610.5 255.8L607.8 255.8L607.0 256.1L605.0 257.9L603.1 260.3L602.9 263.1L605.1 266.0L607.3 268.4L609.9 270.4L611.9 273.6L613.0 277.0L613.4 280.9L612.7 282.7L609.6 285.1L608.1 285.3L608.0 287.4L604.9 289.5L603.8 289.8L603.8 286.6L602.8 285.1L600.7 284.8L599.3 282.5L598.8 281.9L597.0 280.1L594.2 279.2L593.8 277.2L591.7 277.5L592.0 280.4L590.8 284.8L590.8 288.0L592.8 290.0L593.9 293.4L596.5 294.5L597.9 296.1L600.1 298.1L601.2 300.5L601.2 303.1L602.5 305.7L603.4 308.6L601.6 308.9L599.3 307.0L596.7 304.7L595.2 301.8L594.1 298.1L593.5 295.5L592.0 293.4L589.8 291.4L589.0 291.9L588.8 288.7L589.3 286.1L588.7 282.2L589.0 279.6L587.4 275.7L585.8 271.8L585.3 269.1L583.3 268.1L582.1 269.4L580.3 271.1L577.9 270.4L577.9 266.5L576.7 263.1L575.0 260.5L573.3 259.5L571.7 257.9L570.4 255.3L570.0 254.0L567.7 253.5L566.6 255.0L564.1 255.3L561.8 255.3L559.5 256.6L559.6 258.7L558.6 260.3L555.9 261.6L553.7 264.4L552.3 266.0L550.3 268.6L548.2 270.4L545.9 272.3L546.0 275.7L546.7 278.0L545.8 281.4L546.1 285.3L544.3 288.0L542.6 289.0L541.2 291.1L538.9 289.0L537.8 286.1L536.7 282.7L534.3 278.5L532.1 273.6L531.2 271.8L529.7 267.8L528.2 262.6L527.5 259.5L527.4 256.9L526.7 254.2L526.1 256.9L523.5 258.2L521.1 257.4L518.6 254.2L521.1 252.4L517.8 251.6L516.3 250.3L514.4 249.5L513.3 247.4L511.9 245.9L507.5 246.3L503.0 246.4L501.0 246.7L496.2 245.9L492.3 245.1L490.2 242.2L488.5 241.3L485.4 243.0L481.2 241.7L477.5 239.3L475.7 236.7L473.7 233.9L471.2 232.8L470.2 234.0L469.1 234.0L469.1 235.4L470.5 237.8L472.1 240.4L474.6 242.7L475.3 245.4L476.9 247.6L476.7 245.6L477.4 243.9L478.5 246.1L478.0 248.0L478.8 249.0L480.8 249.0L483.1 249.3L485.0 248.2L486.8 246.1L488.4 244.2L489.0 243.4L489.1 245.4L489.4 247.2L490.0 248.2L492.2 249.8L494.7 250.6L497.7 253.5L496.8 256.3L495.7 258.9L494.0 262.6L491.2 265.2L488.6 266.8L486.0 267.8L483.8 268.7L481.9 271.5L477.0 273.5L475.0 274.4L471.4 276.2L468.0 277.2L465.8 278.8L462.4 279.2L461.8 277.5L461.0 274.4L460.4 271.8L460.3 269.4L459.5 267.8L456.8 263.9L454.6 260.5L451.4 256.3L450.5 253.2L448.2 249.3L446.2 246.4L444.5 243.8L442.0 240.4L440.3 238.8L440.3 235.6L440.2 235.2ZM461.4 192.3L463.3 191.5L467.5 190.2L470.1 190.0L471.9 191.5L472.2 194.1L469.1 194.1L468.5 195.9L466.9 196.1L469.0 198.2L469.8 199.5L472.7 200.5L473.8 203.1L475.5 202.3L477.8 203.1L478.1 204.7L475.9 205.2L474.7 205.2L475.2 207.8L476.9 209.3L478.0 210.6L478.9 214.8L475.0 216.1L472.9 216.4L470.2 214.4L467.6 211.9L468.0 209.6L467.9 207.2L469.6 206.7L467.6 206.0L466.1 203.9L464.3 202.5L462.1 200.0L461.6 197.4L459.8 195.9L460.3 193.6ZM424.2 204.7L427.2 204.9L429.1 204.4L430.2 203.4L432.8 202.6L436.7 202.5L439.4 204.4L443.1 205.2L446.7 205.2L450.3 203.9L450.3 202.2L448.5 200.0L445.6 198.7L441.6 196.4L441.0 195.6L438.8 194.6L438.9 193.8L440.2 193.1L440.8 192.3L441.2 191.0L440.9 190.2L442.8 189.6L442.1 189.1L439.5 189.6L437.8 190.4L435.2 191.5L434.5 192.5L436.6 193.8L438.0 193.7L438.0 194.3L435.9 194.8L434.2 195.5L433.7 196.3L432.0 196.0L431.9 194.3L429.8 193.9L431.8 192.3L429.5 192.0L428.0 190.5L427.2 190.7L425.7 191.0L424.9 192.8L424.0 194.1L422.4 196.9L422.4 199.0L421.0 199.5L420.6 201.3L421.6 202.6L422.2 203.9Z" fill="none" stroke="#6b655f" stroke-width="0.4"/><path d="M107.1 131.7L113.0 132.8L118.3 133.6L123.8 134.5L127.8 135.3L130.7 135.6L133.3 136.9L137.2 135.8L141.0 135.4L147.9 134.5L151.6 133.4L152.7 135.4L154.7 135.8L157.0 134.5L161.5 134.9L166.3 136.7L167.5 138.9L170.2 139.6L175.8 139.1L177.3 140.2L180.2 138.0L184.0 137.6L186.1 138.9L190.7 139.6L195.3 139.1L198.1 137.8L200.1 138.5L198.5 140.5L200.9 138.9L205.0 135.6L203.9 133.4L206.3 131.2L209.7 130.2L210.3 132.3L209.7 134.9L210.8 136.7L212.8 136.2L213.0 138.9L213.0 140.5L215.9 139.3L219.2 136.7L222.2 134.9L225.4 135.1L226.4 136.5L224.1 138.5L223.8 140.2L218.3 142.7L215.1 142.3L212.4 143.0L212.8 144.3L209.6 145.2L206.0 147.8L201.8 148.7L196.6 151.0L192.7 153.2L189.1 156.2L186.3 160.1L189.2 160.6L187.6 164.4L191.5 164.2L195.2 165.9L198.6 168.4L204.1 169.1L201.9 174.1L202.6 176.6L202.8 179.1L205.5 178.1L207.8 175.6L209.1 171.8L208.7 170.3L214.1 168.1L216.9 165.9L217.5 162.7L216.3 160.3L219.6 157.9L220.0 155.5L222.6 151.7L226.6 152.0L230.3 151.7L232.5 154.3L235.4 155.1L233.4 159.4L235.1 161.3L239.1 160.3L242.2 157.7L244.1 156.5L244.7 160.3L245.8 164.2L246.3 167.6L249.1 169.4L251.3 171.1L253.4 173.3L252.9 175.8L250.2 178.1L246.0 179.3L242.3 181.3L235.7 181.5L229.6 181.6L226.8 183.9L222.2 186.4L218.0 189.7L220.5 188.4L224.5 185.9L229.1 184.1L232.9 184.9L230.2 187.4L230.3 189.7L230.7 191.5L232.4 192.5L235.6 193.1L239.1 189.7L239.5 192.3L236.3 194.1L231.0 195.9L226.1 198.5L225.2 196.6L229.1 194.1L224.2 194.6L220.4 196.6L216.8 198.2L214.5 200.8L214.0 202.8L215.2 203.1L214.4 203.6L212.0 203.9L206.8 205.4L205.7 206.5L204.2 209.1L202.5 210.5L201.7 209.1L201.7 211.9L199.0 215.3L199.2 211.7L197.8 215.6L198.6 216.1L198.6 220.1L195.8 221.6L192.4 223.7L189.1 225.5L184.8 228.6L182.7 232.0L182.4 234.4L183.2 238.0L183.8 242.2L182.7 246.1L180.6 246.7L179.4 244.3L178.2 239.9L178.9 236.5L176.8 233.9L173.5 234.6L171.2 232.8L167.9 233.1L164.7 233.3L164.4 236.5L161.6 236.2L159.0 234.9L154.6 234.6L152.1 235.7L147.7 238.3L145.2 241.7L144.8 244.6L142.8 249.5L141.8 254.0L142.6 258.2L144.5 262.1L147.8 264.7L151.7 263.9L154.7 263.9L157.2 260.5L158.3 257.4L163.3 255.8L166.4 256.3L164.5 260.0L163.0 264.4L161.9 266.5L160.8 269.9L161.3 271.2L162.9 271.0L166.4 271.0L169.8 271.0L172.5 273.1L171.5 277.0L170.7 281.2L170.5 283.8L172.0 286.1L173.5 288.2L175.2 289.3L177.6 288.5L179.7 287.2L182.2 287.7L184.7 289.5L183.3 293.4L182.8 290.8L179.9 289.0L177.7 290.8L178.5 292.9L176.7 293.4L175.1 292.1L171.9 290.8L170.4 290.0L168.0 286.6L165.5 286.1L166.0 283.3L163.7 280.4L162.0 278.3L160.0 277.8L156.5 276.2L153.5 275.7L151.8 274.4L148.4 270.4L146.0 269.9L142.4 271.2L138.0 269.7L135.0 268.4L131.1 265.5L127.3 264.4L124.4 261.6L123.4 258.9L124.6 256.1L122.8 251.6L120.1 246.9L117.4 245.1L117.2 241.7L116.1 239.3L113.3 236.5L112.9 231.2L109.8 229.2L108.9 232.6L110.7 237.0L111.7 241.7L113.2 245.6L114.5 249.0L115.8 251.6L114.3 251.4L110.8 247.4L111.0 244.3L107.5 241.2L106.2 239.6L108.7 237.8L106.1 233.9L105.4 229.7L105.4 227.3L105.4 226.0L103.8 223.9L102.5 222.9L99.8 221.8L99.2 216.6L99.3 213.5L98.6 209.1L98.6 206.7L101.2 202.6L102.1 200.0L108.0 191.8L110.1 186.2L112.8 186.7L113.2 188.7L114.7 186.7L115.0 184.6L114.8 183.6L113.0 181.6L109.7 179.6L110.9 176.3L110.4 173.3L110.9 170.3L109.7 168.4L109.7 164.7L108.7 161.8L106.4 160.3L104.2 158.2L101.8 157.4L97.5 157.2L95.6 155.5L89.4 157.0L86.2 157.9L80.9 159.4L85.3 155.8L89.3 154.6L83.8 156.2L78.4 158.6L73.9 161.5L66.2 164.7L59.7 167.1L52.9 169.1L47.6 170.1L44.0 170.6L51.0 168.1L55.9 167.1L62.4 164.7L68.3 161.0L66.1 160.8L63.5 160.3L60.4 160.6L63.8 157.7L60.6 157.0L60.5 155.1L62.5 152.7L67.1 150.8L69.7 149.9L75.9 149.2L78.6 147.1L75.3 146.9L71.1 146.9L69.8 146.4L69.7 144.3L74.4 143.0L79.6 142.3L82.5 143.0L84.6 141.1L83.1 140.0L82.1 138.7L80.7 138.1L83.8 136.9L89.9 135.6L94.6 134.1L100.6 132.8ZM112.8 186.2L110.0 185.4L108.4 183.4L106.9 180.6L108.9 179.8L111.8 181.8L113.0 183.9ZM104.2 176.6L103.5 174.1L104.2 171.8L106.7 172.1L104.9 174.1ZM42.3 171.8L38.0 173.1L32.6 174.6L32.8 173.8L37.9 172.3L42.7 170.8ZM61.4 149.6L58.7 149.4L56.5 149.4L57.8 148.7L60.2 148.9L61.8 149.2ZM252.3 178.3L249.4 179.8L246.7 182.6L242.2 187.4L244.0 188.2L248.6 188.4L249.2 190.0L252.2 190.2L254.0 190.5L255.4 188.2L254.5 185.6L254.1 183.6L251.1 182.6L251.0 180.6ZM231.3 190.2L235.6 191.1L233.6 192.3L231.4 191.4ZM233.5 182.6L236.9 183.1L238.2 184.1L234.9 183.6ZM244.5 152.9L240.3 152.2L237.1 150.8L234.6 148.9L231.2 147.1L225.0 147.1L227.1 145.2L233.4 144.3L235.7 142.3L238.8 140.2L237.5 138.2L234.6 136.7L232.0 134.5L227.3 134.7L221.7 134.5L217.4 133.6L216.0 132.3L217.4 129.8L221.1 126.8L226.5 126.2L226.9 128.1L229.5 126.8L233.7 126.6L234.9 128.1L238.3 126.8L240.8 128.3L242.1 130.6L245.5 132.1L248.8 133.6L249.4 136.5L251.9 139.1L255.2 141.1L257.0 142.0L253.8 144.3L250.2 145.2L247.7 142.7L245.0 143.4L246.7 146.2L247.6 148.9L244.5 150.3L241.4 148.5L242.5 150.8ZM220.1 148.7L217.5 149.2L214.4 148.5L210.2 149.4L207.7 148.7L211.1 146.9L214.6 144.3L216.6 145.2L218.7 147.3ZM215.6 151.0L212.9 152.2L211.9 151.7L214.9 150.6ZM219.5 151.7L217.4 152.9L218.0 153.6ZM235.5 140.0L231.7 140.7L231.5 139.1L234.8 138.5ZM192.3 136.7L185.9 137.3L180.0 137.3L171.9 137.8L168.1 135.8L168.9 133.4L172.6 133.8L176.7 133.8L171.9 131.5L169.3 130.8L174.7 128.3L180.5 127.4L181.4 128.7L185.9 128.3L190.6 127.7L194.4 127.0L194.0 128.9L191.7 131.2L193.5 133.6L194.8 134.9ZM161.6 131.9L159.5 130.2L164.6 126.8L169.1 125.2L173.8 125.2L178.0 125.6L178.3 127.2L169.3 130.2L165.1 131.7ZM204.9 131.0L200.5 130.8L198.3 128.7L203.0 126.4L208.0 126.2L207.8 128.5ZM217.7 128.5L212.5 129.8L209.7 128.5L212.2 126.0L217.1 125.8L220.0 126.4ZM202.6 136.9L198.3 137.6L195.9 136.5L199.7 134.9L203.1 134.9ZM198.7 123.9L193.8 124.1L186.6 125.0L184.0 123.9L180.9 123.3L184.4 121.3L190.0 121.1L194.3 121.9L198.1 120.7L200.4 121.9ZM187.2 120.9L181.3 121.9L175.7 121.5L179.6 119.9L185.3 119.1L188.7 119.3ZM210.7 123.9L206.5 123.9L202.0 123.1L206.2 120.9L211.3 120.5L212.7 121.9ZM217.4 123.9L213.5 123.9L214.1 122.7L217.9 122.7ZM238.3 124.3L232.8 125.0L224.9 125.0L219.7 124.7L220.0 122.9L222.9 120.9L225.7 121.9L230.4 122.5L236.0 122.3L239.5 122.7ZM244.2 120.9L238.5 121.3L233.4 121.1L226.7 120.9L230.7 119.3L233.4 117.6L237.7 117.0L236.9 115.2L241.1 113.4L236.5 112.5L235.1 111.4L242.8 110.3L253.6 109.3L264.6 109.2L274.4 109.7L277.8 110.4L271.8 111.7L263.8 113.4L257.8 115.2L252.9 115.7L252.0 117.4L246.1 118.9ZM235.0 116.8L228.2 117.6L224.9 116.1L225.7 114.3L231.3 112.2L233.8 113.6L236.1 114.6ZM215.4 118.4L208.5 118.5L207.8 116.8L214.0 115.5L217.8 116.5ZM222.6 118.5L218.4 118.4L219.5 116.8L222.9 116.5ZM198.2 118.9L193.8 118.9L194.9 117.6L199.7 117.4ZM240.6 127.9L237.1 128.3L234.6 127.4L236.9 126.6L240.6 126.8ZM170.8 255.0L173.1 252.9L176.0 252.2L179.6 251.9L183.3 253.2L187.5 255.3L191.1 257.4L194.5 259.5L192.6 260.3L186.7 260.4L188.0 258.7L185.4 258.2L184.3 256.1L180.8 255.0L177.9 254.2L175.8 253.2L173.4 254.5ZM193.5 264.2L196.7 264.7L199.5 266.0L202.4 264.7L206.5 264.7L207.5 263.7L204.5 261.8L201.9 260.5L198.3 260.3L196.2 260.8L197.6 262.6L197.9 263.9L195.6 263.9ZM184.6 264.4L187.0 265.7L189.3 265.5L187.9 264.2L185.8 263.9ZM209.8 265.2L213.2 265.2L213.3 264.2L209.9 263.9ZM187.0 246.9L187.6 249.0L188.2 248.5L187.6 246.4ZM188.7 242.0L190.0 243.5L190.4 242.7L189.2 241.8ZM186.5 243.0L188.4 242.7L187.6 242.2ZM220.5 285.9L222.5 285.9L222.9 284.0L221.0 284.3ZM8.4 262.6L11.2 261.3L9.6 259.3L8.6 260.8ZM7.9 257.9L9.4 258.3L9.1 257.4ZM4.9 256.3L5.9 256.6L5.7 255.5ZM1.8 254.8L2.7 254.9L2.4 254.2ZM221.7 270.4L222.4 269.3L223.1 269.8L222.2 270.6ZM222.8 274.1L223.3 273.5L223.5 274.4ZM222.3 272.3L222.7 271.5L222.8 272.4ZM223.0 276.2L223.3 275.5L223.3 276.3ZM222.4 277.8L222.7 277.4L222.7 277.9ZM221.1 280.8L221.4 280.4L221.4 280.9ZM226.1 278.0L226.4 277.5L226.5 278.0ZM221.7 267.7L222.0 267.4L222.1 267.8ZM184.7 289.5L186.0 291.4L187.2 289.0L188.9 287.4L189.3 285.1L191.0 283.3L192.4 282.7L195.2 282.2L198.3 279.9L199.6 280.9L199.1 281.4L197.7 282.5L198.3 284.0L197.2 286.6L199.0 288.2L199.5 286.1L198.5 283.8L201.6 282.5L202.2 280.4L202.5 282.2L205.7 283.0L206.0 284.8L210.7 284.6L213.3 285.9L215.0 285.1L218.0 284.3L220.5 284.3L218.9 285.6L222.5 287.4L222.8 289.8L225.1 290.6L228.0 294.0L230.9 296.6L233.9 296.8L238.3 297.1L240.8 298.4L243.5 301.3L245.0 304.4L247.3 307.8L246.1 311.0L247.3 312.3L250.7 313.0L252.4 313.8L256.5 315.1L260.0 318.0L263.5 318.5L266.9 319.8L270.4 319.6L273.9 321.9L276.9 324.8L281.3 325.8L282.3 330.8L282.2 335.5L279.1 339.7L277.1 342.3L274.5 346.2L273.6 351.5L273.4 358.0L272.4 363.5L270.2 368.4L268.0 372.1L265.3 372.4L261.7 373.2L258.5 375.0L255.1 377.6L253.8 380.7L254.2 386.0L251.8 390.1L250.0 393.3L248.1 396.4L245.9 400.3L245.3 402.2L243.2 403.6L240.3 403.5L236.6 402.3L235.1 401.1L235.4 402.7L238.4 404.5L238.6 406.9L240.0 407.4L239.2 411.6L236.4 413.4L231.2 414.2L229.6 413.6L230.7 418.1L227.7 419.6L225.0 418.8L225.7 421.9L229.2 423.2L227.6 424.3L226.6 426.3L227.6 429.7L224.0 431.2L223.9 432.2L228.4 435.3L228.8 437.1L226.7 440.4L224.9 443.2L225.9 446.5L228.0 448.3L226.0 448.7L223.8 449.5L224.7 451.9L224.0 452.2L221.0 450.7L218.5 449.5L215.4 448.0L212.6 443.7L210.1 439.1L211.2 436.8L207.9 434.0L210.3 431.7L210.2 428.4L209.9 423.2L208.8 420.6L207.1 421.2L205.9 416.8L204.8 411.6L204.8 409.2L205.0 405.0L205.7 399.8L204.8 393.3L204.4 390.4L204.2 384.1L204.5 378.6L204.1 373.9L203.8 367.1L203.7 365.1L202.9 360.3L199.8 357.5L196.2 355.4L190.9 352.5L188.1 348.6L185.9 343.9L183.5 338.9L180.9 333.7L178.7 330.3L175.8 327.9L175.3 324.5L177.5 321.1L178.3 318.8L176.0 318.3L176.2 314.9L177.8 312.3L177.8 310.2L180.6 308.6L181.3 305.7L183.9 305.5L184.9 302.1L184.1 297.9L184.4 294.8L183.3 293.4ZM227.9 449.1L229.4 450.7L232.1 452.4L236.7 454.1L234.6 455.0L231.1 455.9L228.0 455.4L224.3 453.7L222.8 452.4L225.2 451.5L224.9 449.7L226.5 449.0ZM207.8 421.4L207.0 422.7L207.4 425.3L209.0 425.6L208.4 422.7ZM349.9 218.7L351.2 218.4L353.1 220.3L356.2 220.0L357.9 220.5L360.5 219.0L364.9 216.9L369.2 216.1L373.5 216.1L377.8 215.6L381.3 215.8L383.8 214.8L384.9 215.8L386.6 215.3L385.6 217.1L385.7 219.0L386.8 220.3L386.0 222.1L384.8 223.4L385.7 224.4L387.0 224.7L387.9 225.5L390.1 226.5L391.7 226.3L396.1 227.6L397.3 230.2L401.4 231.5L404.8 233.1L406.9 231.5L406.9 228.4L409.9 226.3L413.7 227.8L418.0 229.7L422.7 230.2L426.8 231.5L428.9 230.5L431.0 229.7L434.0 230.5L438.2 230.5L440.2 235.2L439.5 237.8L439.1 239.8L437.5 238.3L436.1 236.5L435.0 234.1L434.6 235.2L435.9 237.8L437.7 240.1L438.5 241.7L439.8 244.6L442.6 249.5L443.0 252.2L446.1 254.8L446.9 257.4L447.3 261.0L450.3 265.2L452.2 270.4L452.9 271.5L454.6 273.1L456.9 274.4L459.8 277.8L461.5 279.1L462.0 280.9L462.1 282.2L460.7 281.9L461.8 282.3L463.8 285.0L466.1 285.1L469.5 284.0L472.9 283.3L476.3 282.7L479.2 281.0L480.4 281.3L480.1 284.8L479.5 287.4L477.8 291.4L475.6 296.6L473.4 300.5L470.0 304.9L467.2 307.0L464.3 309.6L461.3 313.0L458.7 316.6L456.9 318.5L455.2 320.6L454.0 323.0L453.1 324.5L452.1 327.9L453.2 330.0L453.4 333.2L453.7 337.1L455.5 339.7L455.5 344.9L455.8 350.2L455.1 354.1L451.6 356.7L446.9 359.0L445.2 361.4L441.9 364.0L441.9 367.1L442.8 371.1L442.4 375.0L437.9 378.1L435.8 380.2L436.3 382.4L434.8 386.7L431.4 390.4L428.9 394.1L424.8 397.7L421.8 400.1L418.9 401.1L414.0 401.4L410.9 401.6L406.3 403.2L403.9 402.2L403.0 402.0L402.9 400.9L402.0 398.0L403.0 395.1L401.0 391.4L399.4 387.0L397.8 384.1L396.5 381.8L395.3 376.3L395.4 372.1L393.0 366.6L390.9 361.4L389.6 357.3L389.6 354.1L390.6 350.2L393.4 344.9L394.4 341.0L393.1 335.8L392.2 330.6L391.0 327.9L390.4 325.3L388.3 322.5L385.1 318.5L383.5 315.4L383.0 314.1L384.2 311.2L384.9 309.6L385.3 306.2L385.1 303.1L384.6 302.1L383.2 300.4L382.3 300.0L378.8 300.8L376.5 301.0L374.2 297.9L372.8 295.8L370.5 295.5L368.9 295.7L366.4 296.1L362.7 297.6L358.1 299.7L355.6 298.9L353.5 298.5L348.9 299.7L345.4 300.9L342.0 299.2L337.8 295.8L336.2 294.2L333.9 292.9L332.3 290.0L332.1 288.7L331.2 287.4L328.9 284.6L328.3 283.5L326.5 281.4L324.4 280.1L324.2 278.0L324.5 277.0L324.3 275.7L322.7 273.8L324.3 271.2L325.0 270.2L326.3 265.2L325.9 261.6L325.3 260.0L324.1 257.9L324.2 256.3L326.7 250.3L329.2 246.9L330.2 244.1L333.2 239.9L337.1 238.0L340.3 235.4L341.2 232.8L341.1 229.9L342.3 227.3L344.1 225.2L346.1 224.4L347.8 223.4L349.2 220.5ZM475.8 343.6L477.7 347.5L478.1 352.2L476.4 354.1L475.4 358.0L473.9 363.2L471.9 368.4L470.0 373.7L468.3 377.6L464.8 379.0L461.6 377.1L461.0 373.4L460.5 369.8L463.1 365.3L463.5 361.9L462.9 358.0L464.2 354.6L467.7 353.3L471.3 350.9L472.6 347.8L474.6 344.9ZM377.7 312.0L378.2 311.2L378.3 312.0ZM461.8 342.3L462.5 342.6L462.3 343.4ZM464.1 343.9L464.7 344.1L464.3 344.7ZM492.6 365.1L493.5 364.5L493.7 365.3L493.0 365.8ZM490.3 324.3L490.8 324.3L490.7 324.8ZM308.4 273.1L309.1 272.3L309.1 273.2ZM305.1 267.7L305.9 267.3L305.6 268.0ZM310.3 270.2L310.9 269.9L310.8 270.4ZM306.8 273.5L307.2 273.1L307.1 273.6ZM60.5 136.7L62.2 137.8L64.0 140.0L67.5 141.1L68.5 143.2L64.4 144.6L58.6 147.1L56.2 147.3L53.9 146.4L54.8 144.6L53.1 143.0L47.0 145.7ZM655.1 132.1L658.3 132.6L655.9 131.2L654.3 131.2ZM67.1 132.6L70.6 132.5L72.5 131.9L71.3 131.1L69.5 131.2ZM351.3 182.0L352.7 182.1L355.7 181.3L358.7 180.6L360.7 180.2L363.3 180.2L365.5 179.2L365.5 178.6L363.7 178.3L364.7 177.6L366.1 175.8L365.2 174.7L363.3 174.8L363.3 173.3L362.5 173.1L362.3 171.7L360.4 170.6L359.8 169.6L358.9 167.6L357.0 167.1L357.7 166.2L358.9 164.4L359.3 163.2L356.1 163.0L354.8 163.5L356.9 160.8L353.4 160.8L352.7 162.5L351.7 164.0L352.0 165.9L351.7 168.9L353.3 167.9L353.4 169.6L352.8 170.3L355.8 169.8L356.1 171.3L357.1 172.6L356.6 173.6L354.3 173.8L353.9 175.1L354.6 176.1L352.4 177.3L354.2 178.1L356.6 178.6L357.4 178.1L356.5 179.1L354.4 179.1L353.5 180.1ZM350.6 173.8L350.9 174.8L350.1 176.6L346.9 177.6L343.3 178.4L342.2 177.1L344.0 175.6L344.5 174.3L343.0 173.3L343.5 171.6L346.2 171.3L345.9 170.3L346.9 169.1L348.7 168.7L351.0 169.1L351.9 170.3L352.0 171.3L350.8 172.0ZM322.4 148.5L325.4 148.5L328.8 149.4L332.5 148.6L336.2 147.4L338.8 145.7L337.5 143.4L335.1 142.3L331.5 143.2L327.5 143.2L325.3 144.8L323.8 142.4L321.0 143.9L323.4 144.8L324.1 145.7L320.5 146.0L323.9 146.9ZM388.0 120.8L383.7 119.1L382.7 117.8L378.8 116.5L378.3 115.0L382.1 114.5L385.6 114.3L389.5 115.2L390.5 116.5L394.3 117.0L390.1 118.0L389.1 119.9ZM388.5 114.1L394.0 113.4L401.4 114.1L399.0 115.5L392.4 115.5ZM394.1 118.9L397.9 119.3L399.1 118.2L394.5 117.6ZM446.3 130.6L446.3 129.1L447.2 127.7L448.6 126.0L449.0 123.9L451.8 122.3L455.7 121.3L461.0 120.3L466.2 120.0L466.3 121.3L461.4 122.9L457.0 124.3L454.9 126.0L453.4 127.4L453.6 129.1L453.6 130.6L457.5 133.0L453.3 133.2L449.0 132.8ZM428.1 113.4L434.2 113.9L436.7 113.4L431.9 112.7ZM511.0 118.0L516.4 118.2L517.3 116.6L511.4 115.5L508.6 116.1ZM498.4 115.5L504.6 116.5L507.1 115.0L503.3 113.7L498.0 114.1ZM493.8 113.6L499.2 113.9L500.7 112.9L496.2 112.2ZM575.4 123.3L580.4 124.5L585.3 124.1L585.9 123.1L577.9 121.5L574.4 121.7ZM590.0 123.7L595.7 124.3L596.4 123.5L591.8 122.9ZM584.9 127.2L589.8 127.7L590.5 127.0L586.1 126.2ZM639.1 171.1L643.3 174.6L646.7 178.3L650.2 182.1L654.8 184.9L650.8 184.1L653.6 188.4L656.9 191.0L654.5 190.5L654.8 192.4L652.0 188.4L649.4 184.6L646.2 180.8L642.5 177.1L639.6 173.6ZM389.4 213.5L391.2 212.4L396.3 212.3L395.2 214.3L395.4 216.5L392.9 215.3L389.8 214.1ZM382.1 204.5L383.5 206.5L383.1 210.1L381.7 210.6L380.6 209.8L380.5 206.7L380.1 205.2ZM382.4 200.0L382.8 202.3L382.1 204.1L380.8 202.8L380.8 201.5L382.2 200.8ZM413.9 219.4L415.9 219.7L417.2 219.9L419.9 220.0L419.5 220.8L416.5 220.9L413.8 220.1ZM433.0 220.9L434.2 220.3L435.5 219.9L437.8 219.0L436.8 220.8L434.6 221.8L433.3 221.4ZM384.0 167.9L385.6 166.9L386.8 167.9L386.2 169.6L385.3 169.8L384.3 169.1ZM393.5 218.3L394.0 218.1L394.3 218.6L393.8 218.7ZM658.9 203.9L660.3 203.1L658.7 201.3L664.3 202.7L665.0 200.0L667.3 199.1L664.6 196.6L660.8 196.6L655.6 193.6L656.7 196.1L658.0 199.2L656.3 199.5L656.4 201.3ZM661.3 204.1L663.0 206.5L665.4 208.8L665.2 212.2L667.0 215.6L667.9 218.2L668.3 219.0L667.5 221.1L666.3 219.5L665.5 220.5L665.2 221.7L664.1 220.8L663.9 221.8L661.3 221.8L660.6 220.8L661.5 222.6L660.0 224.8L657.7 222.9L657.6 221.7L654.8 221.8L653.0 222.6L649.0 223.5L648.5 222.4L650.0 220.8L650.7 219.6L653.7 219.4L656.9 219.2L657.8 219.0L657.9 216.1L657.3 214.8L658.4 214.3L658.6 216.1L661.0 214.5L661.5 213.2L661.6 210.4L660.1 208.0L659.6 206.2L659.3 204.7L661.1 205.4ZM651.8 225.1L654.0 226.5L654.7 226.8L655.1 225.0L656.8 225.4L657.2 223.9L656.6 222.9L654.4 223.4L652.9 223.4ZM648.8 223.7L650.9 224.4L652.4 226.5L652.6 230.2L651.4 231.2L649.9 230.2L649.1 228.1L647.5 226.8L646.6 225.2L648.1 224.4ZM635.8 255.0L633.8 252.2L634.2 248.8L635.4 246.1L636.6 247.4L636.4 251.6ZM609.6 262.6L611.7 264.7L613.8 263.1L614.5 260.8L612.8 259.7L610.4 260.5ZM546.3 286.6L547.0 286.6L549.5 290.0L551.2 293.2L550.9 295.3L548.4 296.7L546.7 295.0L546.1 291.4ZM637.5 263.7L640.5 263.9L641.4 267.8L640.2 270.4L640.6 273.3L642.3 275.4L644.9 275.9L647.2 279.5L645.2 278.3L642.0 276.2L639.7 276.5L638.6 274.9L637.3 273.6L636.0 269.7L637.0 268.9L636.8 266.5ZM638.4 277.2L640.8 277.5L641.3 279.9L639.9 280.4ZM632.3 290.3L634.1 289.0L637.1 284.3L637.4 282.7L636.5 284.6L633.9 287.2ZM647.7 279.6L649.9 279.6L651.5 283.0L650.4 285.6L649.9 286.1L648.3 283.8L648.3 281.4ZM642.4 281.4L645.2 281.9L646.1 284.8L647.6 285.3L646.2 288.2L645.6 288.6L644.0 286.6L642.9 284.8ZM643.8 294.2L644.2 291.6L646.3 289.8L648.7 290.6L649.6 289.8L651.1 286.6L653.3 290.0L654.2 293.2L653.4 295.8L652.2 294.0L651.7 297.6L648.8 296.1L648.7 293.4L646.6 292.9L644.7 293.2ZM615.8 306.9L617.3 307.8L619.8 305.2L623.4 303.9L625.6 300.8L627.8 299.2L630.0 296.6L631.7 294.0L633.8 295.5L634.6 297.1L637.6 298.7L635.5 300.8L633.9 301.4L634.5 304.4L635.0 306.5L637.4 309.6L634.6 310.2L633.9 313.6L632.3 315.5L631.1 319.3L630.3 321.7L627.0 323.1L626.8 321.4L623.4 320.6L620.6 321.4L617.0 319.8L616.8 316.7L614.8 313.6L614.6 311.5L614.3 309.1ZM582.3 297.6L587.4 298.7L590.4 302.3L593.5 305.5L595.8 306.8L598.8 308.9L601.4 311.0L602.3 313.0L603.7 314.9L603.9 317.0L607.0 319.8L606.9 324.0L606.6 327.5L603.6 326.9L600.2 324.3L598.7 322.5L595.8 318.8L594.3 314.9L591.5 311.5L590.5 307.8L587.2 303.9L584.1 301.0ZM605.2 329.9L607.2 327.7L609.0 328.1L612.7 329.2L616.9 330.3L618.4 329.1L622.2 330.3L626.2 332.6L626.2 335.1L622.0 334.2L618.1 333.8L613.6 332.5L610.1 332.4L607.7 331.5L605.4 330.2ZM626.2 333.7L628.9 334.0L627.7 335.3ZM629.6 334.2L631.2 334.2L630.4 335.5ZM631.4 334.5L634.2 334.0L636.5 334.2L636.2 335.3L631.8 335.8ZM638.5 334.5L642.2 334.5L645.7 334.0L645.2 334.7L639.8 335.4ZM636.3 337.1L638.6 336.8L640.3 338.4L638.4 339.2ZM646.4 339.2L646.7 338.4L648.7 336.6L650.1 335.6L651.7 334.5L655.6 334.2L653.6 335.8L650.3 337.0L648.5 338.7ZM637.9 326.9L640.3 326.9L640.2 322.7L640.5 319.8L641.9 319.3L643.1 323.0L644.0 325.1L645.9 324.0L645.3 321.1L644.6 320.1L644.3 317.5L643.1 317.2L647.7 314.6L644.3 314.6L642.0 315.7L641.1 314.9L639.7 313.8L640.0 312.3L639.8 311.0L642.0 311.1L645.5 311.0L646.9 311.0L650.1 311.1L651.6 307.9L648.9 309.6L646.6 309.8L643.2 309.5L641.5 308.9L639.7 310.2L639.3 312.0L639.4 314.6L638.1 316.2L637.5 318.8L636.8 319.6L637.1 321.5L638.3 322.2L638.2 324.0ZM657.0 309.6L658.1 306.5L659.8 309.6L658.6 314.4L657.5 311.7ZM658.0 320.6L660.4 319.6L663.3 320.1L664.5 320.9L661.4 321.4ZM653.4 320.6L656.2 320.9L655.2 322.2L653.6 321.7ZM665.1 314.4L668.6 313.3L672.3 314.5L672.7 317.5L673.0 319.6L674.1 320.9L677.7 318.0L680.8 316.2L683.5 317.5L687.4 318.9L688.1 319.1L691.5 320.6L694.0 321.5L696.0 322.5L698.8 325.8L701.4 327.9L703.2 329.8L701.3 329.9L702.2 332.6L703.6 334.7L705.4 335.8L707.4 338.7L709.3 339.0L707.2 340.0L703.9 338.9L701.1 337.1L698.7 333.4L696.0 332.4L692.9 334.0L691.5 336.3L690.8 336.6L686.9 336.0L684.8 333.7L681.8 334.2L679.5 334.2L682.3 331.3L682.2 329.2L680.8 326.6L676.3 324.3L672.2 322.5L669.2 323.0L667.3 319.8L670.8 318.8L671.5 318.5L668.0 318.0L665.8 316.2L664.9 315.7ZM704.5 326.6L708.9 326.6L712.0 325.1L713.7 323.2L713.8 325.3L710.6 327.9L707.1 328.7ZM710.7 319.1L713.3 321.4L715.5 324.5L714.9 323.2L712.2 320.1ZM719.2 326.6L721.8 330.0L720.6 330.3L718.9 327.9ZM602.0 308.9L602.4 308.5L602.8 308.7L602.4 309.0ZM690.0 340.2L691.7 344.9L691.6 349.9L694.8 351.5L695.0 356.4L695.1 361.4L696.0 362.4L699.8 365.8L700.5 367.9L702.8 372.4L705.2 377.6L706.8 377.6L704.9 382.8L704.5 387.1L701.2 392.0L698.2 396.4L693.5 400.6L690.4 404.3L686.4 408.9L685.6 410.2L680.8 411.3L675.6 414.4L673.9 412.1L674.1 411.3L669.7 413.8L666.3 412.3L664.5 411.3L664.4 408.9L665.2 406.1L663.4 405.3L662.4 405.4L664.4 403.2L664.0 401.6L661.9 404.3L660.3 404.5L663.1 401.1L665.4 397.5L662.4 400.3L659.1 402.7L658.6 403.5L657.5 402.4L657.0 398.5L657.1 397.7L654.4 395.9L652.0 394.6L647.0 395.1L639.8 396.7L635.1 398.5L632.6 400.9L629.1 400.9L624.9 401.0L619.4 403.9L615.2 403.5L613.8 402.0L614.4 400.1L616.2 399.3L617.5 395.9L617.2 392.0L617.6 387.5L617.2 384.1L616.3 380.5L618.5 377.6L617.9 376.3L619.3 371.3L620.4 369.2L621.0 371.1L623.9 368.4L627.0 366.1L631.5 365.3L632.5 364.5L637.2 363.5L640.7 359.3L641.4 356.7L643.0 355.1L644.2 357.7L645.6 354.9L648.4 351.5L651.0 348.8L653.2 348.2L655.8 350.9L657.6 351.2L658.9 351.2L660.4 347.5L661.4 345.2L662.7 344.8L666.6 343.9L665.5 341.5L667.0 342.1L669.0 343.1L672.3 344.1L676.2 343.6L676.6 344.4L674.1 347.5L673.3 351.5L675.4 353.8L679.5 356.4L679.9 357.7L683.3 358.0L685.9 352.8L686.9 347.5L688.2 343.6L688.9 341.0ZM669.4 418.6L672.6 419.6L676.8 419.0L674.9 421.9L672.2 425.0L668.9 426.1L667.4 425.8L668.0 422.5L668.6 419.9ZM659.1 405.7L661.4 405.3L662.2 405.9L660.4 406.5L659.0 406.3ZM739.4 402.2L740.1 402.2L741.6 404.5L740.2 408.4L742.0 407.6L742.8 408.2L741.8 410.6L743.4 411.6L746.8 410.8L744.7 413.1L742.9 414.4L740.0 415.5L738.5 417.5L735.8 419.3L732.5 420.9L732.1 420.1L733.7 418.6L735.3 417.0L733.8 415.5L733.7 414.9L736.7 413.1L738.6 411.0L739.4 408.7L739.6 407.4L739.3 405.0L739.1 404.3ZM729.2 418.1L728.5 419.9L729.1 419.9L731.4 419.3L730.1 421.3L727.5 423.0L723.2 425.9L723.3 426.7L718.4 428.1L714.2 431.9L710.0 433.8L707.7 433.8L706.9 432.8L705.2 432.1L708.2 429.7L710.7 428.6L712.6 427.1L715.2 426.1L719.0 424.5L722.2 423.1L724.5 421.2L727.1 419.1ZM704.6 435.3L706.7 434.5L705.6 435.3ZM766.3 358.3L767.6 357.7L769.4 358.8L768.2 359.8L766.2 359.6ZM769.7 356.4L773.1 354.6L772.9 355.6L770.6 356.6ZM743.5 351.2L744.7 351.2L744.5 353.0L743.6 353.0ZM744.3 354.1L745.5 354.9L744.6 355.6ZM745.6 358.3L746.5 358.5L745.7 358.9ZM729.7 336.6L732.4 337.1L732.2 338.1L730.0 337.9ZM732.2 334.2L733.1 334.7L733.7 337.3L732.8 336.8ZM727.1 331.9L730.4 334.0L729.9 334.5L727.5 333.0ZM723.2 329.8L725.8 331.3L725.1 331.7L723.3 330.6ZM724.5 333.2L726.0 334.2L725.4 335.0L724.2 334.0ZM733.3 339.2L735.4 340.2L734.2 340.5L733.2 339.7ZM-33.0 347.5L-31.6 347.5L-29.8 348.6L-30.9 348.8L-32.6 348.3Z" fill="none" stroke="#6b655f" stroke-width="0.4"/>
</g>
<g class="leg">
<rect x="36.5" y="537" width="47.5" height="11.5" fill="url(#hatch)" stroke="#cfcfcf" stroke-width="0.8"/>
<text x="60" y="529" text-anchor="middle">No data</text>
<line x1="60" x2="60" y1="533" y2="537" stroke="#bcbcbc" stroke-width="0.8"/>
<rect x="103.5" y="537" width="64.5" height="11.5" fill="#dcccba" stroke="#9a9a9a" stroke-width="0.45"/><rect x="168.0" y="537" width="64.5" height="11.5" fill="#edf8b1" stroke="#9a9a9a" stroke-width="0.45"/><rect x="232.5" y="537" width="64.5" height="11.5" fill="#c7e9b4" stroke="#9a9a9a" stroke-width="0.45"/><rect x="297.0" y="537" width="64.5" height="11.5" fill="#7fcdbb" stroke="#9a9a9a" stroke-width="0.45"/><rect x="361.5" y="537" width="64.5" height="11.5" fill="#41b6c4" stroke="#9a9a9a" stroke-width="0.45"/><rect x="426.0" y="537" width="64.5" height="11.5" fill="#1d91c0" stroke="#9a9a9a" stroke-width="0.45"/><rect x="490.5" y="537" width="64.5" height="11.5" fill="#225ea8" stroke="#9a9a9a" stroke-width="0.45"/><rect x="555.0" y="537" width="64.5" height="11.5" fill="#2449a0" stroke="#9a9a9a" stroke-width="0.45"/><rect x="619.5" y="537" width="64.5" height="11.5" fill="#253494" stroke="#9a9a9a" stroke-width="0.45"/><rect x="684.0" y="537" width="64.5" height="11.5" fill="#172976" stroke="#9a9a9a" stroke-width="0.45"/><rect x="748.5" y="537" width="64.5" height="11.5" fill="#081d58" stroke="#9a9a9a" stroke-width="0.45"/>
<line x1="135.7" x2="135.7" y1="519" y2="537" stroke="#bcbcbc" stroke-width="0.8"/>
<text x="135.7" y="515" text-anchor="middle">No carbon price</text>
<line x1="232.5" x2="232.5" y1="533" y2="537" stroke="#bcbcbc" stroke-width="0.8"/><text x="232.5" y="530" text-anchor="middle">10%</text><line x1="297.0" x2="297.0" y1="519" y2="537" stroke="#bcbcbc" stroke-width="0.8"/><text x="297.0" y="515" text-anchor="middle">20%</text><line x1="361.5" x2="361.5" y1="533" y2="537" stroke="#bcbcbc" stroke-width="0.8"/><text x="361.5" y="530" text-anchor="middle">30%</text><line x1="426.0" x2="426.0" y1="519" y2="537" stroke="#bcbcbc" stroke-width="0.8"/><text x="426.0" y="515" text-anchor="middle">40%</text><line x1="490.5" x2="490.5" y1="533" y2="537" stroke="#bcbcbc" stroke-width="0.8"/><text x="490.5" y="530" text-anchor="middle">50%</text><line x1="555.0" x2="555.0" y1="519" y2="537" stroke="#bcbcbc" stroke-width="0.8"/><text x="555.0" y="515" text-anchor="middle">60%</text><line x1="619.5" x2="619.5" y1="533" y2="537" stroke="#bcbcbc" stroke-width="0.8"/><text x="619.5" y="530" text-anchor="middle">70%</text><line x1="684.0" x2="684.0" y1="519" y2="537" stroke="#bcbcbc" stroke-width="0.8"/><text x="684.0" y="515" text-anchor="middle">80%</text><line x1="748.5" x2="748.5" y1="533" y2="537" stroke="#bcbcbc" stroke-width="0.8"/><text x="748.5" y="530" text-anchor="middle">90%</text><line x1="813.0" x2="813.0" y1="519" y2="537" stroke="#bcbcbc" stroke-width="0.8"/><text x="829.0" y="515" text-anchor="end">100%</text>
</g>
<text class="foot" x="17" y="581"><tspan font-weight="bold">Data source:</tspan> Dolphin and Merkle (2024)</text>
<text class="foot" x="829.5" y="581" text-anchor="end">OurWorldinData.org/co2-and-greenhouse-gas-emissions | CC BY</text>
</svg>
</body></html>
